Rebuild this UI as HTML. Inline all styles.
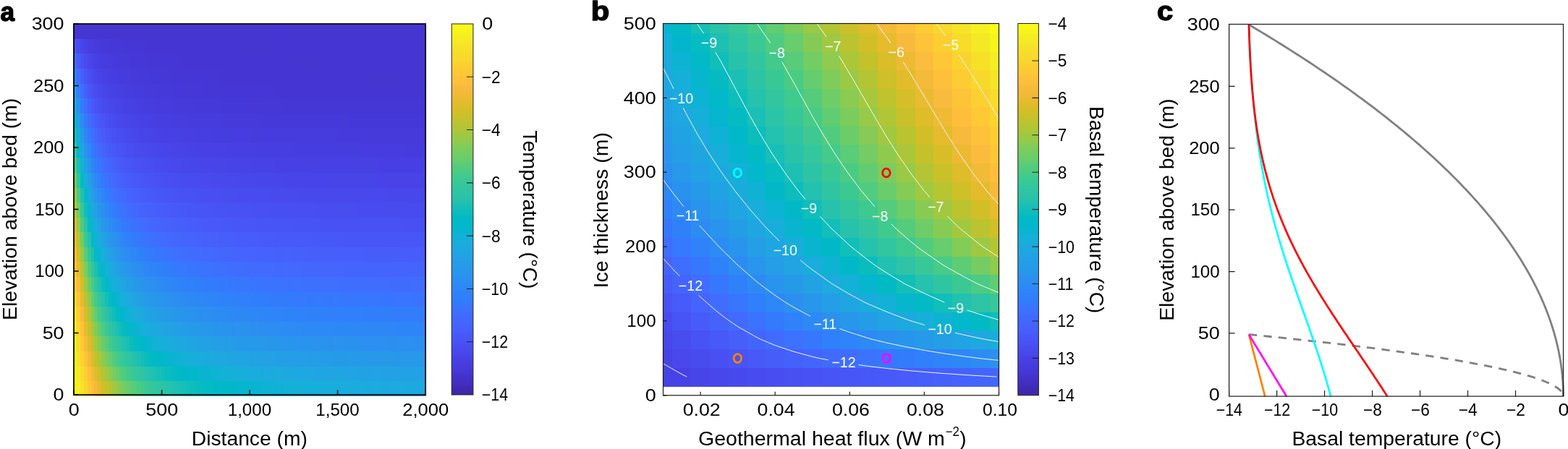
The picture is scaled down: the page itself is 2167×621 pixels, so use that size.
<!DOCTYPE html>
<html><head><meta charset="utf-8"><title>Figure</title>
<style>html,body{margin:0;padding:0;background:#fff;}svg{display:block;}text{font-family:'Liberation Sans', Arial, Helvetica, sans-serif;}</style>
</head><body>
<svg width="2167" height="621" viewBox="0 0 2167 621">
<rect width="2167" height="621" fill="#fff"/>
<g shape-rendering="crispEdges">
<rect x="101.2" y="33.2" width="487.6" height="21.18" fill="#4536d2"/>
<rect x="101.2" y="53.78" width="5.47" height="21.18" fill="#4756f7"/>
<rect x="106.07" y="53.78" width="5.47" height="21.18" fill="#484cf0"/>
<rect x="110.94" y="53.78" width="5.47" height="21.18" fill="#4745e9"/>
<rect x="115.81" y="53.78" width="5.47" height="21.18" fill="#4741e5"/>
<rect x="120.68" y="53.78" width="5.47" height="21.18" fill="#473ee1"/>
<rect x="125.55" y="53.78" width="5.47" height="21.18" fill="#463cdf"/>
<rect x="130.42" y="53.78" width="5.47" height="21.18" fill="#463bdd"/>
<rect x="135.29" y="53.78" width="5.47" height="21.18" fill="#463adb"/>
<rect x="140.16" y="53.78" width="5.47" height="21.18" fill="#4639da"/>
<rect x="145.03" y="53.78" width="5.47" height="21.18" fill="#4639d9"/>
<rect x="149.9" y="53.78" width="10.34" height="21.18" fill="#4538d8"/>
<rect x="159.64" y="53.78" width="10.34" height="21.18" fill="#4538d7"/>
<rect x="169.38" y="53.78" width="15.21" height="21.18" fill="#4537d6"/>
<rect x="183.99" y="53.78" width="15.21" height="21.18" fill="#4537d5"/>
<rect x="198.6" y="53.78" width="5.47" height="21.18" fill="#4536d5"/>
<rect x="203.47" y="53.78" width="39.56" height="21.18" fill="#4536d4"/>
<rect x="242.43" y="53.78" width="88.26" height="21.18" fill="#4536d3"/>
<rect x="330.09" y="53.78" width="54.17" height="21.18" fill="#4536d2"/>
<rect x="383.66" y="53.78" width="205.14" height="21.18" fill="#4535d2"/>
<rect x="101.2" y="74.36" width="5.47" height="21.18" fill="#406dfe"/>
<rect x="106.07" y="74.36" width="5.47" height="21.18" fill="#475cfa"/>
<rect x="110.94" y="74.36" width="5.47" height="21.18" fill="#4852f4"/>
<rect x="115.81" y="74.36" width="5.47" height="21.18" fill="#484bee"/>
<rect x="120.68" y="74.36" width="5.47" height="21.18" fill="#4746ea"/>
<rect x="125.55" y="74.36" width="5.47" height="21.18" fill="#4743e7"/>
<rect x="130.42" y="74.36" width="5.47" height="21.18" fill="#4740e4"/>
<rect x="135.29" y="74.36" width="5.47" height="21.18" fill="#473ee2"/>
<rect x="140.16" y="74.36" width="5.47" height="21.18" fill="#463de0"/>
<rect x="145.03" y="74.36" width="5.47" height="21.18" fill="#463cde"/>
<rect x="149.9" y="74.36" width="5.47" height="21.18" fill="#463bdd"/>
<rect x="154.77" y="74.36" width="5.47" height="21.18" fill="#463adc"/>
<rect x="159.64" y="74.36" width="5.47" height="21.18" fill="#463adb"/>
<rect x="164.51" y="74.36" width="5.47" height="21.18" fill="#4639da"/>
<rect x="169.38" y="74.36" width="5.47" height="21.18" fill="#4639d9"/>
<rect x="174.25" y="74.36" width="5.47" height="21.18" fill="#4539d9"/>
<rect x="179.12" y="74.36" width="10.34" height="21.18" fill="#4538d8"/>
<rect x="188.86" y="74.36" width="15.21" height="21.18" fill="#4538d7"/>
<rect x="203.47" y="74.36" width="20.08" height="21.18" fill="#4537d6"/>
<rect x="222.95" y="74.36" width="24.95" height="21.18" fill="#4537d5"/>
<rect x="247.3" y="74.36" width="5.47" height="21.18" fill="#4536d5"/>
<rect x="252.17" y="74.36" width="49.3" height="21.18" fill="#4536d4"/>
<rect x="300.87" y="74.36" width="102.87" height="21.18" fill="#4536d3"/>
<rect x="403.14" y="74.36" width="49.3" height="21.18" fill="#4536d2"/>
<rect x="451.84" y="74.36" width="136.96" height="21.18" fill="#4535d2"/>
<rect x="101.2" y="94.94" width="5.47" height="21.18" fill="#2e84f8"/>
<rect x="106.07" y="94.94" width="5.47" height="21.18" fill="#3f6eff"/>
<rect x="110.94" y="94.94" width="5.47" height="21.18" fill="#465ffb"/>
<rect x="115.81" y="94.94" width="5.47" height="21.18" fill="#4755f6"/>
<rect x="120.68" y="94.94" width="5.47" height="21.18" fill="#484ef1"/>
<rect x="125.55" y="94.94" width="5.47" height="21.18" fill="#484aed"/>
<rect x="130.42" y="94.94" width="5.47" height="21.18" fill="#4746ea"/>
<rect x="135.29" y="94.94" width="5.47" height="21.18" fill="#4743e7"/>
<rect x="140.16" y="94.94" width="5.47" height="21.18" fill="#4741e5"/>
<rect x="145.03" y="94.94" width="5.47" height="21.18" fill="#4740e3"/>
<rect x="149.9" y="94.94" width="5.47" height="21.18" fill="#473ee2"/>
<rect x="154.77" y="94.94" width="5.47" height="21.18" fill="#463de0"/>
<rect x="159.64" y="94.94" width="5.47" height="21.18" fill="#463cdf"/>
<rect x="164.51" y="94.94" width="5.47" height="21.18" fill="#463cde"/>
<rect x="169.38" y="94.94" width="5.47" height="21.18" fill="#463bdd"/>
<rect x="174.25" y="94.94" width="5.47" height="21.18" fill="#463bdc"/>
<rect x="179.12" y="94.94" width="10.34" height="21.18" fill="#463adb"/>
<rect x="188.86" y="94.94" width="5.47" height="21.18" fill="#4639da"/>
<rect x="193.73" y="94.94" width="5.47" height="21.18" fill="#4639d9"/>
<rect x="198.6" y="94.94" width="10.34" height="21.18" fill="#4539d9"/>
<rect x="208.34" y="94.94" width="15.21" height="21.18" fill="#4538d8"/>
<rect x="222.95" y="94.94" width="15.21" height="21.18" fill="#4538d7"/>
<rect x="237.56" y="94.94" width="29.82" height="21.18" fill="#4537d6"/>
<rect x="266.78" y="94.94" width="29.82" height="21.18" fill="#4537d5"/>
<rect x="296" y="94.94" width="10.34" height="21.18" fill="#4536d5"/>
<rect x="305.74" y="94.94" width="59.04" height="21.18" fill="#4536d4"/>
<rect x="364.18" y="94.94" width="132.09" height="21.18" fill="#4536d3"/>
<rect x="495.67" y="94.94" width="63.91" height="21.18" fill="#4536d2"/>
<rect x="558.98" y="94.94" width="29.82" height="21.18" fill="#4535d2"/>
<rect x="101.2" y="115.52" width="5.47" height="21.18" fill="#2798ea"/>
<rect x="106.07" y="115.52" width="5.47" height="21.18" fill="#2f80fa"/>
<rect x="110.94" y="115.52" width="5.47" height="21.18" fill="#406dfe"/>
<rect x="115.81" y="115.52" width="5.47" height="21.18" fill="#4660fb"/>
<rect x="120.68" y="115.52" width="5.47" height="21.18" fill="#4757f7"/>
<rect x="125.55" y="115.52" width="5.47" height="21.18" fill="#4851f3"/>
<rect x="130.42" y="115.52" width="5.47" height="21.18" fill="#484df0"/>
<rect x="135.29" y="115.52" width="5.47" height="21.18" fill="#4849ed"/>
<rect x="140.16" y="115.52" width="5.47" height="21.18" fill="#4746ea"/>
<rect x="145.03" y="115.52" width="5.47" height="21.18" fill="#4744e8"/>
<rect x="149.9" y="115.52" width="5.47" height="21.18" fill="#4742e6"/>
<rect x="154.77" y="115.52" width="5.47" height="21.18" fill="#4741e5"/>
<rect x="159.64" y="115.52" width="5.47" height="21.18" fill="#4740e3"/>
<rect x="164.51" y="115.52" width="5.47" height="21.18" fill="#473fe2"/>
<rect x="169.38" y="115.52" width="5.47" height="21.18" fill="#463ee1"/>
<rect x="174.25" y="115.52" width="5.47" height="21.18" fill="#463de0"/>
<rect x="179.12" y="115.52" width="5.47" height="21.18" fill="#463cdf"/>
<rect x="183.99" y="115.52" width="5.47" height="21.18" fill="#463cde"/>
<rect x="188.86" y="115.52" width="10.34" height="21.18" fill="#463bdd"/>
<rect x="198.6" y="115.52" width="5.47" height="21.18" fill="#463adc"/>
<rect x="203.47" y="115.52" width="10.34" height="21.18" fill="#463adb"/>
<rect x="213.21" y="115.52" width="5.47" height="21.18" fill="#463ada"/>
<rect x="218.08" y="115.52" width="5.47" height="21.18" fill="#4639da"/>
<rect x="222.95" y="115.52" width="10.34" height="21.18" fill="#4639d9"/>
<rect x="232.69" y="115.52" width="5.47" height="21.18" fill="#4539d9"/>
<rect x="237.56" y="115.52" width="5.47" height="21.18" fill="#4539d8"/>
<rect x="242.43" y="115.52" width="15.21" height="21.18" fill="#4538d8"/>
<rect x="257.04" y="115.52" width="24.95" height="21.18" fill="#4538d7"/>
<rect x="281.39" y="115.52" width="5.47" height="21.18" fill="#4537d7"/>
<rect x="286.26" y="115.52" width="39.56" height="21.18" fill="#4537d6"/>
<rect x="325.22" y="115.52" width="39.56" height="21.18" fill="#4537d5"/>
<rect x="364.18" y="115.52" width="15.21" height="21.18" fill="#4536d5"/>
<rect x="378.79" y="115.52" width="88.26" height="21.18" fill="#4536d4"/>
<rect x="466.45" y="115.52" width="122.35" height="21.18" fill="#4536d3"/>
<rect x="101.2" y="136.1" width="5.47" height="21.18" fill="#1da9e0"/>
<rect x="106.07" y="136.1" width="5.47" height="21.18" fill="#2b91ef"/>
<rect x="110.94" y="136.1" width="5.47" height="21.18" fill="#317dfc"/>
<rect x="115.81" y="136.1" width="5.47" height="21.18" fill="#406dfe"/>
<rect x="120.68" y="136.1" width="5.47" height="21.18" fill="#4562fc"/>
<rect x="125.55" y="136.1" width="5.47" height="21.18" fill="#475af9"/>
<rect x="130.42" y="136.1" width="5.47" height="21.18" fill="#4854f6"/>
<rect x="135.29" y="136.1" width="5.47" height="21.18" fill="#4850f3"/>
<rect x="140.16" y="136.1" width="5.47" height="21.18" fill="#484cf0"/>
<rect x="145.03" y="136.1" width="5.47" height="21.18" fill="#484aed"/>
<rect x="149.9" y="136.1" width="5.47" height="21.18" fill="#4747ec"/>
<rect x="154.77" y="136.1" width="5.47" height="21.18" fill="#4746ea"/>
<rect x="159.64" y="136.1" width="5.47" height="21.18" fill="#4744e8"/>
<rect x="164.51" y="136.1" width="5.47" height="21.18" fill="#4743e7"/>
<rect x="169.38" y="136.1" width="5.47" height="21.18" fill="#4741e5"/>
<rect x="174.25" y="136.1" width="5.47" height="21.18" fill="#4740e4"/>
<rect x="179.12" y="136.1" width="5.47" height="21.18" fill="#4740e3"/>
<rect x="183.99" y="136.1" width="5.47" height="21.18" fill="#473fe2"/>
<rect x="188.86" y="136.1" width="5.47" height="21.18" fill="#473ee1"/>
<rect x="193.73" y="136.1" width="5.47" height="21.18" fill="#463ee1"/>
<rect x="198.6" y="136.1" width="5.47" height="21.18" fill="#463de0"/>
<rect x="203.47" y="136.1" width="5.47" height="21.18" fill="#463ddf"/>
<rect x="208.34" y="136.1" width="5.47" height="21.18" fill="#463cdf"/>
<rect x="213.21" y="136.1" width="5.47" height="21.18" fill="#463cde"/>
<rect x="218.08" y="136.1" width="5.47" height="21.18" fill="#463bde"/>
<rect x="222.95" y="136.1" width="10.34" height="21.18" fill="#463bdd"/>
<rect x="232.69" y="136.1" width="5.47" height="21.18" fill="#463bdc"/>
<rect x="237.56" y="136.1" width="5.47" height="21.18" fill="#463adc"/>
<rect x="242.43" y="136.1" width="15.21" height="21.18" fill="#463adb"/>
<rect x="257.04" y="136.1" width="10.34" height="21.18" fill="#463ada"/>
<rect x="266.78" y="136.1" width="10.34" height="21.18" fill="#4639da"/>
<rect x="276.52" y="136.1" width="10.34" height="21.18" fill="#4639d9"/>
<rect x="286.26" y="136.1" width="20.08" height="21.18" fill="#4539d9"/>
<rect x="305.74" y="136.1" width="34.69" height="21.18" fill="#4538d8"/>
<rect x="339.83" y="136.1" width="49.3" height="21.18" fill="#4538d7"/>
<rect x="388.53" y="136.1" width="5.47" height="21.18" fill="#4537d7"/>
<rect x="393.4" y="136.1" width="98" height="21.18" fill="#4537d6"/>
<rect x="490.8" y="136.1" width="98" height="21.18" fill="#4537d5"/>
<rect x="101.2" y="156.68" width="5.47" height="21.18" fill="#05b6ce"/>
<rect x="106.07" y="156.68" width="5.47" height="21.18" fill="#23a0e5"/>
<rect x="110.94" y="156.68" width="5.47" height="21.18" fill="#2d8bf3"/>
<rect x="115.81" y="156.68" width="5.47" height="21.18" fill="#337bfd"/>
<rect x="120.68" y="156.68" width="5.47" height="21.18" fill="#3f6dfe"/>
<rect x="125.55" y="156.68" width="5.47" height="21.18" fill="#4564fd"/>
<rect x="130.42" y="156.68" width="5.47" height="21.18" fill="#465dfa"/>
<rect x="135.29" y="156.68" width="5.47" height="21.18" fill="#4758f8"/>
<rect x="140.16" y="156.68" width="5.47" height="21.18" fill="#4854f5"/>
<rect x="145.03" y="156.68" width="5.47" height="21.18" fill="#4850f3"/>
<rect x="149.9" y="156.68" width="5.47" height="21.18" fill="#484df1"/>
<rect x="154.77" y="156.68" width="5.47" height="21.18" fill="#484bef"/>
<rect x="159.64" y="156.68" width="5.47" height="21.18" fill="#4849ed"/>
<rect x="164.51" y="156.68" width="5.47" height="21.18" fill="#4747ec"/>
<rect x="169.38" y="156.68" width="5.47" height="21.18" fill="#4746ea"/>
<rect x="174.25" y="156.68" width="5.47" height="21.18" fill="#4745e9"/>
<rect x="179.12" y="156.68" width="5.47" height="21.18" fill="#4744e8"/>
<rect x="183.99" y="156.68" width="5.47" height="21.18" fill="#4743e7"/>
<rect x="188.86" y="156.68" width="5.47" height="21.18" fill="#4742e6"/>
<rect x="193.73" y="156.68" width="5.47" height="21.18" fill="#4741e5"/>
<rect x="198.6" y="156.68" width="10.34" height="21.18" fill="#4740e4"/>
<rect x="208.34" y="156.68" width="5.47" height="21.18" fill="#473fe3"/>
<rect x="213.21" y="156.68" width="5.47" height="21.18" fill="#473fe2"/>
<rect x="218.08" y="156.68" width="5.47" height="21.18" fill="#473ee2"/>
<rect x="222.95" y="156.68" width="10.34" height="21.18" fill="#463ee1"/>
<rect x="232.69" y="156.68" width="10.34" height="21.18" fill="#463de0"/>
<rect x="242.43" y="156.68" width="5.47" height="21.18" fill="#463ddf"/>
<rect x="247.3" y="156.68" width="10.34" height="21.18" fill="#463cdf"/>
<rect x="257.04" y="156.68" width="15.21" height="21.18" fill="#463cde"/>
<rect x="271.65" y="156.68" width="5.47" height="21.18" fill="#463bde"/>
<rect x="276.52" y="156.68" width="20.08" height="21.18" fill="#463bdd"/>
<rect x="296" y="156.68" width="10.34" height="21.18" fill="#463bdc"/>
<rect x="305.74" y="156.68" width="10.34" height="21.18" fill="#463adc"/>
<rect x="315.48" y="156.68" width="34.69" height="21.18" fill="#463adb"/>
<rect x="349.57" y="156.68" width="15.21" height="21.18" fill="#463ada"/>
<rect x="364.18" y="156.68" width="34.69" height="21.18" fill="#4639da"/>
<rect x="398.27" y="156.68" width="24.95" height="21.18" fill="#4639d9"/>
<rect x="422.62" y="156.68" width="49.3" height="21.18" fill="#4539d9"/>
<rect x="471.32" y="156.68" width="10.34" height="21.18" fill="#4539d8"/>
<rect x="481.06" y="156.68" width="107.74" height="21.18" fill="#4538d8"/>
<rect x="101.2" y="177.26" width="5.47" height="21.18" fill="#15bfb7"/>
<rect x="106.07" y="177.26" width="5.47" height="21.18" fill="#17aedb"/>
<rect x="110.94" y="177.26" width="5.47" height="21.18" fill="#2699e9"/>
<rect x="115.81" y="177.26" width="5.47" height="21.18" fill="#2d88f6"/>
<rect x="120.68" y="177.26" width="5.47" height="21.18" fill="#337afd"/>
<rect x="125.55" y="177.26" width="5.47" height="21.18" fill="#3e6fff"/>
<rect x="130.42" y="177.26" width="5.47" height="21.18" fill="#4367fd"/>
<rect x="135.29" y="177.26" width="5.47" height="21.18" fill="#4660fc"/>
<rect x="140.16" y="177.26" width="5.47" height="21.18" fill="#475bf9"/>
<rect x="145.03" y="177.26" width="5.47" height="21.18" fill="#4757f7"/>
<rect x="149.9" y="177.26" width="5.47" height="21.18" fill="#4854f5"/>
<rect x="154.77" y="177.26" width="5.47" height="21.18" fill="#4851f3"/>
<rect x="159.64" y="177.26" width="5.47" height="21.18" fill="#484ff2"/>
<rect x="164.51" y="177.26" width="5.47" height="21.18" fill="#484df0"/>
<rect x="169.38" y="177.26" width="5.47" height="21.18" fill="#484bef"/>
<rect x="174.25" y="177.26" width="5.47" height="21.18" fill="#484aee"/>
<rect x="179.12" y="177.26" width="5.47" height="21.18" fill="#4848ec"/>
<rect x="183.99" y="177.26" width="5.47" height="21.18" fill="#4747eb"/>
<rect x="188.86" y="177.26" width="5.47" height="21.18" fill="#4746ea"/>
<rect x="193.73" y="177.26" width="5.47" height="21.18" fill="#4745e9"/>
<rect x="198.6" y="177.26" width="5.47" height="21.18" fill="#4744e9"/>
<rect x="203.47" y="177.26" width="5.47" height="21.18" fill="#4744e8"/>
<rect x="208.34" y="177.26" width="5.47" height="21.18" fill="#4743e7"/>
<rect x="213.21" y="177.26" width="5.47" height="21.18" fill="#4742e7"/>
<rect x="218.08" y="177.26" width="5.47" height="21.18" fill="#4742e6"/>
<rect x="222.95" y="177.26" width="10.34" height="21.18" fill="#4741e5"/>
<rect x="232.69" y="177.26" width="5.47" height="21.18" fill="#4741e4"/>
<rect x="237.56" y="177.26" width="5.47" height="21.18" fill="#4740e4"/>
<rect x="242.43" y="177.26" width="10.34" height="21.18" fill="#4740e3"/>
<rect x="252.17" y="177.26" width="5.47" height="21.18" fill="#473fe3"/>
<rect x="257.04" y="177.26" width="10.34" height="21.18" fill="#473fe2"/>
<rect x="266.78" y="177.26" width="5.47" height="21.18" fill="#473ee2"/>
<rect x="271.65" y="177.26" width="5.47" height="21.18" fill="#473ee1"/>
<rect x="276.52" y="177.26" width="15.21" height="21.18" fill="#463ee1"/>
<rect x="291.13" y="177.26" width="20.08" height="21.18" fill="#463de0"/>
<rect x="310.61" y="177.26" width="10.34" height="21.18" fill="#463ddf"/>
<rect x="320.35" y="177.26" width="24.95" height="21.18" fill="#463cdf"/>
<rect x="344.7" y="177.26" width="24.95" height="21.18" fill="#463cde"/>
<rect x="369.05" y="177.26" width="10.34" height="21.18" fill="#463bde"/>
<rect x="378.79" y="177.26" width="49.3" height="21.18" fill="#463bdd"/>
<rect x="427.49" y="177.26" width="39.56" height="21.18" fill="#463bdc"/>
<rect x="466.45" y="177.26" width="34.69" height="21.18" fill="#463adc"/>
<rect x="500.54" y="177.26" width="88.26" height="21.18" fill="#463adb"/>
<rect x="101.2" y="197.84" width="5.47" height="21.18" fill="#31c6a0"/>
<rect x="106.07" y="197.84" width="5.47" height="21.18" fill="#01b8c9"/>
<rect x="110.94" y="197.84" width="5.47" height="21.18" fill="#1fa6e1"/>
<rect x="115.81" y="197.84" width="5.47" height="21.18" fill="#2895ec"/>
<rect x="120.68" y="197.84" width="5.47" height="21.18" fill="#2e87f7"/>
<rect x="125.55" y="197.84" width="5.47" height="21.18" fill="#327bfc"/>
<rect x="130.42" y="197.84" width="5.47" height="21.18" fill="#3c71ff"/>
<rect x="135.29" y="197.84" width="5.47" height="21.18" fill="#426afe"/>
<rect x="140.16" y="197.84" width="5.47" height="21.18" fill="#4564fd"/>
<rect x="145.03" y="197.84" width="5.47" height="21.18" fill="#465ffb"/>
<rect x="149.9" y="197.84" width="5.47" height="21.18" fill="#475bf9"/>
<rect x="154.77" y="197.84" width="5.47" height="21.18" fill="#4758f8"/>
<rect x="159.64" y="197.84" width="5.47" height="21.18" fill="#4755f6"/>
<rect x="164.51" y="197.84" width="5.47" height="21.18" fill="#4853f5"/>
<rect x="169.38" y="197.84" width="5.47" height="21.18" fill="#4851f3"/>
<rect x="174.25" y="197.84" width="5.47" height="21.18" fill="#484ff2"/>
<rect x="179.12" y="197.84" width="5.47" height="21.18" fill="#484ef1"/>
<rect x="183.99" y="197.84" width="5.47" height="21.18" fill="#484cf0"/>
<rect x="188.86" y="197.84" width="5.47" height="21.18" fill="#484bef"/>
<rect x="193.73" y="197.84" width="5.47" height="21.18" fill="#484aee"/>
<rect x="198.6" y="197.84" width="5.47" height="21.18" fill="#4849ed"/>
<rect x="203.47" y="197.84" width="5.47" height="21.18" fill="#4848ec"/>
<rect x="208.34" y="197.84" width="10.34" height="21.18" fill="#4747eb"/>
<rect x="218.08" y="197.84" width="5.47" height="21.18" fill="#4746ea"/>
<rect x="222.95" y="197.84" width="10.34" height="21.18" fill="#4745e9"/>
<rect x="232.69" y="197.84" width="10.34" height="21.18" fill="#4744e8"/>
<rect x="242.43" y="197.84" width="15.21" height="21.18" fill="#4743e7"/>
<rect x="257.04" y="197.84" width="15.21" height="21.18" fill="#4742e6"/>
<rect x="271.65" y="197.84" width="15.21" height="21.18" fill="#4741e5"/>
<rect x="286.26" y="197.84" width="5.47" height="21.18" fill="#4741e4"/>
<rect x="291.13" y="197.84" width="15.21" height="21.18" fill="#4740e4"/>
<rect x="305.74" y="197.84" width="10.34" height="21.18" fill="#4740e3"/>
<rect x="315.48" y="197.84" width="15.21" height="21.18" fill="#473fe3"/>
<rect x="330.09" y="197.84" width="24.95" height="21.18" fill="#473fe2"/>
<rect x="354.44" y="197.84" width="5.47" height="21.18" fill="#473ee2"/>
<rect x="359.31" y="197.84" width="15.21" height="21.18" fill="#473ee1"/>
<rect x="373.92" y="197.84" width="29.82" height="21.18" fill="#463ee1"/>
<rect x="403.14" y="197.84" width="5.47" height="21.18" fill="#463ee0"/>
<rect x="408.01" y="197.84" width="54.17" height="21.18" fill="#463de0"/>
<rect x="461.58" y="197.84" width="34.69" height="21.18" fill="#463ddf"/>
<rect x="495.67" y="197.84" width="63.91" height="21.18" fill="#463cdf"/>
<rect x="558.98" y="197.84" width="29.82" height="21.18" fill="#463cde"/>
<rect x="101.2" y="218.42" width="5.47" height="21.18" fill="#4acb84"/>
<rect x="106.07" y="218.42" width="5.47" height="21.18" fill="#1bc0b4"/>
<rect x="110.94" y="218.42" width="5.47" height="21.18" fill="#10b2d5"/>
<rect x="115.81" y="218.42" width="5.47" height="21.18" fill="#22a1e4"/>
<rect x="120.68" y="218.42" width="5.47" height="21.18" fill="#2a93ed"/>
<rect x="125.55" y="218.42" width="5.47" height="21.18" fill="#2d87f7"/>
<rect x="130.42" y="218.42" width="5.47" height="21.18" fill="#317dfc"/>
<rect x="135.29" y="218.42" width="5.47" height="21.18" fill="#3975fe"/>
<rect x="140.16" y="218.42" width="5.47" height="21.18" fill="#3f6efe"/>
<rect x="145.03" y="218.42" width="5.47" height="21.18" fill="#4368fe"/>
<rect x="149.9" y="218.42" width="5.47" height="21.18" fill="#4564fd"/>
<rect x="154.77" y="218.42" width="5.47" height="21.18" fill="#4660fb"/>
<rect x="159.64" y="218.42" width="5.47" height="21.18" fill="#475dfa"/>
<rect x="164.51" y="218.42" width="5.47" height="21.18" fill="#475af9"/>
<rect x="169.38" y="218.42" width="5.47" height="21.18" fill="#4758f8"/>
<rect x="174.25" y="218.42" width="5.47" height="21.18" fill="#4756f6"/>
<rect x="179.12" y="218.42" width="5.47" height="21.18" fill="#4854f5"/>
<rect x="183.99" y="218.42" width="5.47" height="21.18" fill="#4852f4"/>
<rect x="188.86" y="218.42" width="5.47" height="21.18" fill="#4851f3"/>
<rect x="193.73" y="218.42" width="5.47" height="21.18" fill="#4850f2"/>
<rect x="198.6" y="218.42" width="5.47" height="21.18" fill="#484ff1"/>
<rect x="203.47" y="218.42" width="5.47" height="21.18" fill="#484ef1"/>
<rect x="208.34" y="218.42" width="5.47" height="21.18" fill="#484df0"/>
<rect x="213.21" y="218.42" width="5.47" height="21.18" fill="#484cef"/>
<rect x="218.08" y="218.42" width="5.47" height="21.18" fill="#484bef"/>
<rect x="222.95" y="218.42" width="10.34" height="21.18" fill="#484aee"/>
<rect x="232.69" y="218.42" width="10.34" height="21.18" fill="#4849ed"/>
<rect x="242.43" y="218.42" width="10.34" height="21.18" fill="#4848ec"/>
<rect x="252.17" y="218.42" width="10.34" height="21.18" fill="#4747eb"/>
<rect x="261.91" y="218.42" width="5.47" height="21.18" fill="#4746eb"/>
<rect x="266.78" y="218.42" width="10.34" height="21.18" fill="#4746ea"/>
<rect x="276.52" y="218.42" width="15.21" height="21.18" fill="#4745e9"/>
<rect x="291.13" y="218.42" width="5.47" height="21.18" fill="#4744e9"/>
<rect x="296" y="218.42" width="20.08" height="21.18" fill="#4744e8"/>
<rect x="315.48" y="218.42" width="29.82" height="21.18" fill="#4743e7"/>
<rect x="344.7" y="218.42" width="34.69" height="21.18" fill="#4742e6"/>
<rect x="378.79" y="218.42" width="44.43" height="21.18" fill="#4741e5"/>
<rect x="422.62" y="218.42" width="15.21" height="21.18" fill="#4741e4"/>
<rect x="437.23" y="218.42" width="49.3" height="21.18" fill="#4740e4"/>
<rect x="485.93" y="218.42" width="39.56" height="21.18" fill="#4740e3"/>
<rect x="524.89" y="218.42" width="54.17" height="21.18" fill="#473fe3"/>
<rect x="578.46" y="218.42" width="10.34" height="21.18" fill="#473fe2"/>
<rect x="101.2" y="239" width="5.47" height="21.18" fill="#70cd65"/>
<rect x="106.07" y="239" width="5.47" height="21.18" fill="#32c69e"/>
<rect x="110.94" y="239" width="5.47" height="21.18" fill="#02bbc3"/>
<rect x="115.81" y="239" width="5.47" height="21.18" fill="#18addb"/>
<rect x="120.68" y="239" width="5.47" height="21.18" fill="#249fe5"/>
<rect x="125.55" y="239" width="5.47" height="21.18" fill="#2a93ed"/>
<rect x="130.42" y="239" width="5.47" height="21.18" fill="#2d89f5"/>
<rect x="135.29" y="239" width="5.47" height="21.18" fill="#2f81fa"/>
<rect x="140.16" y="239" width="5.47" height="21.18" fill="#3579fd"/>
<rect x="145.03" y="239" width="5.47" height="21.18" fill="#3b73fe"/>
<rect x="149.9" y="239" width="5.47" height="21.18" fill="#406dfe"/>
<rect x="154.77" y="239" width="5.47" height="21.18" fill="#4269fe"/>
<rect x="159.64" y="239" width="5.47" height="21.18" fill="#4465fd"/>
<rect x="164.51" y="239" width="5.47" height="21.18" fill="#4562fc"/>
<rect x="169.38" y="239" width="5.47" height="21.18" fill="#465ffb"/>
<rect x="174.25" y="239" width="5.47" height="21.18" fill="#465dfa"/>
<rect x="179.12" y="239" width="5.47" height="21.18" fill="#475bf9"/>
<rect x="183.99" y="239" width="5.47" height="21.18" fill="#4759f8"/>
<rect x="188.86" y="239" width="5.47" height="21.18" fill="#4758f8"/>
<rect x="193.73" y="239" width="5.47" height="21.18" fill="#4756f7"/>
<rect x="198.6" y="239" width="5.47" height="21.18" fill="#4755f6"/>
<rect x="203.47" y="239" width="5.47" height="21.18" fill="#4854f5"/>
<rect x="208.34" y="239" width="5.47" height="21.18" fill="#4853f5"/>
<rect x="213.21" y="239" width="5.47" height="21.18" fill="#4852f4"/>
<rect x="218.08" y="239" width="5.47" height="21.18" fill="#4851f3"/>
<rect x="222.95" y="239" width="5.47" height="21.18" fill="#4850f3"/>
<rect x="227.82" y="239" width="10.34" height="21.18" fill="#484ff2"/>
<rect x="237.56" y="239" width="5.47" height="21.18" fill="#484ef1"/>
<rect x="242.43" y="239" width="5.47" height="21.18" fill="#484df1"/>
<rect x="247.3" y="239" width="5.47" height="21.18" fill="#484df0"/>
<rect x="252.17" y="239" width="5.47" height="21.18" fill="#484cf0"/>
<rect x="257.04" y="239" width="5.47" height="21.18" fill="#484cef"/>
<rect x="261.91" y="239" width="10.34" height="21.18" fill="#484bef"/>
<rect x="271.65" y="239" width="5.47" height="21.18" fill="#484bee"/>
<rect x="276.52" y="239" width="10.34" height="21.18" fill="#484aee"/>
<rect x="286.26" y="239" width="5.47" height="21.18" fill="#484aed"/>
<rect x="291.13" y="239" width="15.21" height="21.18" fill="#4849ed"/>
<rect x="305.74" y="239" width="24.95" height="21.18" fill="#4848ec"/>
<rect x="330.09" y="239" width="5.47" height="21.18" fill="#4747ec"/>
<rect x="334.96" y="239" width="20.08" height="21.18" fill="#4747eb"/>
<rect x="354.44" y="239" width="10.34" height="21.18" fill="#4746eb"/>
<rect x="364.18" y="239" width="29.82" height="21.18" fill="#4746ea"/>
<rect x="393.4" y="239" width="5.47" height="21.18" fill="#4745ea"/>
<rect x="398.27" y="239" width="44.43" height="21.18" fill="#4745e9"/>
<rect x="442.1" y="239" width="10.34" height="21.18" fill="#4744e9"/>
<rect x="451.84" y="239" width="68.78" height="21.18" fill="#4744e8"/>
<rect x="520.02" y="239" width="10.34" height="21.18" fill="#4743e8"/>
<rect x="529.76" y="239" width="59.04" height="21.18" fill="#4743e7"/>
<rect x="101.2" y="259.58" width="5.47" height="21.18" fill="#98c947"/>
<rect x="106.07" y="259.58" width="5.47" height="21.18" fill="#4acb85"/>
<rect x="110.94" y="259.58" width="5.47" height="21.18" fill="#22c1b0"/>
<rect x="115.81" y="259.58" width="5.47" height="21.18" fill="#03b7cc"/>
<rect x="120.68" y="259.58" width="5.47" height="21.18" fill="#1baade"/>
<rect x="125.55" y="259.58" width="5.47" height="21.18" fill="#249fe6"/>
<rect x="130.42" y="259.58" width="5.47" height="21.18" fill="#2994ed"/>
<rect x="135.29" y="259.58" width="5.47" height="21.18" fill="#2d8cf3"/>
<rect x="140.16" y="259.58" width="5.47" height="21.18" fill="#2e84f8"/>
<rect x="145.03" y="259.58" width="5.47" height="21.18" fill="#317efb"/>
<rect x="149.9" y="259.58" width="5.47" height="21.18" fill="#3678fe"/>
<rect x="154.77" y="259.58" width="5.47" height="21.18" fill="#3b73fe"/>
<rect x="159.64" y="259.58" width="5.47" height="21.18" fill="#3f6eff"/>
<rect x="164.51" y="259.58" width="5.47" height="21.18" fill="#416bfe"/>
<rect x="169.38" y="259.58" width="5.47" height="21.18" fill="#4368fd"/>
<rect x="174.25" y="259.58" width="5.47" height="21.18" fill="#4465fd"/>
<rect x="179.12" y="259.58" width="5.47" height="21.18" fill="#4562fc"/>
<rect x="183.99" y="259.58" width="5.47" height="21.18" fill="#4660fc"/>
<rect x="188.86" y="259.58" width="5.47" height="21.18" fill="#465ffb"/>
<rect x="193.73" y="259.58" width="5.47" height="21.18" fill="#465dfa"/>
<rect x="198.6" y="259.58" width="5.47" height="21.18" fill="#475bfa"/>
<rect x="203.47" y="259.58" width="5.47" height="21.18" fill="#475af9"/>
<rect x="208.34" y="259.58" width="5.47" height="21.18" fill="#4759f8"/>
<rect x="213.21" y="259.58" width="5.47" height="21.18" fill="#4758f8"/>
<rect x="218.08" y="259.58" width="5.47" height="21.18" fill="#4757f7"/>
<rect x="222.95" y="259.58" width="5.47" height="21.18" fill="#4756f7"/>
<rect x="227.82" y="259.58" width="5.47" height="21.18" fill="#4755f6"/>
<rect x="232.69" y="259.58" width="5.47" height="21.18" fill="#4854f6"/>
<rect x="237.56" y="259.58" width="5.47" height="21.18" fill="#4854f5"/>
<rect x="242.43" y="259.58" width="5.47" height="21.18" fill="#4853f5"/>
<rect x="247.3" y="259.58" width="10.34" height="21.18" fill="#4852f4"/>
<rect x="257.04" y="259.58" width="5.47" height="21.18" fill="#4851f4"/>
<rect x="261.91" y="259.58" width="5.47" height="21.18" fill="#4851f3"/>
<rect x="266.78" y="259.58" width="5.47" height="21.18" fill="#4850f3"/>
<rect x="271.65" y="259.58" width="5.47" height="21.18" fill="#4850f2"/>
<rect x="276.52" y="259.58" width="15.21" height="21.18" fill="#484ff2"/>
<rect x="291.13" y="259.58" width="15.21" height="21.18" fill="#484ef1"/>
<rect x="305.74" y="259.58" width="5.47" height="21.18" fill="#484df1"/>
<rect x="310.61" y="259.58" width="15.21" height="21.18" fill="#484df0"/>
<rect x="325.22" y="259.58" width="10.34" height="21.18" fill="#484cf0"/>
<rect x="334.96" y="259.58" width="10.34" height="21.18" fill="#484cef"/>
<rect x="344.7" y="259.58" width="20.08" height="21.18" fill="#484bef"/>
<rect x="364.18" y="259.58" width="10.34" height="21.18" fill="#484bee"/>
<rect x="373.92" y="259.58" width="29.82" height="21.18" fill="#484aee"/>
<rect x="403.14" y="259.58" width="10.34" height="21.18" fill="#484aed"/>
<rect x="412.88" y="259.58" width="44.43" height="21.18" fill="#4849ed"/>
<rect x="456.71" y="259.58" width="5.47" height="21.18" fill="#4849ec"/>
<rect x="461.58" y="259.58" width="73.65" height="21.18" fill="#4848ec"/>
<rect x="534.63" y="259.58" width="10.34" height="21.18" fill="#4747ec"/>
<rect x="544.37" y="259.58" width="44.43" height="21.18" fill="#4747eb"/>
<rect x="101.2" y="280.16" width="5.47" height="21.18" fill="#bbc42f"/>
<rect x="106.07" y="280.16" width="5.47" height="21.18" fill="#6dcd67"/>
<rect x="110.94" y="280.16" width="5.47" height="21.18" fill="#34c79b"/>
<rect x="115.81" y="280.16" width="5.47" height="21.18" fill="#0fbebb"/>
<rect x="120.68" y="280.16" width="5.47" height="21.18" fill="#09b4d1"/>
<rect x="125.55" y="280.16" width="5.47" height="21.18" fill="#1ca9df"/>
<rect x="130.42" y="280.16" width="5.47" height="21.18" fill="#249fe5"/>
<rect x="135.29" y="280.16" width="5.47" height="21.18" fill="#2796eb"/>
<rect x="140.16" y="280.16" width="5.47" height="21.18" fill="#2c8ff1"/>
<rect x="145.03" y="280.16" width="5.47" height="21.18" fill="#2d88f6"/>
<rect x="149.9" y="280.16" width="5.47" height="21.18" fill="#2f82f9"/>
<rect x="154.77" y="280.16" width="5.47" height="21.18" fill="#317dfc"/>
<rect x="159.64" y="280.16" width="5.47" height="21.18" fill="#3578fd"/>
<rect x="164.51" y="280.16" width="5.47" height="21.18" fill="#3974fe"/>
<rect x="169.38" y="280.16" width="5.47" height="21.18" fill="#3d71ff"/>
<rect x="174.25" y="280.16" width="5.47" height="21.18" fill="#3f6dfe"/>
<rect x="179.12" y="280.16" width="5.47" height="21.18" fill="#416bfe"/>
<rect x="183.99" y="280.16" width="5.47" height="21.18" fill="#4368fe"/>
<rect x="188.86" y="280.16" width="5.47" height="21.18" fill="#4466fd"/>
<rect x="193.73" y="280.16" width="5.47" height="21.18" fill="#4464fd"/>
<rect x="198.6" y="280.16" width="5.47" height="21.18" fill="#4563fc"/>
<rect x="203.47" y="280.16" width="5.47" height="21.18" fill="#4561fc"/>
<rect x="208.34" y="280.16" width="5.47" height="21.18" fill="#4660fb"/>
<rect x="213.21" y="280.16" width="5.47" height="21.18" fill="#465efb"/>
<rect x="218.08" y="280.16" width="5.47" height="21.18" fill="#465dfb"/>
<rect x="222.95" y="280.16" width="5.47" height="21.18" fill="#475cfa"/>
<rect x="227.82" y="280.16" width="5.47" height="21.18" fill="#475bfa"/>
<rect x="232.69" y="280.16" width="10.34" height="21.18" fill="#475af9"/>
<rect x="242.43" y="280.16" width="5.47" height="21.18" fill="#4759f8"/>
<rect x="247.3" y="280.16" width="10.34" height="21.18" fill="#4758f8"/>
<rect x="257.04" y="280.16" width="5.47" height="21.18" fill="#4757f7"/>
<rect x="261.91" y="280.16" width="10.34" height="21.18" fill="#4756f7"/>
<rect x="271.65" y="280.16" width="10.34" height="21.18" fill="#4755f6"/>
<rect x="281.39" y="280.16" width="5.47" height="21.18" fill="#4854f6"/>
<rect x="286.26" y="280.16" width="10.34" height="21.18" fill="#4854f5"/>
<rect x="296" y="280.16" width="10.34" height="21.18" fill="#4853f5"/>
<rect x="305.74" y="280.16" width="5.47" height="21.18" fill="#4853f4"/>
<rect x="310.61" y="280.16" width="15.21" height="21.18" fill="#4852f4"/>
<rect x="325.22" y="280.16" width="5.47" height="21.18" fill="#4851f4"/>
<rect x="330.09" y="280.16" width="15.21" height="21.18" fill="#4851f3"/>
<rect x="344.7" y="280.16" width="15.21" height="21.18" fill="#4850f3"/>
<rect x="359.31" y="280.16" width="10.34" height="21.18" fill="#4850f2"/>
<rect x="369.05" y="280.16" width="29.82" height="21.18" fill="#484ff2"/>
<rect x="398.27" y="280.16" width="39.56" height="21.18" fill="#484ef1"/>
<rect x="437.23" y="280.16" width="15.21" height="21.18" fill="#484df1"/>
<rect x="451.84" y="280.16" width="39.56" height="21.18" fill="#484df0"/>
<rect x="490.8" y="280.16" width="34.69" height="21.18" fill="#484cf0"/>
<rect x="524.89" y="280.16" width="39.56" height="21.18" fill="#484cef"/>
<rect x="563.85" y="280.16" width="24.95" height="21.18" fill="#484bef"/>
<rect x="101.2" y="300.74" width="5.47" height="21.18" fill="#d8be28"/>
<rect x="106.07" y="300.74" width="5.47" height="21.18" fill="#93ca4b"/>
<rect x="110.94" y="300.74" width="5.47" height="21.18" fill="#4dcb82"/>
<rect x="115.81" y="300.74" width="5.47" height="21.18" fill="#2bc3a8"/>
<rect x="120.68" y="300.74" width="5.47" height="21.18" fill="#05bbc1"/>
<rect x="125.55" y="300.74" width="5.47" height="21.18" fill="#0db3d3"/>
<rect x="130.42" y="300.74" width="5.47" height="21.18" fill="#1caadf"/>
<rect x="135.29" y="300.74" width="5.47" height="21.18" fill="#23a1e4"/>
<rect x="140.16" y="300.74" width="5.47" height="21.18" fill="#2699e9"/>
<rect x="145.03" y="300.74" width="5.47" height="21.18" fill="#2a93ee"/>
<rect x="149.9" y="300.74" width="5.47" height="21.18" fill="#2d8df2"/>
<rect x="154.77" y="300.74" width="5.47" height="21.18" fill="#2d87f7"/>
<rect x="159.64" y="300.74" width="5.47" height="21.18" fill="#2e83f9"/>
<rect x="164.51" y="300.74" width="5.47" height="21.18" fill="#307ffb"/>
<rect x="169.38" y="300.74" width="5.47" height="21.18" fill="#337bfd"/>
<rect x="174.25" y="300.74" width="5.47" height="21.18" fill="#3677fe"/>
<rect x="179.12" y="300.74" width="5.47" height="21.18" fill="#3974fe"/>
<rect x="183.99" y="300.74" width="5.47" height="21.18" fill="#3c71ff"/>
<rect x="188.86" y="300.74" width="5.47" height="21.18" fill="#3e6fff"/>
<rect x="193.73" y="300.74" width="5.47" height="21.18" fill="#406dfe"/>
<rect x="198.6" y="300.74" width="5.47" height="21.18" fill="#416bfe"/>
<rect x="203.47" y="300.74" width="5.47" height="21.18" fill="#4269fe"/>
<rect x="208.34" y="300.74" width="5.47" height="21.18" fill="#4367fd"/>
<rect x="213.21" y="300.74" width="5.47" height="21.18" fill="#4466fd"/>
<rect x="218.08" y="300.74" width="5.47" height="21.18" fill="#4465fd"/>
<rect x="222.95" y="300.74" width="5.47" height="21.18" fill="#4563fd"/>
<rect x="227.82" y="300.74" width="5.47" height="21.18" fill="#4562fc"/>
<rect x="232.69" y="300.74" width="5.47" height="21.18" fill="#4561fc"/>
<rect x="237.56" y="300.74" width="5.47" height="21.18" fill="#4660fc"/>
<rect x="242.43" y="300.74" width="10.34" height="21.18" fill="#465ffb"/>
<rect x="252.17" y="300.74" width="5.47" height="21.18" fill="#465efb"/>
<rect x="257.04" y="300.74" width="5.47" height="21.18" fill="#465dfb"/>
<rect x="261.91" y="300.74" width="5.47" height="21.18" fill="#475dfa"/>
<rect x="266.78" y="300.74" width="5.47" height="21.18" fill="#475cfa"/>
<rect x="271.65" y="300.74" width="5.47" height="21.18" fill="#475bfa"/>
<rect x="276.52" y="300.74" width="5.47" height="21.18" fill="#475bf9"/>
<rect x="281.39" y="300.74" width="10.34" height="21.18" fill="#475af9"/>
<rect x="291.13" y="300.74" width="5.47" height="21.18" fill="#4759f9"/>
<rect x="296" y="300.74" width="10.34" height="21.18" fill="#4759f8"/>
<rect x="305.74" y="300.74" width="15.21" height="21.18" fill="#4758f8"/>
<rect x="320.35" y="300.74" width="15.21" height="21.18" fill="#4757f7"/>
<rect x="334.96" y="300.74" width="15.21" height="21.18" fill="#4756f7"/>
<rect x="349.57" y="300.74" width="5.47" height="21.18" fill="#4756f6"/>
<rect x="354.44" y="300.74" width="20.08" height="21.18" fill="#4755f6"/>
<rect x="373.92" y="300.74" width="5.47" height="21.18" fill="#4855f6"/>
<rect x="378.79" y="300.74" width="5.47" height="21.18" fill="#4854f6"/>
<rect x="383.66" y="300.74" width="24.95" height="21.18" fill="#4854f5"/>
<rect x="408.01" y="300.74" width="24.95" height="21.18" fill="#4853f5"/>
<rect x="432.36" y="300.74" width="10.34" height="21.18" fill="#4853f4"/>
<rect x="442.1" y="300.74" width="44.43" height="21.18" fill="#4852f4"/>
<rect x="485.93" y="300.74" width="15.21" height="21.18" fill="#4851f4"/>
<rect x="500.54" y="300.74" width="54.17" height="21.18" fill="#4851f3"/>
<rect x="554.11" y="300.74" width="34.69" height="21.18" fill="#4850f3"/>
<rect x="101.2" y="321.32" width="5.47" height="21.18" fill="#eeba34"/>
<rect x="106.07" y="321.32" width="5.47" height="21.18" fill="#b5c533"/>
<rect x="110.94" y="321.32" width="5.47" height="21.18" fill="#6fcd66"/>
<rect x="115.81" y="321.32" width="5.47" height="21.18" fill="#3bc993"/>
<rect x="120.68" y="321.32" width="5.47" height="21.18" fill="#23c1af"/>
<rect x="125.55" y="321.32" width="5.47" height="21.18" fill="#02bac4"/>
<rect x="130.42" y="321.32" width="5.47" height="21.18" fill="#0cb3d3"/>
<rect x="135.29" y="321.32" width="5.47" height="21.18" fill="#1aabdd"/>
<rect x="140.16" y="321.32" width="5.47" height="21.18" fill="#21a4e3"/>
<rect x="145.03" y="321.32" width="5.47" height="21.18" fill="#259de7"/>
<rect x="149.9" y="321.32" width="5.47" height="21.18" fill="#2797eb"/>
<rect x="154.77" y="321.32" width="5.47" height="21.18" fill="#2b92ee"/>
<rect x="159.64" y="321.32" width="5.47" height="21.18" fill="#2d8df2"/>
<rect x="164.51" y="321.32" width="5.47" height="21.18" fill="#2d89f6"/>
<rect x="169.38" y="321.32" width="5.47" height="21.18" fill="#2e85f8"/>
<rect x="174.25" y="321.32" width="5.47" height="21.18" fill="#2f81fa"/>
<rect x="179.12" y="321.32" width="5.47" height="21.18" fill="#317efb"/>
<rect x="183.99" y="321.32" width="5.47" height="21.18" fill="#327bfc"/>
<rect x="188.86" y="321.32" width="5.47" height="21.18" fill="#3579fd"/>
<rect x="193.73" y="321.32" width="5.47" height="21.18" fill="#3776fe"/>
<rect x="198.6" y="321.32" width="5.47" height="21.18" fill="#3a74fe"/>
<rect x="203.47" y="321.32" width="5.47" height="21.18" fill="#3b72ff"/>
<rect x="208.34" y="321.32" width="5.47" height="21.18" fill="#3d70ff"/>
<rect x="213.21" y="321.32" width="5.47" height="21.18" fill="#3f6eff"/>
<rect x="218.08" y="321.32" width="5.47" height="21.18" fill="#406dfe"/>
<rect x="222.95" y="321.32" width="5.47" height="21.18" fill="#416cfe"/>
<rect x="227.82" y="321.32" width="5.47" height="21.18" fill="#426afe"/>
<rect x="232.69" y="321.32" width="5.47" height="21.18" fill="#4269fe"/>
<rect x="237.56" y="321.32" width="5.47" height="21.18" fill="#4368fe"/>
<rect x="242.43" y="321.32" width="5.47" height="21.18" fill="#4367fd"/>
<rect x="247.3" y="321.32" width="5.47" height="21.18" fill="#4466fd"/>
<rect x="252.17" y="321.32" width="10.34" height="21.18" fill="#4465fd"/>
<rect x="261.91" y="321.32" width="5.47" height="21.18" fill="#4564fd"/>
<rect x="266.78" y="321.32" width="5.47" height="21.18" fill="#4563fd"/>
<rect x="271.65" y="321.32" width="10.34" height="21.18" fill="#4562fc"/>
<rect x="281.39" y="321.32" width="5.47" height="21.18" fill="#4561fc"/>
<rect x="286.26" y="321.32" width="5.47" height="21.18" fill="#4661fc"/>
<rect x="291.13" y="321.32" width="5.47" height="21.18" fill="#4660fc"/>
<rect x="296" y="321.32" width="5.47" height="21.18" fill="#4660fb"/>
<rect x="300.87" y="321.32" width="10.34" height="21.18" fill="#465ffb"/>
<rect x="310.61" y="321.32" width="15.21" height="21.18" fill="#465efb"/>
<rect x="325.22" y="321.32" width="5.47" height="21.18" fill="#465dfb"/>
<rect x="330.09" y="321.32" width="5.47" height="21.18" fill="#465dfa"/>
<rect x="334.96" y="321.32" width="5.47" height="21.18" fill="#475dfa"/>
<rect x="339.83" y="321.32" width="20.08" height="21.18" fill="#475cfa"/>
<rect x="359.31" y="321.32" width="5.47" height="21.18" fill="#475bfa"/>
<rect x="364.18" y="321.32" width="15.21" height="21.18" fill="#475bf9"/>
<rect x="378.79" y="321.32" width="24.95" height="21.18" fill="#475af9"/>
<rect x="403.14" y="321.32" width="5.47" height="21.18" fill="#4759f9"/>
<rect x="408.01" y="321.32" width="24.95" height="21.18" fill="#4759f8"/>
<rect x="432.36" y="321.32" width="39.56" height="21.18" fill="#4758f8"/>
<rect x="471.32" y="321.32" width="5.47" height="21.18" fill="#4757f8"/>
<rect x="476.19" y="321.32" width="49.3" height="21.18" fill="#4757f7"/>
<rect x="524.89" y="321.32" width="44.43" height="21.18" fill="#4756f7"/>
<rect x="568.72" y="321.32" width="20.08" height="21.18" fill="#4756f6"/>
<rect x="101.2" y="341.9" width="5.47" height="21.18" fill="#fdbd3d"/>
<rect x="106.07" y="341.9" width="5.47" height="21.18" fill="#d2bf27"/>
<rect x="110.94" y="341.9" width="5.47" height="21.18" fill="#93ca4b"/>
<rect x="115.81" y="341.9" width="5.47" height="21.18" fill="#58cc79"/>
<rect x="120.68" y="341.9" width="5.47" height="21.18" fill="#34c79b"/>
<rect x="125.55" y="341.9" width="5.47" height="21.18" fill="#1ec0b2"/>
<rect x="130.42" y="341.9" width="5.47" height="21.18" fill="#02bac3"/>
<rect x="135.29" y="341.9" width="5.47" height="21.18" fill="#09b4d1"/>
<rect x="140.16" y="341.9" width="5.47" height="21.18" fill="#18aedb"/>
<rect x="145.03" y="341.9" width="5.47" height="21.18" fill="#1ea7e1"/>
<rect x="149.9" y="341.9" width="5.47" height="21.18" fill="#22a1e4"/>
<rect x="154.77" y="341.9" width="5.47" height="21.18" fill="#259ce7"/>
<rect x="159.64" y="341.9" width="5.47" height="21.18" fill="#2797ea"/>
<rect x="164.51" y="341.9" width="5.47" height="21.18" fill="#2a93ee"/>
<rect x="169.38" y="341.9" width="5.47" height="21.18" fill="#2c8ff0"/>
<rect x="174.25" y="341.9" width="5.47" height="21.18" fill="#2d8cf3"/>
<rect x="179.12" y="341.9" width="5.47" height="21.18" fill="#2d88f6"/>
<rect x="183.99" y="341.9" width="5.47" height="21.18" fill="#2e86f8"/>
<rect x="188.86" y="341.9" width="5.47" height="21.18" fill="#2e83f9"/>
<rect x="193.73" y="341.9" width="5.47" height="21.18" fill="#2f81fa"/>
<rect x="198.6" y="341.9" width="5.47" height="21.18" fill="#317efb"/>
<rect x="203.47" y="341.9" width="5.47" height="21.18" fill="#327cfc"/>
<rect x="208.34" y="341.9" width="5.47" height="21.18" fill="#337afd"/>
<rect x="213.21" y="341.9" width="5.47" height="21.18" fill="#3578fd"/>
<rect x="218.08" y="341.9" width="5.47" height="21.18" fill="#3777fe"/>
<rect x="222.95" y="341.9" width="5.47" height="21.18" fill="#3875fe"/>
<rect x="227.82" y="341.9" width="5.47" height="21.18" fill="#3a74fe"/>
<rect x="232.69" y="341.9" width="5.47" height="21.18" fill="#3b72fe"/>
<rect x="237.56" y="341.9" width="5.47" height="21.18" fill="#3c71ff"/>
<rect x="242.43" y="341.9" width="5.47" height="21.18" fill="#3d70ff"/>
<rect x="247.3" y="341.9" width="5.47" height="21.18" fill="#3e6fff"/>
<rect x="252.17" y="341.9" width="5.47" height="21.18" fill="#3f6eff"/>
<rect x="257.04" y="341.9" width="5.47" height="21.18" fill="#406dfe"/>
<rect x="261.91" y="341.9" width="5.47" height="21.18" fill="#406cfe"/>
<rect x="266.78" y="341.9" width="10.34" height="21.18" fill="#416bfe"/>
<rect x="276.52" y="341.9" width="5.47" height="21.18" fill="#426afe"/>
<rect x="281.39" y="341.9" width="5.47" height="21.18" fill="#4269fe"/>
<rect x="286.26" y="341.9" width="5.47" height="21.18" fill="#4369fe"/>
<rect x="291.13" y="341.9" width="5.47" height="21.18" fill="#4368fe"/>
<rect x="296" y="341.9" width="5.47" height="21.18" fill="#4368fd"/>
<rect x="300.87" y="341.9" width="10.34" height="21.18" fill="#4367fd"/>
<rect x="310.61" y="341.9" width="10.34" height="21.18" fill="#4466fd"/>
<rect x="320.35" y="341.9" width="10.34" height="21.18" fill="#4465fd"/>
<rect x="330.09" y="341.9" width="10.34" height="21.18" fill="#4464fd"/>
<rect x="339.83" y="341.9" width="5.47" height="21.18" fill="#4564fd"/>
<rect x="344.7" y="341.9" width="10.34" height="21.18" fill="#4563fd"/>
<rect x="354.44" y="341.9" width="5.47" height="21.18" fill="#4563fc"/>
<rect x="359.31" y="341.9" width="20.08" height="21.18" fill="#4562fc"/>
<rect x="378.79" y="341.9" width="15.21" height="21.18" fill="#4561fc"/>
<rect x="393.4" y="341.9" width="10.34" height="21.18" fill="#4661fc"/>
<rect x="403.14" y="341.9" width="10.34" height="21.18" fill="#4660fc"/>
<rect x="412.88" y="341.9" width="15.21" height="21.18" fill="#4660fb"/>
<rect x="427.49" y="341.9" width="34.69" height="21.18" fill="#465ffb"/>
<rect x="461.58" y="341.9" width="39.56" height="21.18" fill="#465efb"/>
<rect x="500.54" y="341.9" width="10.34" height="21.18" fill="#465dfb"/>
<rect x="510.28" y="341.9" width="29.82" height="21.18" fill="#465dfa"/>
<rect x="539.5" y="341.9" width="15.21" height="21.18" fill="#475dfa"/>
<rect x="554.11" y="341.9" width="34.69" height="21.18" fill="#475cfa"/>
<rect x="101.2" y="362.48" width="5.47" height="21.18" fill="#fec735"/>
<rect x="106.07" y="362.48" width="5.47" height="21.18" fill="#e8bb2f"/>
<rect x="110.94" y="362.48" width="5.47" height="21.18" fill="#b4c534"/>
<rect x="115.81" y="362.48" width="5.47" height="21.18" fill="#7acc5e"/>
<rect x="120.68" y="362.48" width="5.47" height="21.18" fill="#4acb84"/>
<rect x="125.55" y="362.48" width="5.47" height="21.18" fill="#31c69f"/>
<rect x="130.42" y="362.48" width="5.47" height="21.18" fill="#1ec0b2"/>
<rect x="135.29" y="362.48" width="5.47" height="21.18" fill="#05bbc1"/>
<rect x="140.16" y="362.48" width="5.47" height="21.18" fill="#05b6cd"/>
<rect x="145.03" y="362.48" width="5.47" height="21.18" fill="#12b1d7"/>
<rect x="149.9" y="362.48" width="5.47" height="21.18" fill="#1aabdd"/>
<rect x="154.77" y="362.48" width="5.47" height="21.18" fill="#1fa6e1"/>
<rect x="159.64" y="362.48" width="5.47" height="21.18" fill="#22a1e4"/>
<rect x="164.51" y="362.48" width="5.47" height="21.18" fill="#249de6"/>
<rect x="169.38" y="362.48" width="5.47" height="21.18" fill="#2699e9"/>
<rect x="174.25" y="362.48" width="5.47" height="21.18" fill="#2896ec"/>
<rect x="179.12" y="362.48" width="5.47" height="21.18" fill="#2a93ee"/>
<rect x="183.99" y="362.48" width="5.47" height="21.18" fill="#2c90f0"/>
<rect x="188.86" y="362.48" width="5.47" height="21.18" fill="#2d8df2"/>
<rect x="193.73" y="362.48" width="5.47" height="21.18" fill="#2d8bf4"/>
<rect x="198.6" y="362.48" width="5.47" height="21.18" fill="#2d88f6"/>
<rect x="203.47" y="362.48" width="5.47" height="21.18" fill="#2e86f7"/>
<rect x="208.34" y="362.48" width="5.47" height="21.18" fill="#2e84f8"/>
<rect x="213.21" y="362.48" width="5.47" height="21.18" fill="#2f83f9"/>
<rect x="218.08" y="362.48" width="5.47" height="21.18" fill="#2f81fa"/>
<rect x="222.95" y="362.48" width="5.47" height="21.18" fill="#307ffb"/>
<rect x="227.82" y="362.48" width="5.47" height="21.18" fill="#317efb"/>
<rect x="232.69" y="362.48" width="5.47" height="21.18" fill="#327cfc"/>
<rect x="237.56" y="362.48" width="5.47" height="21.18" fill="#327bfc"/>
<rect x="242.43" y="362.48" width="5.47" height="21.18" fill="#347afd"/>
<rect x="247.3" y="362.48" width="5.47" height="21.18" fill="#3579fd"/>
<rect x="252.17" y="362.48" width="5.47" height="21.18" fill="#3678fe"/>
<rect x="257.04" y="362.48" width="5.47" height="21.18" fill="#3777fe"/>
<rect x="261.91" y="362.48" width="5.47" height="21.18" fill="#3876fe"/>
<rect x="266.78" y="362.48" width="5.47" height="21.18" fill="#3975fe"/>
<rect x="271.65" y="362.48" width="5.47" height="21.18" fill="#3a74fe"/>
<rect x="276.52" y="362.48" width="5.47" height="21.18" fill="#3a73fe"/>
<rect x="281.39" y="362.48" width="5.47" height="21.18" fill="#3b72fe"/>
<rect x="286.26" y="362.48" width="5.47" height="21.18" fill="#3c72ff"/>
<rect x="291.13" y="362.48" width="5.47" height="21.18" fill="#3c71ff"/>
<rect x="296" y="362.48" width="5.47" height="21.18" fill="#3d70ff"/>
<rect x="300.87" y="362.48" width="5.47" height="21.18" fill="#3e70ff"/>
<rect x="305.74" y="362.48" width="5.47" height="21.18" fill="#3e6fff"/>
<rect x="310.61" y="362.48" width="5.47" height="21.18" fill="#3f6fff"/>
<rect x="315.48" y="362.48" width="5.47" height="21.18" fill="#3f6eff"/>
<rect x="320.35" y="362.48" width="5.47" height="21.18" fill="#3f6efe"/>
<rect x="325.22" y="362.48" width="10.34" height="21.18" fill="#406dfe"/>
<rect x="334.96" y="362.48" width="10.34" height="21.18" fill="#406cfe"/>
<rect x="344.7" y="362.48" width="5.47" height="21.18" fill="#416cfe"/>
<rect x="349.57" y="362.48" width="15.21" height="21.18" fill="#416bfe"/>
<rect x="364.18" y="362.48" width="15.21" height="21.18" fill="#426afe"/>
<rect x="378.79" y="362.48" width="15.21" height="21.18" fill="#4269fe"/>
<rect x="393.4" y="362.48" width="5.47" height="21.18" fill="#4369fe"/>
<rect x="398.27" y="362.48" width="15.21" height="21.18" fill="#4368fe"/>
<rect x="412.88" y="362.48" width="5.47" height="21.18" fill="#4368fd"/>
<rect x="417.75" y="362.48" width="29.82" height="21.18" fill="#4367fd"/>
<rect x="446.97" y="362.48" width="29.82" height="21.18" fill="#4466fd"/>
<rect x="476.19" y="362.48" width="39.56" height="21.18" fill="#4465fd"/>
<rect x="515.15" y="362.48" width="24.95" height="21.18" fill="#4464fd"/>
<rect x="539.5" y="362.48" width="24.95" height="21.18" fill="#4564fd"/>
<rect x="563.85" y="362.48" width="24.95" height="21.18" fill="#4563fd"/>
<rect x="101.2" y="383.06" width="5.47" height="21.18" fill="#fbd12f"/>
<rect x="106.07" y="383.06" width="5.47" height="21.18" fill="#f9bb3d"/>
<rect x="110.94" y="383.06" width="5.47" height="21.18" fill="#d0c028"/>
<rect x="115.81" y="383.06" width="5.47" height="21.18" fill="#9dc943"/>
<rect x="120.68" y="383.06" width="5.47" height="21.18" fill="#6bcd69"/>
<rect x="125.55" y="383.06" width="5.47" height="21.18" fill="#45cb89"/>
<rect x="130.42" y="383.06" width="5.47" height="21.18" fill="#31c6a0"/>
<rect x="135.29" y="383.06" width="5.47" height="21.18" fill="#22c1b0"/>
<rect x="140.16" y="383.06" width="5.47" height="21.18" fill="#0abdbd"/>
<rect x="145.03" y="383.06" width="5.47" height="21.18" fill="#01b8c8"/>
<rect x="149.9" y="383.06" width="5.47" height="21.18" fill="#09b4d1"/>
<rect x="154.77" y="383.06" width="5.47" height="21.18" fill="#14b0d8"/>
<rect x="159.64" y="383.06" width="5.47" height="21.18" fill="#1aacdd"/>
<rect x="164.51" y="383.06" width="5.47" height="21.18" fill="#1ea7e1"/>
<rect x="169.38" y="383.06" width="5.47" height="21.18" fill="#21a4e3"/>
<rect x="174.25" y="383.06" width="5.47" height="21.18" fill="#23a0e5"/>
<rect x="179.12" y="383.06" width="5.47" height="21.18" fill="#259de7"/>
<rect x="183.99" y="383.06" width="5.47" height="21.18" fill="#269ae8"/>
<rect x="188.86" y="383.06" width="5.47" height="21.18" fill="#2797ea"/>
<rect x="193.73" y="383.06" width="5.47" height="21.18" fill="#2895ec"/>
<rect x="198.6" y="383.06" width="5.47" height="21.18" fill="#2a93ee"/>
<rect x="203.47" y="383.06" width="5.47" height="21.18" fill="#2b90ef"/>
<rect x="208.34" y="383.06" width="5.47" height="21.18" fill="#2c8ff1"/>
<rect x="213.21" y="383.06" width="5.47" height="21.18" fill="#2d8df2"/>
<rect x="218.08" y="383.06" width="5.47" height="21.18" fill="#2d8bf4"/>
<rect x="222.95" y="383.06" width="5.47" height="21.18" fill="#2d89f5"/>
<rect x="227.82" y="383.06" width="5.47" height="21.18" fill="#2d88f6"/>
<rect x="232.69" y="383.06" width="5.47" height="21.18" fill="#2e87f7"/>
<rect x="237.56" y="383.06" width="5.47" height="21.18" fill="#2e85f8"/>
<rect x="242.43" y="383.06" width="5.47" height="21.18" fill="#2e84f8"/>
<rect x="247.3" y="383.06" width="5.47" height="21.18" fill="#2e83f9"/>
<rect x="252.17" y="383.06" width="5.47" height="21.18" fill="#2f82fa"/>
<rect x="257.04" y="383.06" width="5.47" height="21.18" fill="#2f81fa"/>
<rect x="261.91" y="383.06" width="5.47" height="21.18" fill="#3080fa"/>
<rect x="266.78" y="383.06" width="5.47" height="21.18" fill="#307ffb"/>
<rect x="271.65" y="383.06" width="5.47" height="21.18" fill="#317efb"/>
<rect x="276.52" y="383.06" width="5.47" height="21.18" fill="#317dfb"/>
<rect x="281.39" y="383.06" width="5.47" height="21.18" fill="#317dfc"/>
<rect x="286.26" y="383.06" width="5.47" height="21.18" fill="#327cfc"/>
<rect x="291.13" y="383.06" width="5.47" height="21.18" fill="#327bfc"/>
<rect x="296" y="383.06" width="5.47" height="21.18" fill="#337bfd"/>
<rect x="300.87" y="383.06" width="5.47" height="21.18" fill="#347afd"/>
<rect x="305.74" y="383.06" width="5.47" height="21.18" fill="#3479fd"/>
<rect x="310.61" y="383.06" width="5.47" height="21.18" fill="#3579fd"/>
<rect x="315.48" y="383.06" width="5.47" height="21.18" fill="#3678fd"/>
<rect x="320.35" y="383.06" width="5.47" height="21.18" fill="#3678fe"/>
<rect x="325.22" y="383.06" width="10.34" height="21.18" fill="#3777fe"/>
<rect x="334.96" y="383.06" width="10.34" height="21.18" fill="#3876fe"/>
<rect x="344.7" y="383.06" width="5.47" height="21.18" fill="#3875fe"/>
<rect x="349.57" y="383.06" width="5.47" height="21.18" fill="#3975fe"/>
<rect x="354.44" y="383.06" width="5.47" height="21.18" fill="#3974fe"/>
<rect x="359.31" y="383.06" width="10.34" height="21.18" fill="#3a74fe"/>
<rect x="369.05" y="383.06" width="5.47" height="21.18" fill="#3a73fe"/>
<rect x="373.92" y="383.06" width="10.34" height="21.18" fill="#3b73fe"/>
<rect x="383.66" y="383.06" width="5.47" height="21.18" fill="#3b72fe"/>
<rect x="388.53" y="383.06" width="5.47" height="21.18" fill="#3b72ff"/>
<rect x="393.4" y="383.06" width="5.47" height="21.18" fill="#3c72ff"/>
<rect x="398.27" y="383.06" width="10.34" height="21.18" fill="#3c71ff"/>
<rect x="408.01" y="383.06" width="10.34" height="21.18" fill="#3d71ff"/>
<rect x="417.75" y="383.06" width="15.21" height="21.18" fill="#3d70ff"/>
<rect x="432.36" y="383.06" width="10.34" height="21.18" fill="#3e70ff"/>
<rect x="442.1" y="383.06" width="20.08" height="21.18" fill="#3e6fff"/>
<rect x="461.58" y="383.06" width="5.47" height="21.18" fill="#3f6fff"/>
<rect x="466.45" y="383.06" width="20.08" height="21.18" fill="#3f6eff"/>
<rect x="485.93" y="383.06" width="15.21" height="21.18" fill="#3f6efe"/>
<rect x="500.54" y="383.06" width="5.47" height="21.18" fill="#3f6dfe"/>
<rect x="505.41" y="383.06" width="34.69" height="21.18" fill="#406dfe"/>
<rect x="539.5" y="383.06" width="29.82" height="21.18" fill="#406cfe"/>
<rect x="568.72" y="383.06" width="20.08" height="21.18" fill="#416cfe"/>
<rect x="101.2" y="403.64" width="5.47" height="21.18" fill="#f7db2b"/>
<rect x="106.07" y="403.64" width="5.47" height="21.18" fill="#fec338"/>
<rect x="110.94" y="403.64" width="5.47" height="21.18" fill="#e6bb2d"/>
<rect x="115.81" y="403.64" width="5.47" height="21.18" fill="#bbc42f"/>
<rect x="120.68" y="403.64" width="5.47" height="21.18" fill="#8dcb4f"/>
<rect x="125.55" y="403.64" width="5.47" height="21.18" fill="#63cd70"/>
<rect x="130.42" y="403.64" width="5.47" height="21.18" fill="#44ca8a"/>
<rect x="135.29" y="403.64" width="5.47" height="21.18" fill="#33c69e"/>
<rect x="140.16" y="403.64" width="5.47" height="21.18" fill="#26c2ac"/>
<rect x="145.03" y="403.64" width="5.47" height="21.18" fill="#14beb8"/>
<rect x="149.9" y="403.64" width="5.47" height="21.18" fill="#04bbc2"/>
<rect x="154.77" y="403.64" width="5.47" height="21.18" fill="#01b8ca"/>
<rect x="159.64" y="403.64" width="5.47" height="21.18" fill="#09b4d1"/>
<rect x="164.51" y="403.64" width="5.47" height="21.18" fill="#13b1d7"/>
<rect x="169.38" y="403.64" width="5.47" height="21.18" fill="#19addc"/>
<rect x="174.25" y="403.64" width="5.47" height="21.18" fill="#1caadf"/>
<rect x="179.12" y="403.64" width="5.47" height="21.18" fill="#1ea7e1"/>
<rect x="183.99" y="403.64" width="5.47" height="21.18" fill="#21a4e3"/>
<rect x="188.86" y="403.64" width="5.47" height="21.18" fill="#22a1e4"/>
<rect x="193.73" y="403.64" width="5.47" height="21.18" fill="#249fe6"/>
<rect x="198.6" y="403.64" width="5.47" height="21.18" fill="#259ce7"/>
<rect x="203.47" y="403.64" width="5.47" height="21.18" fill="#269ae8"/>
<rect x="208.34" y="403.64" width="5.47" height="21.18" fill="#2798ea"/>
<rect x="213.21" y="403.64" width="5.47" height="21.18" fill="#2796eb"/>
<rect x="218.08" y="403.64" width="5.47" height="21.18" fill="#2995ec"/>
<rect x="222.95" y="403.64" width="5.47" height="21.18" fill="#2a93ed"/>
<rect x="227.82" y="403.64" width="5.47" height="21.18" fill="#2b92ef"/>
<rect x="232.69" y="403.64" width="5.47" height="21.18" fill="#2b90f0"/>
<rect x="237.56" y="403.64" width="5.47" height="21.18" fill="#2c8ff1"/>
<rect x="242.43" y="403.64" width="5.47" height="21.18" fill="#2c8ef2"/>
<rect x="247.3" y="403.64" width="5.47" height="21.18" fill="#2d8df3"/>
<rect x="252.17" y="403.64" width="5.47" height="21.18" fill="#2d8bf3"/>
<rect x="257.04" y="403.64" width="5.47" height="21.18" fill="#2d8af4"/>
<rect x="261.91" y="403.64" width="5.47" height="21.18" fill="#2d89f5"/>
<rect x="266.78" y="403.64" width="10.34" height="21.18" fill="#2d88f6"/>
<rect x="276.52" y="403.64" width="5.47" height="21.18" fill="#2e87f7"/>
<rect x="281.39" y="403.64" width="5.47" height="21.18" fill="#2e86f7"/>
<rect x="286.26" y="403.64" width="10.34" height="21.18" fill="#2e85f8"/>
<rect x="296" y="403.64" width="5.47" height="21.18" fill="#2e84f8"/>
<rect x="300.87" y="403.64" width="10.34" height="21.18" fill="#2e83f9"/>
<rect x="310.61" y="403.64" width="5.47" height="21.18" fill="#2f82f9"/>
<rect x="315.48" y="403.64" width="5.47" height="21.18" fill="#2f82fa"/>
<rect x="320.35" y="403.64" width="10.34" height="21.18" fill="#2f81fa"/>
<rect x="330.09" y="403.64" width="5.47" height="21.18" fill="#3080fa"/>
<rect x="334.96" y="403.64" width="5.47" height="21.18" fill="#3080fb"/>
<rect x="339.83" y="403.64" width="10.34" height="21.18" fill="#307ffb"/>
<rect x="349.57" y="403.64" width="10.34" height="21.18" fill="#317efb"/>
<rect x="359.31" y="403.64" width="5.47" height="21.18" fill="#317dfb"/>
<rect x="364.18" y="403.64" width="10.34" height="21.18" fill="#317dfc"/>
<rect x="373.92" y="403.64" width="15.21" height="21.18" fill="#327cfc"/>
<rect x="388.53" y="403.64" width="5.47" height="21.18" fill="#327bfc"/>
<rect x="393.4" y="403.64" width="5.47" height="21.18" fill="#337bfc"/>
<rect x="398.27" y="403.64" width="10.34" height="21.18" fill="#337bfd"/>
<rect x="408.01" y="403.64" width="5.47" height="21.18" fill="#337afd"/>
<rect x="412.88" y="403.64" width="10.34" height="21.18" fill="#347afd"/>
<rect x="422.62" y="403.64" width="10.34" height="21.18" fill="#3479fd"/>
<rect x="432.36" y="403.64" width="15.21" height="21.18" fill="#3579fd"/>
<rect x="446.97" y="403.64" width="5.47" height="21.18" fill="#3578fd"/>
<rect x="451.84" y="403.64" width="10.34" height="21.18" fill="#3678fd"/>
<rect x="461.58" y="403.64" width="10.34" height="21.18" fill="#3678fe"/>
<rect x="471.32" y="403.64" width="10.34" height="21.18" fill="#3677fe"/>
<rect x="481.06" y="403.64" width="15.21" height="21.18" fill="#3777fe"/>
<rect x="495.67" y="403.64" width="15.21" height="21.18" fill="#3776fe"/>
<rect x="510.28" y="403.64" width="20.08" height="21.18" fill="#3876fe"/>
<rect x="529.76" y="403.64" width="15.21" height="21.18" fill="#3875fe"/>
<rect x="544.37" y="403.64" width="29.82" height="21.18" fill="#3975fe"/>
<rect x="573.59" y="403.64" width="15.21" height="21.18" fill="#3974fe"/>
<rect x="101.2" y="424.22" width="5.47" height="21.18" fill="#f5e327"/>
<rect x="106.07" y="424.22" width="5.47" height="21.18" fill="#fdcd32"/>
<rect x="110.94" y="424.22" width="5.47" height="21.18" fill="#f6ba3c"/>
<rect x="115.81" y="424.22" width="5.47" height="21.18" fill="#d4bf28"/>
<rect x="120.68" y="424.22" width="5.47" height="21.18" fill="#acc738"/>
<rect x="125.55" y="424.22" width="5.47" height="21.18" fill="#84cc56"/>
<rect x="130.42" y="424.22" width="5.47" height="21.18" fill="#60cd72"/>
<rect x="135.29" y="424.22" width="5.47" height="21.18" fill="#45cb89"/>
<rect x="140.16" y="424.22" width="5.47" height="21.18" fill="#35c79a"/>
<rect x="145.03" y="424.22" width="5.47" height="21.18" fill="#2bc3a7"/>
<rect x="149.9" y="424.22" width="5.47" height="21.18" fill="#1ec0b2"/>
<rect x="154.77" y="424.22" width="5.47" height="21.18" fill="#0dbdbb"/>
<rect x="159.64" y="424.22" width="5.47" height="21.18" fill="#02bac3"/>
<rect x="164.51" y="424.22" width="5.47" height="21.18" fill="#01b8ca"/>
<rect x="169.38" y="424.22" width="5.47" height="21.18" fill="#07b5d0"/>
<rect x="174.25" y="424.22" width="5.47" height="21.18" fill="#0fb2d5"/>
<rect x="179.12" y="424.22" width="5.47" height="21.18" fill="#15afd9"/>
<rect x="183.99" y="424.22" width="5.47" height="21.18" fill="#19addc"/>
<rect x="188.86" y="424.22" width="5.47" height="21.18" fill="#1caadf"/>
<rect x="193.73" y="424.22" width="5.47" height="21.18" fill="#1ea8e1"/>
<rect x="198.6" y="424.22" width="5.47" height="21.18" fill="#1fa5e2"/>
<rect x="203.47" y="424.22" width="5.47" height="21.18" fill="#21a3e3"/>
<rect x="208.34" y="424.22" width="5.47" height="21.18" fill="#22a1e4"/>
<rect x="213.21" y="424.22" width="5.47" height="21.18" fill="#249fe5"/>
<rect x="218.08" y="424.22" width="5.47" height="21.18" fill="#249de6"/>
<rect x="222.95" y="424.22" width="5.47" height="21.18" fill="#259ce7"/>
<rect x="227.82" y="424.22" width="5.47" height="21.18" fill="#269ae8"/>
<rect x="232.69" y="424.22" width="5.47" height="21.18" fill="#2699e9"/>
<rect x="237.56" y="424.22" width="5.47" height="21.18" fill="#2798ea"/>
<rect x="242.43" y="424.22" width="5.47" height="21.18" fill="#2796eb"/>
<rect x="247.3" y="424.22" width="5.47" height="21.18" fill="#2895ec"/>
<rect x="252.17" y="424.22" width="5.47" height="21.18" fill="#2994ed"/>
<rect x="257.04" y="424.22" width="5.47" height="21.18" fill="#2a93ee"/>
<rect x="261.91" y="424.22" width="5.47" height="21.18" fill="#2b92ee"/>
<rect x="266.78" y="424.22" width="5.47" height="21.18" fill="#2b91ef"/>
<rect x="271.65" y="424.22" width="5.47" height="21.18" fill="#2b90f0"/>
<rect x="276.52" y="424.22" width="5.47" height="21.18" fill="#2c8ff0"/>
<rect x="281.39" y="424.22" width="5.47" height="21.18" fill="#2c8ff1"/>
<rect x="286.26" y="424.22" width="5.47" height="21.18" fill="#2c8ef2"/>
<rect x="291.13" y="424.22" width="5.47" height="21.18" fill="#2d8df2"/>
<rect x="296" y="424.22" width="10.34" height="21.18" fill="#2d8cf3"/>
<rect x="305.74" y="424.22" width="5.47" height="21.18" fill="#2d8bf4"/>
<rect x="310.61" y="424.22" width="5.47" height="21.18" fill="#2d8af4"/>
<rect x="315.48" y="424.22" width="5.47" height="21.18" fill="#2d8af5"/>
<rect x="320.35" y="424.22" width="10.34" height="21.18" fill="#2d89f5"/>
<rect x="330.09" y="424.22" width="10.34" height="21.18" fill="#2d88f6"/>
<rect x="339.83" y="424.22" width="5.47" height="21.18" fill="#2d87f6"/>
<rect x="344.7" y="424.22" width="10.34" height="21.18" fill="#2e87f7"/>
<rect x="354.44" y="424.22" width="5.47" height="21.18" fill="#2e86f7"/>
<rect x="359.31" y="424.22" width="5.47" height="21.18" fill="#2e86f8"/>
<rect x="364.18" y="424.22" width="15.21" height="21.18" fill="#2e85f8"/>
<rect x="378.79" y="424.22" width="10.34" height="21.18" fill="#2e84f8"/>
<rect x="388.53" y="424.22" width="5.47" height="21.18" fill="#2e84f9"/>
<rect x="393.4" y="424.22" width="15.21" height="21.18" fill="#2e83f9"/>
<rect x="408.01" y="424.22" width="10.34" height="21.18" fill="#2f82f9"/>
<rect x="417.75" y="424.22" width="10.34" height="21.18" fill="#2f82fa"/>
<rect x="427.49" y="424.22" width="24.95" height="21.18" fill="#2f81fa"/>
<rect x="451.84" y="424.22" width="10.34" height="21.18" fill="#2f80fa"/>
<rect x="461.58" y="424.22" width="5.47" height="21.18" fill="#3080fa"/>
<rect x="466.45" y="424.22" width="10.34" height="21.18" fill="#3080fb"/>
<rect x="476.19" y="424.22" width="29.82" height="21.18" fill="#307ffb"/>
<rect x="505.41" y="424.22" width="5.47" height="21.18" fill="#307efb"/>
<rect x="510.28" y="424.22" width="29.82" height="21.18" fill="#317efb"/>
<rect x="539.5" y="424.22" width="34.69" height="21.18" fill="#317dfc"/>
<rect x="573.59" y="424.22" width="5.47" height="21.18" fill="#327dfc"/>
<rect x="578.46" y="424.22" width="10.34" height="21.18" fill="#327cfc"/>
<rect x="101.2" y="444.8" width="5.47" height="21.18" fill="#f5e924"/>
<rect x="106.07" y="444.8" width="5.47" height="21.18" fill="#fad52d"/>
<rect x="110.94" y="444.8" width="5.47" height="21.18" fill="#fec13a"/>
<rect x="115.81" y="444.8" width="5.47" height="21.18" fill="#e8bb2f"/>
<rect x="120.68" y="444.8" width="5.47" height="21.18" fill="#c8c129"/>
<rect x="125.55" y="444.8" width="5.47" height="21.18" fill="#a4c83e"/>
<rect x="130.42" y="444.8" width="5.47" height="21.18" fill="#81cc58"/>
<rect x="135.29" y="444.8" width="5.47" height="21.18" fill="#62cd70"/>
<rect x="140.16" y="444.8" width="5.47" height="21.18" fill="#4acb84"/>
<rect x="145.03" y="444.8" width="5.47" height="21.18" fill="#3ac994"/>
<rect x="149.9" y="444.8" width="5.47" height="21.18" fill="#30c5a1"/>
<rect x="154.77" y="444.8" width="5.47" height="21.18" fill="#28c2ab"/>
<rect x="159.64" y="444.8" width="5.47" height="21.18" fill="#1cc0b3"/>
<rect x="164.51" y="444.8" width="5.47" height="21.18" fill="#0ebebb"/>
<rect x="169.38" y="444.8" width="5.47" height="21.18" fill="#04bbc1"/>
<rect x="174.25" y="444.8" width="5.47" height="21.18" fill="#01b9c7"/>
<rect x="179.12" y="444.8" width="5.47" height="21.18" fill="#03b7cc"/>
<rect x="183.99" y="444.8" width="5.47" height="21.18" fill="#08b4d0"/>
<rect x="188.86" y="444.8" width="5.47" height="21.18" fill="#0eb2d4"/>
<rect x="193.73" y="444.8" width="5.47" height="21.18" fill="#13b0d7"/>
<rect x="198.6" y="444.8" width="5.47" height="21.18" fill="#17aeda"/>
<rect x="203.47" y="444.8" width="5.47" height="21.18" fill="#1aacdd"/>
<rect x="208.34" y="444.8" width="5.47" height="21.18" fill="#1baade"/>
<rect x="213.21" y="444.8" width="5.47" height="21.18" fill="#1da8e0"/>
<rect x="218.08" y="444.8" width="5.47" height="21.18" fill="#1ea7e1"/>
<rect x="222.95" y="444.8" width="5.47" height="21.18" fill="#20a5e2"/>
<rect x="227.82" y="444.8" width="5.47" height="21.18" fill="#21a3e3"/>
<rect x="232.69" y="444.8" width="5.47" height="21.18" fill="#22a2e4"/>
<rect x="237.56" y="444.8" width="5.47" height="21.18" fill="#23a1e5"/>
<rect x="242.43" y="444.8" width="5.47" height="21.18" fill="#239fe5"/>
<rect x="247.3" y="444.8" width="5.47" height="21.18" fill="#249ee6"/>
<rect x="252.17" y="444.8" width="5.47" height="21.18" fill="#249de7"/>
<rect x="257.04" y="444.8" width="5.47" height="21.18" fill="#259ce7"/>
<rect x="261.91" y="444.8" width="5.47" height="21.18" fill="#259be8"/>
<rect x="266.78" y="444.8" width="5.47" height="21.18" fill="#269ae8"/>
<rect x="271.65" y="444.8" width="5.47" height="21.18" fill="#2699e9"/>
<rect x="276.52" y="444.8" width="10.34" height="21.18" fill="#2798ea"/>
<rect x="286.26" y="444.8" width="5.47" height="21.18" fill="#2797eb"/>
<rect x="291.13" y="444.8" width="5.47" height="21.18" fill="#2896eb"/>
<rect x="296" y="444.8" width="5.47" height="21.18" fill="#2895ec"/>
<rect x="300.87" y="444.8" width="5.47" height="21.18" fill="#2995ec"/>
<rect x="305.74" y="444.8" width="5.47" height="21.18" fill="#2994ed"/>
<rect x="310.61" y="444.8" width="5.47" height="21.18" fill="#2a93ed"/>
<rect x="315.48" y="444.8" width="5.47" height="21.18" fill="#2a93ee"/>
<rect x="320.35" y="444.8" width="5.47" height="21.18" fill="#2a92ee"/>
<rect x="325.22" y="444.8" width="5.47" height="21.18" fill="#2b92ef"/>
<rect x="330.09" y="444.8" width="10.34" height="21.18" fill="#2b91ef"/>
<rect x="339.83" y="444.8" width="10.34" height="21.18" fill="#2c90f0"/>
<rect x="349.57" y="444.8" width="5.47" height="21.18" fill="#2c8ff0"/>
<rect x="354.44" y="444.8" width="5.47" height="21.18" fill="#2c8ff1"/>
<rect x="359.31" y="444.8" width="10.34" height="21.18" fill="#2c8ef1"/>
<rect x="369.05" y="444.8" width="5.47" height="21.18" fill="#2c8ef2"/>
<rect x="373.92" y="444.8" width="10.34" height="21.18" fill="#2d8df2"/>
<rect x="383.66" y="444.8" width="5.47" height="21.18" fill="#2d8df3"/>
<rect x="388.53" y="444.8" width="15.21" height="21.18" fill="#2d8cf3"/>
<rect x="403.14" y="444.8" width="5.47" height="21.18" fill="#2d8bf3"/>
<rect x="408.01" y="444.8" width="10.34" height="21.18" fill="#2d8bf4"/>
<rect x="417.75" y="444.8" width="10.34" height="21.18" fill="#2d8af4"/>
<rect x="427.49" y="444.8" width="10.34" height="21.18" fill="#2d8af5"/>
<rect x="437.23" y="444.8" width="20.08" height="21.18" fill="#2d89f5"/>
<rect x="456.71" y="444.8" width="5.47" height="21.18" fill="#2d89f6"/>
<rect x="461.58" y="444.8" width="24.95" height="21.18" fill="#2d88f6"/>
<rect x="485.93" y="444.8" width="5.47" height="21.18" fill="#2d87f6"/>
<rect x="490.8" y="444.8" width="24.95" height="21.18" fill="#2e87f7"/>
<rect x="515.15" y="444.8" width="29.82" height="21.18" fill="#2e86f7"/>
<rect x="544.37" y="444.8" width="5.47" height="21.18" fill="#2e86f8"/>
<rect x="549.24" y="444.8" width="39.56" height="21.18" fill="#2e85f8"/>
<rect x="101.2" y="465.38" width="5.47" height="21.18" fill="#f5ef20"/>
<rect x="106.07" y="465.38" width="5.47" height="21.18" fill="#f6dd29"/>
<rect x="110.94" y="465.38" width="5.47" height="21.18" fill="#feca33"/>
<rect x="115.81" y="465.38" width="5.47" height="21.18" fill="#f9ba3d"/>
<rect x="120.68" y="465.38" width="5.47" height="21.18" fill="#dfbc2a"/>
<rect x="125.55" y="465.38" width="5.47" height="21.18" fill="#c2c22c"/>
<rect x="130.42" y="465.38" width="5.47" height="21.18" fill="#a3c83f"/>
<rect x="135.29" y="465.38" width="5.47" height="21.18" fill="#86cb55"/>
<rect x="140.16" y="465.38" width="5.47" height="21.18" fill="#6acd6a"/>
<rect x="145.03" y="465.38" width="5.47" height="21.18" fill="#55cc7c"/>
<rect x="149.9" y="465.38" width="5.47" height="21.18" fill="#43ca8b"/>
<rect x="154.77" y="465.38" width="5.47" height="21.18" fill="#37c897"/>
<rect x="159.64" y="465.38" width="5.47" height="21.18" fill="#30c5a1"/>
<rect x="164.51" y="465.38" width="5.47" height="21.18" fill="#2ac3a9"/>
<rect x="169.38" y="465.38" width="5.47" height="21.18" fill="#21c1b0"/>
<rect x="174.25" y="465.38" width="5.47" height="21.18" fill="#17bfb6"/>
<rect x="179.12" y="465.38" width="5.47" height="21.18" fill="#0dbdbc"/>
<rect x="183.99" y="465.38" width="5.47" height="21.18" fill="#05bbc1"/>
<rect x="188.86" y="465.38" width="5.47" height="21.18" fill="#01bac5"/>
<rect x="193.73" y="465.38" width="5.47" height="21.18" fill="#01b8c9"/>
<rect x="198.6" y="465.38" width="5.47" height="21.18" fill="#04b6cd"/>
<rect x="203.47" y="465.38" width="5.47" height="21.18" fill="#07b5d0"/>
<rect x="208.34" y="465.38" width="5.47" height="21.18" fill="#0cb3d3"/>
<rect x="213.21" y="465.38" width="5.47" height="21.18" fill="#10b2d5"/>
<rect x="218.08" y="465.38" width="5.47" height="21.18" fill="#14b0d8"/>
<rect x="222.95" y="465.38" width="5.47" height="21.18" fill="#16afda"/>
<rect x="227.82" y="465.38" width="5.47" height="21.18" fill="#18addb"/>
<rect x="232.69" y="465.38" width="5.47" height="21.18" fill="#1aacdd"/>
<rect x="237.56" y="465.38" width="5.47" height="21.18" fill="#1babde"/>
<rect x="242.43" y="465.38" width="5.47" height="21.18" fill="#1ca9df"/>
<rect x="247.3" y="465.38" width="5.47" height="21.18" fill="#1da8e0"/>
<rect x="252.17" y="465.38" width="5.47" height="21.18" fill="#1ea7e1"/>
<rect x="257.04" y="465.38" width="5.47" height="21.18" fill="#1fa6e2"/>
<rect x="261.91" y="465.38" width="5.47" height="21.18" fill="#20a5e2"/>
<rect x="266.78" y="465.38" width="5.47" height="21.18" fill="#20a4e3"/>
<rect x="271.65" y="465.38" width="5.47" height="21.18" fill="#21a3e3"/>
<rect x="276.52" y="465.38" width="5.47" height="21.18" fill="#22a2e4"/>
<rect x="281.39" y="465.38" width="5.47" height="21.18" fill="#22a1e4"/>
<rect x="286.26" y="465.38" width="5.47" height="21.18" fill="#23a1e5"/>
<rect x="291.13" y="465.38" width="5.47" height="21.18" fill="#23a0e5"/>
<rect x="296" y="465.38" width="5.47" height="21.18" fill="#249fe5"/>
<rect x="300.87" y="465.38" width="10.34" height="21.18" fill="#249ee6"/>
<rect x="310.61" y="465.38" width="5.47" height="21.18" fill="#249de6"/>
<rect x="315.48" y="465.38" width="5.47" height="21.18" fill="#259de7"/>
<rect x="320.35" y="465.38" width="5.47" height="21.18" fill="#259ce7"/>
<rect x="325.22" y="465.38" width="5.47" height="21.18" fill="#259be7"/>
<rect x="330.09" y="465.38" width="5.47" height="21.18" fill="#259be8"/>
<rect x="334.96" y="465.38" width="5.47" height="21.18" fill="#269ae8"/>
<rect x="339.83" y="465.38" width="5.47" height="21.18" fill="#269ae9"/>
<rect x="344.7" y="465.38" width="10.34" height="21.18" fill="#2699e9"/>
<rect x="354.44" y="465.38" width="5.47" height="21.18" fill="#2699ea"/>
<rect x="359.31" y="465.38" width="10.34" height="21.18" fill="#2798ea"/>
<rect x="369.05" y="465.38" width="5.47" height="21.18" fill="#2797ea"/>
<rect x="373.92" y="465.38" width="10.34" height="21.18" fill="#2797eb"/>
<rect x="383.66" y="465.38" width="5.47" height="21.18" fill="#2796eb"/>
<rect x="388.53" y="465.38" width="5.47" height="21.18" fill="#2896eb"/>
<rect x="393.4" y="465.38" width="5.47" height="21.18" fill="#2896ec"/>
<rect x="398.27" y="465.38" width="10.34" height="21.18" fill="#2895ec"/>
<rect x="408.01" y="465.38" width="5.47" height="21.18" fill="#2995ec"/>
<rect x="412.88" y="465.38" width="20.08" height="21.18" fill="#2994ed"/>
<rect x="432.36" y="465.38" width="10.34" height="21.18" fill="#2a93ed"/>
<rect x="442.1" y="465.38" width="10.34" height="21.18" fill="#2a93ee"/>
<rect x="451.84" y="465.38" width="10.34" height="21.18" fill="#2a92ee"/>
<rect x="461.58" y="465.38" width="10.34" height="21.18" fill="#2b92ee"/>
<rect x="471.32" y="465.38" width="5.47" height="21.18" fill="#2b92ef"/>
<rect x="476.19" y="465.38" width="24.95" height="21.18" fill="#2b91ef"/>
<rect x="500.54" y="465.38" width="5.47" height="21.18" fill="#2b90ef"/>
<rect x="505.41" y="465.38" width="10.34" height="21.18" fill="#2b90f0"/>
<rect x="515.15" y="465.38" width="20.08" height="21.18" fill="#2c90f0"/>
<rect x="534.63" y="465.38" width="15.21" height="21.18" fill="#2c8ff0"/>
<rect x="549.24" y="465.38" width="24.95" height="21.18" fill="#2c8ff1"/>
<rect x="573.59" y="465.38" width="15.21" height="21.18" fill="#2c8ef1"/>
<rect x="101.2" y="485.96" width="5.47" height="21.18" fill="#f7f31d"/>
<rect x="106.07" y="485.96" width="5.47" height="21.18" fill="#f5e426"/>
<rect x="110.94" y="485.96" width="5.47" height="21.18" fill="#fbd32e"/>
<rect x="115.81" y="485.96" width="5.47" height="21.18" fill="#fec339"/>
<rect x="120.68" y="485.96" width="5.47" height="21.18" fill="#f2ba38"/>
<rect x="125.55" y="485.96" width="5.47" height="21.18" fill="#dbbd29"/>
<rect x="130.42" y="485.96" width="5.47" height="21.18" fill="#c2c22c"/>
<rect x="135.29" y="485.96" width="5.47" height="21.18" fill="#a9c73b"/>
<rect x="140.16" y="485.96" width="5.47" height="21.18" fill="#8fca4d"/>
<rect x="145.03" y="485.96" width="5.47" height="21.18" fill="#78cc5f"/>
<rect x="149.9" y="485.96" width="5.47" height="21.18" fill="#63cd70"/>
<rect x="154.77" y="485.96" width="5.47" height="21.18" fill="#52cc7e"/>
<rect x="159.64" y="485.96" width="5.47" height="21.18" fill="#44cb8a"/>
<rect x="164.51" y="485.96" width="5.47" height="21.18" fill="#3ac994"/>
<rect x="169.38" y="485.96" width="5.47" height="21.18" fill="#34c79c"/>
<rect x="174.25" y="485.96" width="5.47" height="21.18" fill="#2fc5a3"/>
<rect x="179.12" y="485.96" width="5.47" height="21.18" fill="#29c3a9"/>
<rect x="183.99" y="485.96" width="5.47" height="21.18" fill="#23c1af"/>
<rect x="188.86" y="485.96" width="5.47" height="21.18" fill="#1bc0b4"/>
<rect x="193.73" y="485.96" width="5.47" height="21.18" fill="#13beb8"/>
<rect x="198.6" y="485.96" width="5.47" height="21.18" fill="#0cbdbc"/>
<rect x="203.47" y="485.96" width="5.47" height="21.18" fill="#06bcc0"/>
<rect x="208.34" y="485.96" width="5.47" height="21.18" fill="#02bac3"/>
<rect x="213.21" y="485.96" width="5.47" height="21.18" fill="#01b9c6"/>
<rect x="218.08" y="485.96" width="5.47" height="21.18" fill="#01b8c9"/>
<rect x="222.95" y="485.96" width="5.47" height="21.18" fill="#03b7cc"/>
<rect x="227.82" y="485.96" width="5.47" height="21.18" fill="#05b6ce"/>
<rect x="232.69" y="485.96" width="5.47" height="21.18" fill="#08b5d0"/>
<rect x="237.56" y="485.96" width="5.47" height="21.18" fill="#0bb3d2"/>
<rect x="242.43" y="485.96" width="5.47" height="21.18" fill="#0eb2d4"/>
<rect x="247.3" y="485.96" width="5.47" height="21.18" fill="#11b1d6"/>
<rect x="252.17" y="485.96" width="5.47" height="21.18" fill="#13b0d7"/>
<rect x="257.04" y="485.96" width="5.47" height="21.18" fill="#15afd8"/>
<rect x="261.91" y="485.96" width="5.47" height="21.18" fill="#16aeda"/>
<rect x="266.78" y="485.96" width="5.47" height="21.18" fill="#18aedb"/>
<rect x="271.65" y="485.96" width="5.47" height="21.18" fill="#19addc"/>
<rect x="276.52" y="485.96" width="5.47" height="21.18" fill="#1aacdd"/>
<rect x="281.39" y="485.96" width="5.47" height="21.18" fill="#1aabde"/>
<rect x="286.26" y="485.96" width="5.47" height="21.18" fill="#1baade"/>
<rect x="291.13" y="485.96" width="5.47" height="21.18" fill="#1caadf"/>
<rect x="296" y="485.96" width="5.47" height="21.18" fill="#1da9e0"/>
<rect x="300.87" y="485.96" width="5.47" height="21.18" fill="#1da8e0"/>
<rect x="305.74" y="485.96" width="5.47" height="21.18" fill="#1ea8e1"/>
<rect x="310.61" y="485.96" width="5.47" height="21.18" fill="#1ea7e1"/>
<rect x="315.48" y="485.96" width="5.47" height="21.18" fill="#1fa6e1"/>
<rect x="320.35" y="485.96" width="5.47" height="21.18" fill="#1fa6e2"/>
<rect x="325.22" y="485.96" width="5.47" height="21.18" fill="#1fa5e2"/>
<rect x="330.09" y="485.96" width="5.47" height="21.18" fill="#20a5e3"/>
<rect x="334.96" y="485.96" width="5.47" height="21.18" fill="#20a4e3"/>
<rect x="339.83" y="485.96" width="5.47" height="21.18" fill="#21a4e3"/>
<rect x="344.7" y="485.96" width="5.47" height="21.18" fill="#21a3e3"/>
<rect x="349.57" y="485.96" width="5.47" height="21.18" fill="#21a3e4"/>
<rect x="354.44" y="485.96" width="10.34" height="21.18" fill="#22a2e4"/>
<rect x="364.18" y="485.96" width="5.47" height="21.18" fill="#22a1e4"/>
<rect x="369.05" y="485.96" width="5.47" height="21.18" fill="#23a1e4"/>
<rect x="373.92" y="485.96" width="5.47" height="21.18" fill="#23a1e5"/>
<rect x="378.79" y="485.96" width="10.34" height="21.18" fill="#23a0e5"/>
<rect x="388.53" y="485.96" width="5.47" height="21.18" fill="#239fe5"/>
<rect x="393.4" y="485.96" width="5.47" height="21.18" fill="#249fe5"/>
<rect x="398.27" y="485.96" width="5.47" height="21.18" fill="#249fe6"/>
<rect x="403.14" y="485.96" width="20.08" height="21.18" fill="#249ee6"/>
<rect x="422.62" y="485.96" width="5.47" height="21.18" fill="#249de6"/>
<rect x="427.49" y="485.96" width="5.47" height="21.18" fill="#249de7"/>
<rect x="432.36" y="485.96" width="10.34" height="21.18" fill="#259de7"/>
<rect x="442.1" y="485.96" width="20.08" height="21.18" fill="#259ce7"/>
<rect x="461.58" y="485.96" width="5.47" height="21.18" fill="#259be7"/>
<rect x="466.45" y="485.96" width="15.21" height="21.18" fill="#259be8"/>
<rect x="481.06" y="485.96" width="5.47" height="21.18" fill="#269be8"/>
<rect x="485.93" y="485.96" width="15.21" height="21.18" fill="#269ae8"/>
<rect x="500.54" y="485.96" width="15.21" height="21.18" fill="#269ae9"/>
<rect x="515.15" y="485.96" width="29.82" height="21.18" fill="#2699e9"/>
<rect x="544.37" y="485.96" width="10.34" height="21.18" fill="#2698ea"/>
<rect x="554.11" y="485.96" width="34.69" height="21.18" fill="#2798ea"/>
<rect x="101.2" y="506.54" width="5.47" height="21.18" fill="#f7f61a"/>
<rect x="106.07" y="506.54" width="5.47" height="21.18" fill="#f5ea24"/>
<rect x="110.94" y="506.54" width="5.47" height="21.18" fill="#f7db2a"/>
<rect x="115.81" y="506.54" width="5.47" height="21.18" fill="#fdcd32"/>
<rect x="120.68" y="506.54" width="5.47" height="21.18" fill="#febf3b"/>
<rect x="125.55" y="506.54" width="5.47" height="21.18" fill="#f1ba37"/>
<rect x="130.42" y="506.54" width="5.47" height="21.18" fill="#debd29"/>
<rect x="135.29" y="506.54" width="5.47" height="21.18" fill="#c9c129"/>
<rect x="140.16" y="506.54" width="5.47" height="21.18" fill="#b4c534"/>
<rect x="145.03" y="506.54" width="5.47" height="21.18" fill="#9fc941"/>
<rect x="149.9" y="506.54" width="5.47" height="21.18" fill="#8bcb51"/>
<rect x="154.77" y="506.54" width="5.47" height="21.18" fill="#78cc5f"/>
<rect x="159.64" y="506.54" width="5.47" height="21.18" fill="#67cd6c"/>
<rect x="164.51" y="506.54" width="5.47" height="21.18" fill="#59cc78"/>
<rect x="169.38" y="506.54" width="5.47" height="21.18" fill="#4dcc82"/>
<rect x="174.25" y="506.54" width="5.47" height="21.18" fill="#42ca8b"/>
<rect x="179.12" y="506.54" width="5.47" height="21.18" fill="#3bc993"/>
<rect x="183.99" y="506.54" width="5.47" height="21.18" fill="#36c799"/>
<rect x="188.86" y="506.54" width="5.47" height="21.18" fill="#32c69f"/>
<rect x="193.73" y="506.54" width="5.47" height="21.18" fill="#2ec4a4"/>
<rect x="198.6" y="506.54" width="5.47" height="21.18" fill="#2ac3a9"/>
<rect x="203.47" y="506.54" width="5.47" height="21.18" fill="#25c2ad"/>
<rect x="208.34" y="506.54" width="5.47" height="21.18" fill="#20c1b1"/>
<rect x="213.21" y="506.54" width="5.47" height="21.18" fill="#1bc0b4"/>
<rect x="218.08" y="506.54" width="5.47" height="21.18" fill="#15bfb7"/>
<rect x="222.95" y="506.54" width="5.47" height="21.18" fill="#0fbeba"/>
<rect x="227.82" y="506.54" width="5.47" height="21.18" fill="#0abdbd"/>
<rect x="232.69" y="506.54" width="5.47" height="21.18" fill="#07bcc0"/>
<rect x="237.56" y="506.54" width="5.47" height="21.18" fill="#04bbc2"/>
<rect x="242.43" y="506.54" width="5.47" height="21.18" fill="#02bac4"/>
<rect x="247.3" y="506.54" width="5.47" height="21.18" fill="#01b9c6"/>
<rect x="252.17" y="506.54" width="5.47" height="21.18" fill="#01b8c8"/>
<rect x="257.04" y="506.54" width="5.47" height="21.18" fill="#01b8ca"/>
<rect x="261.91" y="506.54" width="5.47" height="21.18" fill="#03b7cc"/>
<rect x="266.78" y="506.54" width="5.47" height="21.18" fill="#04b6cd"/>
<rect x="271.65" y="506.54" width="5.47" height="21.18" fill="#06b5cf"/>
<rect x="276.52" y="506.54" width="5.47" height="21.18" fill="#07b5d0"/>
<rect x="281.39" y="506.54" width="5.47" height="21.18" fill="#09b4d1"/>
<rect x="286.26" y="506.54" width="5.47" height="21.18" fill="#0bb3d2"/>
<rect x="291.13" y="506.54" width="5.47" height="21.18" fill="#0db3d3"/>
<rect x="296" y="506.54" width="5.47" height="21.18" fill="#0fb2d4"/>
<rect x="300.87" y="506.54" width="5.47" height="21.18" fill="#11b1d5"/>
<rect x="305.74" y="506.54" width="5.47" height="21.18" fill="#12b1d6"/>
<rect x="310.61" y="506.54" width="5.47" height="21.18" fill="#13b0d7"/>
<rect x="315.48" y="506.54" width="5.47" height="21.18" fill="#14b0d8"/>
<rect x="320.35" y="506.54" width="5.47" height="21.18" fill="#15afd9"/>
<rect x="325.22" y="506.54" width="5.47" height="21.18" fill="#16afd9"/>
<rect x="330.09" y="506.54" width="5.47" height="21.18" fill="#17aeda"/>
<rect x="334.96" y="506.54" width="5.47" height="21.18" fill="#18aedb"/>
<rect x="339.83" y="506.54" width="5.47" height="21.18" fill="#18addb"/>
<rect x="344.7" y="506.54" width="5.47" height="21.18" fill="#19addc"/>
<rect x="349.57" y="506.54" width="5.47" height="21.18" fill="#19acdc"/>
<rect x="354.44" y="506.54" width="5.47" height="21.18" fill="#1aacdd"/>
<rect x="359.31" y="506.54" width="5.47" height="21.18" fill="#1aabdd"/>
<rect x="364.18" y="506.54" width="10.34" height="21.18" fill="#1babde"/>
<rect x="373.92" y="506.54" width="5.47" height="21.18" fill="#1baade"/>
<rect x="378.79" y="506.54" width="10.34" height="21.18" fill="#1caadf"/>
<rect x="388.53" y="506.54" width="5.47" height="21.18" fill="#1ca9df"/>
<rect x="393.4" y="506.54" width="5.47" height="21.18" fill="#1da9e0"/>
<rect x="398.27" y="506.54" width="15.21" height="21.18" fill="#1da8e0"/>
<rect x="412.88" y="506.54" width="5.47" height="21.18" fill="#1ea8e1"/>
<rect x="417.75" y="506.54" width="15.21" height="21.18" fill="#1ea7e1"/>
<rect x="432.36" y="506.54" width="5.47" height="21.18" fill="#1fa6e1"/>
<rect x="437.23" y="506.54" width="15.21" height="21.18" fill="#1fa6e2"/>
<rect x="451.84" y="506.54" width="5.47" height="21.18" fill="#1fa5e2"/>
<rect x="456.71" y="506.54" width="10.34" height="21.18" fill="#20a5e2"/>
<rect x="466.45" y="506.54" width="5.47" height="21.18" fill="#20a5e3"/>
<rect x="471.32" y="506.54" width="20.08" height="21.18" fill="#20a4e3"/>
<rect x="490.8" y="506.54" width="5.47" height="21.18" fill="#21a4e3"/>
<rect x="495.67" y="506.54" width="20.08" height="21.18" fill="#21a3e3"/>
<rect x="515.15" y="506.54" width="10.34" height="21.18" fill="#21a3e4"/>
<rect x="524.89" y="506.54" width="29.82" height="21.18" fill="#22a2e4"/>
<rect x="554.11" y="506.54" width="20.08" height="21.18" fill="#22a1e4"/>
<rect x="573.59" y="506.54" width="10.34" height="21.18" fill="#23a1e4"/>
<rect x="583.33" y="506.54" width="5.47" height="21.18" fill="#23a1e5"/>
<rect x="101.2" y="527.12" width="5.47" height="21.18" fill="#f8f818"/>
<rect x="106.07" y="527.12" width="5.47" height="21.18" fill="#f5ee21"/>
<rect x="110.94" y="527.12" width="5.47" height="21.18" fill="#f5e327"/>
<rect x="115.81" y="527.12" width="5.47" height="21.18" fill="#f9d62d"/>
<rect x="120.68" y="527.12" width="5.47" height="21.18" fill="#feca33"/>
<rect x="125.55" y="527.12" width="5.47" height="21.18" fill="#febf3b"/>
<rect x="130.42" y="527.12" width="5.47" height="21.18" fill="#f4ba3a"/>
<rect x="135.29" y="527.12" width="5.47" height="21.18" fill="#e5bb2d"/>
<rect x="140.16" y="527.12" width="5.47" height="21.18" fill="#d5be28"/>
<rect x="145.03" y="527.12" width="5.47" height="21.18" fill="#c4c22a"/>
<rect x="149.9" y="527.12" width="5.47" height="21.18" fill="#b3c534"/>
<rect x="154.77" y="527.12" width="5.47" height="21.18" fill="#a3c83f"/>
<rect x="159.64" y="527.12" width="5.47" height="21.18" fill="#93ca4b"/>
<rect x="164.51" y="527.12" width="5.47" height="21.18" fill="#83cc57"/>
<rect x="169.38" y="527.12" width="5.47" height="21.18" fill="#75cc61"/>
<rect x="174.25" y="527.12" width="5.47" height="21.18" fill="#68cd6c"/>
<rect x="179.12" y="527.12" width="5.47" height="21.18" fill="#5dcc75"/>
<rect x="183.99" y="527.12" width="5.47" height="21.18" fill="#53cc7d"/>
<rect x="188.86" y="527.12" width="5.47" height="21.18" fill="#4acb85"/>
<rect x="193.73" y="527.12" width="5.47" height="21.18" fill="#42ca8b"/>
<rect x="198.6" y="527.12" width="5.47" height="21.18" fill="#3cc991"/>
<rect x="203.47" y="527.12" width="5.47" height="21.18" fill="#38c896"/>
<rect x="208.34" y="527.12" width="5.47" height="21.18" fill="#34c79b"/>
<rect x="213.21" y="527.12" width="5.47" height="21.18" fill="#31c69f"/>
<rect x="218.08" y="527.12" width="5.47" height="21.18" fill="#2fc5a3"/>
<rect x="222.95" y="527.12" width="5.47" height="21.18" fill="#2cc4a7"/>
<rect x="227.82" y="527.12" width="5.47" height="21.18" fill="#29c3aa"/>
<rect x="232.69" y="527.12" width="5.47" height="21.18" fill="#26c2ad"/>
<rect x="237.56" y="527.12" width="5.47" height="21.18" fill="#22c1af"/>
<rect x="242.43" y="527.12" width="5.47" height="21.18" fill="#1ec0b2"/>
<rect x="247.3" y="527.12" width="5.47" height="21.18" fill="#1bc0b4"/>
<rect x="252.17" y="527.12" width="5.47" height="21.18" fill="#17bfb7"/>
<rect x="257.04" y="527.12" width="5.47" height="21.18" fill="#13beb9"/>
<rect x="261.91" y="527.12" width="5.47" height="21.18" fill="#0fbebb"/>
<rect x="266.78" y="527.12" width="5.47" height="21.18" fill="#0bbdbd"/>
<rect x="271.65" y="527.12" width="5.47" height="21.18" fill="#09bcbe"/>
<rect x="276.52" y="527.12" width="5.47" height="21.18" fill="#06bcc0"/>
<rect x="281.39" y="527.12" width="5.47" height="21.18" fill="#04bbc1"/>
<rect x="286.26" y="527.12" width="5.47" height="21.18" fill="#02bbc3"/>
<rect x="291.13" y="527.12" width="5.47" height="21.18" fill="#02bac4"/>
<rect x="296" y="527.12" width="5.47" height="21.18" fill="#01b9c6"/>
<rect x="300.87" y="527.12" width="5.47" height="21.18" fill="#01b9c7"/>
<rect x="305.74" y="527.12" width="5.47" height="21.18" fill="#01b8c8"/>
<rect x="310.61" y="527.12" width="5.47" height="21.18" fill="#01b8c9"/>
<rect x="315.48" y="527.12" width="5.47" height="21.18" fill="#01b7ca"/>
<rect x="320.35" y="527.12" width="5.47" height="21.18" fill="#03b7cb"/>
<rect x="325.22" y="527.12" width="5.47" height="21.18" fill="#04b6cc"/>
<rect x="330.09" y="527.12" width="5.47" height="21.18" fill="#05b6cd"/>
<rect x="334.96" y="527.12" width="5.47" height="21.18" fill="#05b6ce"/>
<rect x="339.83" y="527.12" width="5.47" height="21.18" fill="#06b5cf"/>
<rect x="344.7" y="527.12" width="5.47" height="21.18" fill="#07b5d0"/>
<rect x="349.57" y="527.12" width="5.47" height="21.18" fill="#08b4d1"/>
<rect x="354.44" y="527.12" width="5.47" height="21.18" fill="#0ab4d1"/>
<rect x="359.31" y="527.12" width="5.47" height="21.18" fill="#0bb3d2"/>
<rect x="364.18" y="527.12" width="5.47" height="21.18" fill="#0cb3d3"/>
<rect x="369.05" y="527.12" width="5.47" height="21.18" fill="#0db3d3"/>
<rect x="373.92" y="527.12" width="5.47" height="21.18" fill="#0eb2d4"/>
<rect x="378.79" y="527.12" width="5.47" height="21.18" fill="#0fb2d5"/>
<rect x="383.66" y="527.12" width="5.47" height="21.18" fill="#10b2d5"/>
<rect x="388.53" y="527.12" width="5.47" height="21.18" fill="#11b1d6"/>
<rect x="393.4" y="527.12" width="5.47" height="21.18" fill="#12b1d6"/>
<rect x="398.27" y="527.12" width="5.47" height="21.18" fill="#12b1d7"/>
<rect x="403.14" y="527.12" width="5.47" height="21.18" fill="#13b0d7"/>
<rect x="408.01" y="527.12" width="5.47" height="21.18" fill="#13b0d8"/>
<rect x="412.88" y="527.12" width="5.47" height="21.18" fill="#14b0d8"/>
<rect x="417.75" y="527.12" width="5.47" height="21.18" fill="#15afd8"/>
<rect x="422.62" y="527.12" width="5.47" height="21.18" fill="#15afd9"/>
<rect x="427.49" y="527.12" width="10.34" height="21.18" fill="#16afd9"/>
<rect x="437.23" y="527.12" width="5.47" height="21.18" fill="#16aeda"/>
<rect x="442.1" y="527.12" width="10.34" height="21.18" fill="#17aeda"/>
<rect x="451.84" y="527.12" width="5.47" height="21.18" fill="#18aedb"/>
<rect x="456.71" y="527.12" width="10.34" height="21.18" fill="#18addb"/>
<rect x="466.45" y="527.12" width="15.21" height="21.18" fill="#19addc"/>
<rect x="481.06" y="527.12" width="5.47" height="21.18" fill="#19acdc"/>
<rect x="485.93" y="527.12" width="15.21" height="21.18" fill="#1aacdd"/>
<rect x="500.54" y="527.12" width="10.34" height="21.18" fill="#1aabdd"/>
<rect x="510.28" y="527.12" width="20.08" height="21.18" fill="#1babde"/>
<rect x="529.76" y="527.12" width="10.34" height="21.18" fill="#1baade"/>
<rect x="539.5" y="527.12" width="20.08" height="21.18" fill="#1caadf"/>
<rect x="558.98" y="527.12" width="15.21" height="21.18" fill="#1ca9df"/>
<rect x="573.59" y="527.12" width="15.21" height="21.18" fill="#1da9e0"/>
</g>
<rect x="102" y="33" width="486.1" height="513" fill="none" stroke="#000" stroke-width="1.7"/>
<path d="M102 546h6.5M102 460.5h6.5M102 375h6.5M102 289.5h6.5M102 204h6.5M102 118.5h6.5M102 33h6.5M102 546v-6.5M223.53 546v-6.5M345.05 546v-6.5M466.57 546v-6.5M588.1 546v-6.5" stroke="#000" stroke-width="1.5" fill="none"/>
<text transform="translate(73.59,554.17) scale(1.1500,1)" font-size="23.4">0</text>
<text transform="translate(58.63,468.67) scale(1.1500,1)" font-size="23.4">50</text>
<text transform="translate(48.24,383.17) scale(1.0300,1)" font-size="23.4">100</text>
<text transform="translate(48.24,297.67) scale(1.0300,1)" font-size="23.4">150</text>
<text transform="translate(45.95,212.17) scale(1.0900,1)" font-size="23.4">200</text>
<text transform="translate(45.95,126.67) scale(1.0900,1)" font-size="23.4">250</text>
<text transform="translate(43.66,41.17) scale(1.1500,1)" font-size="23.4">300</text>
<text transform="translate(94.82,575.1) scale(1.1500,1)" font-size="23.4">0</text>
<text transform="translate(201.37,575.1) scale(1.1500,1)" font-size="23.4">500</text>
<text transform="translate(314.75,575.1) scale(1.0300,1)" font-size="23.4">1,000</text>
<text transform="translate(436.28,575.1) scale(1.0300,1)" font-size="23.4">1,500</text>
<text transform="translate(556.35,575.1) scale(1.0900,1)" font-size="23.4">2,000</text>
<text transform="translate(264.78,616) scale(1.0021,1)" font-size="28.2">Distance (m)</text>
<text transform="translate(23.2,442.92) rotate(-90) scale(1.0053,1)" font-size="28.2">Elevation above bed (m)</text>
<defs><linearGradient id="par" x1="0" y1="1" x2="0" y2="0"><stop offset="0" stop-color="#3e26a8"/><stop offset="0.02" stop-color="#402ab4"/><stop offset="0.03" stop-color="#422ec0"/><stop offset="0.05" stop-color="#4332cb"/><stop offset="0.06" stop-color="#4537d5"/><stop offset="0.08" stop-color="#463cde"/><stop offset="0.1" stop-color="#4741e5"/><stop offset="0.11" stop-color="#4747eb"/><stop offset="0.13" stop-color="#484df0"/><stop offset="0.14" stop-color="#4852f4"/><stop offset="0.16" stop-color="#4758f8"/><stop offset="0.17" stop-color="#465efb"/><stop offset="0.19" stop-color="#4563fd"/><stop offset="0.21" stop-color="#4269fe"/><stop offset="0.22" stop-color="#3e6fff"/><stop offset="0.24" stop-color="#3875fe"/><stop offset="0.25" stop-color="#327cfc"/><stop offset="0.27" stop-color="#2f81fa"/><stop offset="0.29" stop-color="#2e87f7"/><stop offset="0.3" stop-color="#2d8cf3"/><stop offset="0.32" stop-color="#2b91ef"/><stop offset="0.33" stop-color="#2797eb"/><stop offset="0.35" stop-color="#259be8"/><stop offset="0.37" stop-color="#23a0e5"/><stop offset="0.38" stop-color="#20a5e3"/><stop offset="0.4" stop-color="#1ca9df"/><stop offset="0.41" stop-color="#18addb"/><stop offset="0.43" stop-color="#12b1d6"/><stop offset="0.44" stop-color="#08b5d0"/><stop offset="0.46" stop-color="#01b8ca"/><stop offset="0.48" stop-color="#02bac3"/><stop offset="0.49" stop-color="#0bbdbd"/><stop offset="0.51" stop-color="#19bfb6"/><stop offset="0.52" stop-color="#24c1ae"/><stop offset="0.54" stop-color="#2cc4a7"/><stop offset="0.56" stop-color="#31c69f"/><stop offset="0.57" stop-color="#37c897"/><stop offset="0.59" stop-color="#3fca8e"/><stop offset="0.6" stop-color="#4acb84"/><stop offset="0.62" stop-color="#57cc7a"/><stop offset="0.63" stop-color="#64cd6f"/><stop offset="0.65" stop-color="#72cd64"/><stop offset="0.67" stop-color="#81cc59"/><stop offset="0.68" stop-color="#8fcb4e"/><stop offset="0.7" stop-color="#9dc943"/><stop offset="0.71" stop-color="#abc739"/><stop offset="0.73" stop-color="#b9c431"/><stop offset="0.75" stop-color="#c5c22a"/><stop offset="0.76" stop-color="#d1bf27"/><stop offset="0.78" stop-color="#dcbd29"/><stop offset="0.79" stop-color="#e6bb2d"/><stop offset="0.81" stop-color="#f0ba36"/><stop offset="0.83" stop-color="#f8ba3d"/><stop offset="0.84" stop-color="#febe3c"/><stop offset="0.86" stop-color="#fec338"/><stop offset="0.87" stop-color="#fec934"/><stop offset="0.89" stop-color="#fccf30"/><stop offset="0.9" stop-color="#fad62d"/><stop offset="0.92" stop-color="#f7dc2a"/><stop offset="0.94" stop-color="#f5e327"/><stop offset="0.95" stop-color="#f5e924"/><stop offset="0.97" stop-color="#f6ef20"/><stop offset="0.98" stop-color="#f7f51b"/><stop offset="1" stop-color="#f9fb15"/></linearGradient></defs>
<rect x="624.2" y="33" width="29.7" height="513" fill="url(#par)" stroke="#222" stroke-width="1"/>
<text transform="translate(666.15,41.47) scale(1.1500,1)" font-size="23.4">0</text>
<text transform="translate(665.79,114.75) scale(0.9700,1)" font-size="23.4">−2</text>
<text transform="translate(665.79,187.92) scale(0.9700,1)" font-size="23.4">−4</text>
<text transform="translate(665.79,261.32) scale(0.9700,1)" font-size="23.4">−6</text>
<text transform="translate(665.79,334.61) scale(0.9700,1)" font-size="23.4">−8</text>
<text transform="translate(665.85,407.9) scale(0.9150,1)" font-size="23.4">−10</text>
<text transform="translate(665.85,481.18) scale(0.9150,1)" font-size="23.4">−12</text>
<text transform="translate(665.85,554.35) scale(0.9150,1)" font-size="23.4">−14</text>
<path d="M653.9 106.29h-9M653.9 179.57h-9M653.9 252.86h-9M653.9 326.14h-9M653.9 399.43h-9M653.9 472.71h-9" stroke="#222" stroke-width="1.1" fill="none"/>
<text transform="translate(723.2,180.17) rotate(90) scale(1.0140,1)" font-size="28.2">Temperature (°C)</text>
<text transform="translate(0.48,28.9) scale(0.9363,1)" font-size="37.6" font-weight="bold" stroke="#000" stroke-width="1.4" stroke-linejoin="round">a</text>
<g shape-rendering="crispEdges">
<rect x="916.5" y="508.23" width="13.49" height="26.32" fill="#4742e6"/>
<rect x="929.39" y="508.23" width="26.38" height="26.32" fill="#4742e6"/>
<rect x="955.17" y="508.23" width="26.38" height="26.32" fill="#4745e9"/>
<rect x="980.94" y="508.23" width="26.38" height="26.32" fill="#4747eb"/>
<rect x="1006.72" y="508.23" width="26.38" height="26.32" fill="#4849ed"/>
<rect x="1032.5" y="508.23" width="26.38" height="26.32" fill="#484bef"/>
<rect x="1058.28" y="508.23" width="26.38" height="26.32" fill="#484df1"/>
<rect x="1084.06" y="508.23" width="26.38" height="26.32" fill="#4850f2"/>
<rect x="1109.83" y="508.23" width="26.38" height="26.32" fill="#4852f4"/>
<rect x="1135.61" y="508.23" width="26.38" height="26.32" fill="#4854f5"/>
<rect x="1161.39" y="508.23" width="26.38" height="26.32" fill="#4756f6"/>
<rect x="1187.17" y="508.23" width="26.38" height="26.32" fill="#4758f8"/>
<rect x="1212.94" y="508.23" width="26.38" height="26.32" fill="#475af9"/>
<rect x="1238.72" y="508.23" width="26.38" height="26.32" fill="#475cfa"/>
<rect x="1264.5" y="508.23" width="26.38" height="26.32" fill="#465efb"/>
<rect x="1290.28" y="508.23" width="26.38" height="26.32" fill="#4660fc"/>
<rect x="1316.06" y="508.23" width="26.38" height="26.32" fill="#4563fc"/>
<rect x="1341.83" y="508.23" width="26.38" height="26.32" fill="#4465fd"/>
<rect x="1367.61" y="508.23" width="13.49" height="26.32" fill="#4367fd"/>
<rect x="916.5" y="482.51" width="13.49" height="26.32" fill="#4743e7"/>
<rect x="929.39" y="482.51" width="26.38" height="26.32" fill="#4848ec"/>
<rect x="955.17" y="482.51" width="26.38" height="26.32" fill="#484cef"/>
<rect x="980.94" y="482.51" width="26.38" height="26.32" fill="#4850f3"/>
<rect x="1006.72" y="482.51" width="26.38" height="26.32" fill="#4854f6"/>
<rect x="1032.5" y="482.51" width="26.38" height="26.32" fill="#4759f8"/>
<rect x="1058.28" y="482.51" width="26.38" height="26.32" fill="#475dfa"/>
<rect x="1084.06" y="482.51" width="26.38" height="26.32" fill="#4561fc"/>
<rect x="1109.83" y="482.51" width="26.38" height="26.32" fill="#4465fd"/>
<rect x="1135.61" y="482.51" width="26.38" height="26.32" fill="#426afe"/>
<rect x="1161.39" y="482.51" width="26.38" height="26.32" fill="#3f6eff"/>
<rect x="1187.17" y="482.51" width="26.38" height="26.32" fill="#3b73fe"/>
<rect x="1212.94" y="482.51" width="26.38" height="26.32" fill="#3677fe"/>
<rect x="1238.72" y="482.51" width="26.38" height="26.32" fill="#327cfc"/>
<rect x="1264.5" y="482.51" width="26.38" height="26.32" fill="#2f80fa"/>
<rect x="1290.28" y="482.51" width="26.38" height="26.32" fill="#2e84f8"/>
<rect x="1316.06" y="482.51" width="26.38" height="26.32" fill="#2d88f6"/>
<rect x="1341.83" y="482.51" width="26.38" height="26.32" fill="#2d8cf3"/>
<rect x="1367.61" y="482.51" width="13.49" height="26.32" fill="#2c90f0"/>
<rect x="916.5" y="456.8" width="13.49" height="26.31" fill="#4747eb"/>
<rect x="929.39" y="456.8" width="26.38" height="26.31" fill="#484df0"/>
<rect x="955.17" y="456.8" width="26.38" height="26.31" fill="#4853f5"/>
<rect x="980.94" y="456.8" width="26.38" height="26.31" fill="#4759f8"/>
<rect x="1006.72" y="456.8" width="26.38" height="26.31" fill="#465ffb"/>
<rect x="1032.5" y="456.8" width="26.38" height="26.31" fill="#4465fd"/>
<rect x="1058.28" y="456.8" width="26.38" height="26.31" fill="#416bfe"/>
<rect x="1084.06" y="456.8" width="26.38" height="26.31" fill="#3c72ff"/>
<rect x="1109.83" y="456.8" width="26.38" height="26.31" fill="#3578fd"/>
<rect x="1135.61" y="456.8" width="26.38" height="26.31" fill="#307ffb"/>
<rect x="1161.39" y="456.8" width="26.38" height="26.31" fill="#2e85f8"/>
<rect x="1187.17" y="456.8" width="26.38" height="26.31" fill="#2d8af4"/>
<rect x="1212.94" y="456.8" width="26.38" height="26.31" fill="#2c90f0"/>
<rect x="1238.72" y="456.8" width="26.38" height="26.31" fill="#2895ec"/>
<rect x="1264.5" y="456.8" width="26.38" height="26.31" fill="#269ae8"/>
<rect x="1290.28" y="456.8" width="26.38" height="26.31" fill="#249fe5"/>
<rect x="1316.06" y="456.8" width="26.38" height="26.31" fill="#20a4e3"/>
<rect x="1341.83" y="456.8" width="26.38" height="26.31" fill="#1da9e0"/>
<rect x="1367.61" y="456.8" width="13.49" height="26.31" fill="#19addc"/>
<rect x="916.5" y="431.08" width="13.49" height="26.31" fill="#484cf0"/>
<rect x="929.39" y="431.08" width="26.38" height="26.31" fill="#4854f5"/>
<rect x="955.17" y="431.08" width="26.38" height="26.31" fill="#475bf9"/>
<rect x="980.94" y="431.08" width="26.38" height="26.31" fill="#4563fc"/>
<rect x="1006.72" y="431.08" width="26.38" height="26.31" fill="#426afe"/>
<rect x="1032.5" y="431.08" width="26.38" height="26.31" fill="#3b72ff"/>
<rect x="1058.28" y="431.08" width="26.38" height="26.31" fill="#337afd"/>
<rect x="1084.06" y="431.08" width="26.38" height="26.31" fill="#2f82fa"/>
<rect x="1109.83" y="431.08" width="26.38" height="26.31" fill="#2d89f5"/>
<rect x="1135.61" y="431.08" width="26.38" height="26.31" fill="#2c90f0"/>
<rect x="1161.39" y="431.08" width="26.38" height="26.31" fill="#2796eb"/>
<rect x="1187.17" y="431.08" width="26.38" height="26.31" fill="#259ce7"/>
<rect x="1212.94" y="431.08" width="26.38" height="26.31" fill="#21a3e4"/>
<rect x="1238.72" y="431.08" width="26.38" height="26.31" fill="#1da8e0"/>
<rect x="1264.5" y="431.08" width="26.38" height="26.31" fill="#18aedb"/>
<rect x="1290.28" y="431.08" width="26.38" height="26.31" fill="#0eb3d4"/>
<rect x="1316.06" y="431.08" width="26.38" height="26.31" fill="#03b7cc"/>
<rect x="1341.83" y="431.08" width="26.38" height="26.31" fill="#02bac4"/>
<rect x="1367.61" y="431.08" width="13.49" height="26.31" fill="#0ebebb"/>
<rect x="916.5" y="405.37" width="13.49" height="26.32" fill="#4853f5"/>
<rect x="929.39" y="405.37" width="26.38" height="26.32" fill="#475bfa"/>
<rect x="955.17" y="405.37" width="26.38" height="26.32" fill="#4564fd"/>
<rect x="980.94" y="405.37" width="26.38" height="26.32" fill="#406dfe"/>
<rect x="1006.72" y="405.37" width="26.38" height="26.32" fill="#3876fe"/>
<rect x="1032.5" y="405.37" width="26.38" height="26.32" fill="#307ffb"/>
<rect x="1058.28" y="405.37" width="26.38" height="26.32" fill="#2e87f7"/>
<rect x="1084.06" y="405.37" width="26.38" height="26.32" fill="#2c8ff0"/>
<rect x="1109.83" y="405.37" width="26.38" height="26.32" fill="#2797eb"/>
<rect x="1135.61" y="405.37" width="26.38" height="26.32" fill="#249ee6"/>
<rect x="1161.39" y="405.37" width="26.38" height="26.32" fill="#20a5e3"/>
<rect x="1187.17" y="405.37" width="26.38" height="26.32" fill="#1aabdd"/>
<rect x="1212.94" y="405.37" width="26.38" height="26.32" fill="#12b1d6"/>
<rect x="1238.72" y="405.37" width="26.38" height="26.32" fill="#05b6cd"/>
<rect x="1264.5" y="405.37" width="26.38" height="26.32" fill="#02bac4"/>
<rect x="1290.28" y="405.37" width="26.38" height="26.32" fill="#10beba"/>
<rect x="1316.06" y="405.37" width="26.38" height="26.32" fill="#22c1b0"/>
<rect x="1341.83" y="405.37" width="26.38" height="26.32" fill="#2ec4a5"/>
<rect x="1367.61" y="405.37" width="13.49" height="26.32" fill="#36c899"/>
<rect x="916.5" y="379.65" width="13.49" height="26.31" fill="#475bf9"/>
<rect x="929.39" y="379.65" width="26.38" height="26.31" fill="#4464fd"/>
<rect x="955.17" y="379.65" width="26.38" height="26.31" fill="#3f6efe"/>
<rect x="980.94" y="379.65" width="26.38" height="26.31" fill="#3678fd"/>
<rect x="1006.72" y="379.65" width="26.38" height="26.31" fill="#2f81fa"/>
<rect x="1032.5" y="379.65" width="26.38" height="26.31" fill="#2d8af4"/>
<rect x="1058.28" y="379.65" width="26.38" height="26.31" fill="#2a93ee"/>
<rect x="1084.06" y="379.65" width="26.38" height="26.31" fill="#259be8"/>
<rect x="1109.83" y="379.65" width="26.38" height="26.31" fill="#22a2e4"/>
<rect x="1135.61" y="379.65" width="26.38" height="26.31" fill="#1caadf"/>
<rect x="1161.39" y="379.65" width="26.38" height="26.31" fill="#13b0d7"/>
<rect x="1187.17" y="379.65" width="26.38" height="26.31" fill="#05b6ce"/>
<rect x="1212.94" y="379.65" width="26.38" height="26.31" fill="#02bac4"/>
<rect x="1238.72" y="379.65" width="26.38" height="26.31" fill="#13beb8"/>
<rect x="1264.5" y="379.65" width="26.38" height="26.31" fill="#25c2ad"/>
<rect x="1290.28" y="379.65" width="26.38" height="26.31" fill="#30c5a1"/>
<rect x="1316.06" y="379.65" width="26.38" height="26.31" fill="#3ac993"/>
<rect x="1341.83" y="379.65" width="26.38" height="26.31" fill="#4bcb84"/>
<rect x="1367.61" y="379.65" width="13.49" height="26.31" fill="#5fcd73"/>
<rect x="916.5" y="353.94" width="13.49" height="26.31" fill="#4563fd"/>
<rect x="929.39" y="353.94" width="26.38" height="26.31" fill="#3f6efe"/>
<rect x="955.17" y="353.94" width="26.38" height="26.31" fill="#3578fd"/>
<rect x="980.94" y="353.94" width="26.38" height="26.31" fill="#2f82f9"/>
<rect x="1006.72" y="353.94" width="26.38" height="26.31" fill="#2d8cf3"/>
<rect x="1032.5" y="353.94" width="26.38" height="26.31" fill="#2995ec"/>
<rect x="1058.28" y="353.94" width="26.38" height="26.31" fill="#259de7"/>
<rect x="1084.06" y="353.94" width="26.38" height="26.31" fill="#20a5e2"/>
<rect x="1109.83" y="353.94" width="26.38" height="26.31" fill="#19acdc"/>
<rect x="1135.61" y="353.94" width="26.38" height="26.31" fill="#0db3d3"/>
<rect x="1161.39" y="353.94" width="26.38" height="26.31" fill="#01b8c9"/>
<rect x="1187.17" y="353.94" width="26.38" height="26.31" fill="#0abdbd"/>
<rect x="1212.94" y="353.94" width="26.38" height="26.31" fill="#20c1b1"/>
<rect x="1238.72" y="353.94" width="26.38" height="26.31" fill="#2ec4a5"/>
<rect x="1264.5" y="353.94" width="26.38" height="26.31" fill="#38c897"/>
<rect x="1290.28" y="353.94" width="26.38" height="26.31" fill="#48cb87"/>
<rect x="1316.06" y="353.94" width="26.38" height="26.31" fill="#5dcc75"/>
<rect x="1341.83" y="353.94" width="26.38" height="26.31" fill="#75cc62"/>
<rect x="1367.61" y="353.94" width="13.49" height="26.31" fill="#8ecb4f"/>
<rect x="916.5" y="328.22" width="13.49" height="26.32" fill="#406dfe"/>
<rect x="929.39" y="328.22" width="26.38" height="26.32" fill="#3678fe"/>
<rect x="955.17" y="328.22" width="26.38" height="26.32" fill="#2f82f9"/>
<rect x="980.94" y="328.22" width="26.38" height="26.32" fill="#2d8cf3"/>
<rect x="1006.72" y="328.22" width="26.38" height="26.32" fill="#2895ec"/>
<rect x="1032.5" y="328.22" width="26.38" height="26.32" fill="#249ee6"/>
<rect x="1058.28" y="328.22" width="26.38" height="26.32" fill="#1fa6e2"/>
<rect x="1084.06" y="328.22" width="26.38" height="26.32" fill="#18addb"/>
<rect x="1109.83" y="328.22" width="26.38" height="26.32" fill="#09b4d1"/>
<rect x="1135.61" y="328.22" width="26.38" height="26.32" fill="#01b9c6"/>
<rect x="1161.39" y="328.22" width="26.38" height="26.32" fill="#10beba"/>
<rect x="1187.17" y="328.22" width="26.38" height="26.32" fill="#25c2ad"/>
<rect x="1212.94" y="328.22" width="26.38" height="26.32" fill="#31c6a0"/>
<rect x="1238.72" y="328.22" width="26.38" height="26.32" fill="#3dc990"/>
<rect x="1264.5" y="328.22" width="26.38" height="26.32" fill="#51cc7f"/>
<rect x="1290.28" y="328.22" width="26.38" height="26.32" fill="#68cd6c"/>
<rect x="1316.06" y="328.22" width="26.38" height="26.32" fill="#82cc58"/>
<rect x="1341.83" y="328.22" width="26.38" height="26.32" fill="#9cc944"/>
<rect x="1367.61" y="328.22" width="13.49" height="26.32" fill="#b4c533"/>
<rect x="916.5" y="302.51" width="13.49" height="26.31" fill="#3776fe"/>
<rect x="929.39" y="302.51" width="26.38" height="26.31" fill="#2f81fa"/>
<rect x="955.17" y="302.51" width="26.38" height="26.31" fill="#2d8bf4"/>
<rect x="980.94" y="302.51" width="26.38" height="26.31" fill="#2994ed"/>
<rect x="1006.72" y="302.51" width="26.38" height="26.31" fill="#249de6"/>
<rect x="1032.5" y="302.51" width="26.38" height="26.31" fill="#1fa6e2"/>
<rect x="1058.28" y="302.51" width="26.38" height="26.31" fill="#18aedb"/>
<rect x="1084.06" y="302.51" width="26.38" height="26.31" fill="#09b4d1"/>
<rect x="1109.83" y="302.51" width="26.38" height="26.31" fill="#01bac5"/>
<rect x="1135.61" y="302.51" width="26.38" height="26.31" fill="#12beb9"/>
<rect x="1161.39" y="302.51" width="26.38" height="26.31" fill="#27c2ac"/>
<rect x="1187.17" y="302.51" width="26.38" height="26.31" fill="#32c69e"/>
<rect x="1212.94" y="302.51" width="26.38" height="26.31" fill="#3fca8e"/>
<rect x="1238.72" y="302.51" width="26.38" height="26.31" fill="#55cc7c"/>
<rect x="1264.5" y="302.51" width="26.38" height="26.31" fill="#6dcd68"/>
<rect x="1290.28" y="302.51" width="26.38" height="26.31" fill="#88cb53"/>
<rect x="1316.06" y="302.51" width="26.38" height="26.31" fill="#a2c840"/>
<rect x="1341.83" y="302.51" width="26.38" height="26.31" fill="#bbc430"/>
<rect x="1367.61" y="302.51" width="13.49" height="26.31" fill="#d1bf27"/>
<rect x="916.5" y="276.79" width="13.49" height="26.32" fill="#307ffb"/>
<rect x="929.39" y="276.79" width="26.38" height="26.32" fill="#2d8af5"/>
<rect x="955.17" y="276.79" width="26.38" height="26.32" fill="#2a93ed"/>
<rect x="980.94" y="276.79" width="26.38" height="26.32" fill="#259ce7"/>
<rect x="1006.72" y="276.79" width="26.38" height="26.32" fill="#20a5e3"/>
<rect x="1032.5" y="276.79" width="26.38" height="26.32" fill="#19addc"/>
<rect x="1058.28" y="276.79" width="26.38" height="26.32" fill="#0bb4d2"/>
<rect x="1084.06" y="276.79" width="26.38" height="26.32" fill="#01b9c6"/>
<rect x="1109.83" y="276.79" width="26.38" height="26.32" fill="#10beba"/>
<rect x="1135.61" y="276.79" width="26.38" height="26.32" fill="#26c2ad"/>
<rect x="1161.39" y="276.79" width="26.38" height="26.32" fill="#32c69f"/>
<rect x="1187.17" y="276.79" width="26.38" height="26.32" fill="#3eca8f"/>
<rect x="1212.94" y="276.79" width="26.38" height="26.32" fill="#54cc7c"/>
<rect x="1238.72" y="276.79" width="26.38" height="26.32" fill="#6dcd68"/>
<rect x="1264.5" y="276.79" width="26.38" height="26.32" fill="#88cb53"/>
<rect x="1290.28" y="276.79" width="26.38" height="26.32" fill="#a2c83f"/>
<rect x="1316.06" y="276.79" width="26.38" height="26.32" fill="#bbc42f"/>
<rect x="1341.83" y="276.79" width="26.38" height="26.32" fill="#d2bf27"/>
<rect x="1367.61" y="276.79" width="13.49" height="26.32" fill="#e6bb2d"/>
<rect x="916.5" y="251.08" width="13.49" height="26.31" fill="#2d87f6"/>
<rect x="929.39" y="251.08" width="26.38" height="26.31" fill="#2b91ef"/>
<rect x="955.17" y="251.08" width="26.38" height="26.31" fill="#269ae8"/>
<rect x="980.94" y="251.08" width="26.38" height="26.31" fill="#21a3e3"/>
<rect x="1006.72" y="251.08" width="26.38" height="26.31" fill="#1aabdd"/>
<rect x="1032.5" y="251.08" width="26.38" height="26.31" fill="#0eb2d4"/>
<rect x="1058.28" y="251.08" width="26.38" height="26.31" fill="#01b8c9"/>
<rect x="1084.06" y="251.08" width="26.38" height="26.31" fill="#0cbdbc"/>
<rect x="1109.83" y="251.08" width="26.38" height="26.31" fill="#23c1af"/>
<rect x="1135.61" y="251.08" width="26.38" height="26.31" fill="#30c5a1"/>
<rect x="1161.39" y="251.08" width="26.38" height="26.31" fill="#3cc991"/>
<rect x="1187.17" y="251.08" width="26.38" height="26.31" fill="#50cc7f"/>
<rect x="1212.94" y="251.08" width="26.38" height="26.31" fill="#69cd6b"/>
<rect x="1238.72" y="251.08" width="26.38" height="26.31" fill="#84cc56"/>
<rect x="1264.5" y="251.08" width="26.38" height="26.31" fill="#9fc941"/>
<rect x="1290.28" y="251.08" width="26.38" height="26.31" fill="#b9c431"/>
<rect x="1316.06" y="251.08" width="26.38" height="26.31" fill="#d0c028"/>
<rect x="1341.83" y="251.08" width="26.38" height="26.31" fill="#e4bb2c"/>
<rect x="1367.61" y="251.08" width="13.49" height="26.31" fill="#f5ba3a"/>
<rect x="916.5" y="225.36" width="13.49" height="26.32" fill="#2c8ef1"/>
<rect x="929.39" y="225.36" width="26.38" height="26.32" fill="#2798ea"/>
<rect x="955.17" y="225.36" width="26.38" height="26.32" fill="#23a1e5"/>
<rect x="980.94" y="225.36" width="26.38" height="26.32" fill="#1ca9e0"/>
<rect x="1006.72" y="225.36" width="26.38" height="26.32" fill="#13b1d7"/>
<rect x="1032.5" y="225.36" width="26.38" height="26.32" fill="#03b7cc"/>
<rect x="1058.28" y="225.36" width="26.38" height="26.32" fill="#07bcc0"/>
<rect x="1084.06" y="225.36" width="26.38" height="26.32" fill="#1dc0b3"/>
<rect x="1109.83" y="225.36" width="26.38" height="26.32" fill="#2dc4a5"/>
<rect x="1135.61" y="225.36" width="26.38" height="26.32" fill="#38c896"/>
<rect x="1161.39" y="225.36" width="26.38" height="26.32" fill="#4acb84"/>
<rect x="1187.17" y="225.36" width="26.38" height="26.32" fill="#62cd70"/>
<rect x="1212.94" y="225.36" width="26.38" height="26.32" fill="#7dcc5b"/>
<rect x="1238.72" y="225.36" width="26.38" height="26.32" fill="#99c946"/>
<rect x="1264.5" y="225.36" width="26.38" height="26.32" fill="#b3c534"/>
<rect x="1290.28" y="225.36" width="26.38" height="26.32" fill="#cac129"/>
<rect x="1316.06" y="225.36" width="26.38" height="26.32" fill="#dfbc2a"/>
<rect x="1341.83" y="225.36" width="26.38" height="26.32" fill="#f1ba37"/>
<rect x="1367.61" y="225.36" width="13.49" height="26.32" fill="#febe3c"/>
<rect x="916.5" y="199.65" width="13.49" height="26.31" fill="#2995ec"/>
<rect x="929.39" y="199.65" width="26.38" height="26.31" fill="#249ee6"/>
<rect x="955.17" y="199.65" width="26.38" height="26.31" fill="#1fa6e1"/>
<rect x="980.94" y="199.65" width="26.38" height="26.31" fill="#17aeda"/>
<rect x="1006.72" y="199.65" width="26.38" height="26.31" fill="#07b5d0"/>
<rect x="1032.5" y="199.65" width="26.38" height="26.31" fill="#02bac4"/>
<rect x="1058.28" y="199.65" width="26.38" height="26.31" fill="#16bfb7"/>
<rect x="1084.06" y="199.65" width="26.38" height="26.31" fill="#29c3aa"/>
<rect x="1109.83" y="199.65" width="26.38" height="26.31" fill="#34c79b"/>
<rect x="1135.61" y="199.65" width="26.38" height="26.31" fill="#44ca8a"/>
<rect x="1161.39" y="199.65" width="26.38" height="26.31" fill="#5bcc77"/>
<rect x="1187.17" y="199.65" width="26.38" height="26.31" fill="#74cc62"/>
<rect x="1212.94" y="199.65" width="26.38" height="26.31" fill="#90ca4d"/>
<rect x="1238.72" y="199.65" width="26.38" height="26.31" fill="#abc739"/>
<rect x="1264.5" y="199.65" width="26.38" height="26.31" fill="#c3c22b"/>
<rect x="1290.28" y="199.65" width="26.38" height="26.31" fill="#d9bd28"/>
<rect x="1316.06" y="199.65" width="26.38" height="26.31" fill="#ecba32"/>
<rect x="1341.83" y="199.65" width="26.38" height="26.31" fill="#fbbc3d"/>
<rect x="1367.61" y="199.65" width="13.49" height="26.31" fill="#fec636"/>
<rect x="916.5" y="173.93" width="13.49" height="26.31" fill="#269ae8"/>
<rect x="929.39" y="173.93" width="26.38" height="26.31" fill="#21a3e3"/>
<rect x="955.17" y="173.93" width="26.38" height="26.31" fill="#1babde"/>
<rect x="980.94" y="173.93" width="26.38" height="26.31" fill="#0eb2d4"/>
<rect x="1006.72" y="173.93" width="26.38" height="26.31" fill="#01b8c9"/>
<rect x="1032.5" y="173.93" width="26.38" height="26.31" fill="#0cbdbc"/>
<rect x="1058.28" y="173.93" width="26.38" height="26.31" fill="#23c1af"/>
<rect x="1084.06" y="173.93" width="26.38" height="26.31" fill="#30c5a1"/>
<rect x="1109.83" y="173.93" width="26.38" height="26.31" fill="#3dc991"/>
<rect x="1135.61" y="173.93" width="26.38" height="26.31" fill="#51cc7e"/>
<rect x="1161.39" y="173.93" width="26.38" height="26.31" fill="#6acd6a"/>
<rect x="1187.17" y="173.93" width="26.38" height="26.31" fill="#86cb55"/>
<rect x="1212.94" y="173.93" width="26.38" height="26.31" fill="#a1c840"/>
<rect x="1238.72" y="173.93" width="26.38" height="26.31" fill="#bac430"/>
<rect x="1264.5" y="173.93" width="26.38" height="26.31" fill="#d2bf27"/>
<rect x="1290.28" y="173.93" width="26.38" height="26.31" fill="#e6bb2d"/>
<rect x="1316.06" y="173.93" width="26.38" height="26.31" fill="#f7ba3c"/>
<rect x="1341.83" y="173.93" width="26.38" height="26.31" fill="#fec239"/>
<rect x="1367.61" y="173.93" width="13.49" height="26.31" fill="#fdcd31"/>
<rect x="916.5" y="148.22" width="13.49" height="26.32" fill="#249fe6"/>
<rect x="929.39" y="148.22" width="26.38" height="26.32" fill="#1ea7e1"/>
<rect x="955.17" y="148.22" width="26.38" height="26.32" fill="#15afd9"/>
<rect x="980.94" y="148.22" width="26.38" height="26.32" fill="#05b6ce"/>
<rect x="1006.72" y="148.22" width="26.38" height="26.32" fill="#04bbc2"/>
<rect x="1032.5" y="148.22" width="26.38" height="26.32" fill="#1ac0b5"/>
<rect x="1058.28" y="148.22" width="26.38" height="26.32" fill="#2cc4a7"/>
<rect x="1084.06" y="148.22" width="26.38" height="26.32" fill="#37c898"/>
<rect x="1109.83" y="148.22" width="26.38" height="26.32" fill="#48cb86"/>
<rect x="1135.61" y="148.22" width="26.38" height="26.32" fill="#60cd73"/>
<rect x="1161.39" y="148.22" width="26.38" height="26.32" fill="#7acc5d"/>
<rect x="1187.17" y="148.22" width="26.38" height="26.32" fill="#96ca48"/>
<rect x="1212.94" y="148.22" width="26.38" height="26.32" fill="#b0c636"/>
<rect x="1238.72" y="148.22" width="26.38" height="26.32" fill="#c9c129"/>
<rect x="1264.5" y="148.22" width="26.38" height="26.32" fill="#debc2a"/>
<rect x="1290.28" y="148.22" width="26.38" height="26.32" fill="#f0ba36"/>
<rect x="1316.06" y="148.22" width="26.38" height="26.32" fill="#febe3c"/>
<rect x="1341.83" y="148.22" width="26.38" height="26.32" fill="#fec934"/>
<rect x="1367.61" y="148.22" width="13.49" height="26.32" fill="#fad52e"/>
<rect x="916.5" y="122.5" width="13.49" height="26.31" fill="#21a3e3"/>
<rect x="929.39" y="122.5" width="26.38" height="26.31" fill="#1aacdd"/>
<rect x="955.17" y="122.5" width="26.38" height="26.31" fill="#0db3d3"/>
<rect x="980.94" y="122.5" width="26.38" height="26.31" fill="#01b9c8"/>
<rect x="1006.72" y="122.5" width="26.38" height="26.31" fill="#0ebebb"/>
<rect x="1032.5" y="122.5" width="26.38" height="26.31" fill="#25c2ad"/>
<rect x="1058.28" y="122.5" width="26.38" height="26.31" fill="#32c69f"/>
<rect x="1084.06" y="122.5" width="26.38" height="26.31" fill="#3fca8e"/>
<rect x="1109.83" y="122.5" width="26.38" height="26.31" fill="#55cc7c"/>
<rect x="1135.61" y="122.5" width="26.38" height="26.31" fill="#6ecd67"/>
<rect x="1161.39" y="122.5" width="26.38" height="26.31" fill="#8acb51"/>
<rect x="1187.17" y="122.5" width="26.38" height="26.31" fill="#a5c83d"/>
<rect x="1212.94" y="122.5" width="26.38" height="26.31" fill="#bfc32d"/>
<rect x="1238.72" y="122.5" width="26.38" height="26.31" fill="#d6be28"/>
<rect x="1264.5" y="122.5" width="26.38" height="26.31" fill="#e9bb30"/>
<rect x="1290.28" y="122.5" width="26.38" height="26.31" fill="#f9bb3d"/>
<rect x="1316.06" y="122.5" width="26.38" height="26.31" fill="#fec437"/>
<rect x="1341.83" y="122.5" width="26.38" height="26.31" fill="#fcd030"/>
<rect x="1367.61" y="122.5" width="13.49" height="26.31" fill="#f7dc2a"/>
<rect x="916.5" y="96.79" width="13.49" height="26.31" fill="#1ea7e1"/>
<rect x="929.39" y="96.79" width="26.38" height="26.31" fill="#15afd9"/>
<rect x="955.17" y="96.79" width="26.38" height="26.31" fill="#05b6cd"/>
<rect x="980.94" y="96.79" width="26.38" height="26.31" fill="#05bbc1"/>
<rect x="1006.72" y="96.79" width="26.38" height="26.31" fill="#1bc0b4"/>
<rect x="1032.5" y="96.79" width="26.38" height="26.31" fill="#2dc4a6"/>
<rect x="1058.28" y="96.79" width="26.38" height="26.31" fill="#38c896"/>
<rect x="1084.06" y="96.79" width="26.38" height="26.31" fill="#4acb84"/>
<rect x="1109.83" y="96.79" width="26.38" height="26.31" fill="#63cd70"/>
<rect x="1135.61" y="96.79" width="26.38" height="26.31" fill="#7ecc5b"/>
<rect x="1161.39" y="96.79" width="26.38" height="26.31" fill="#9ac945"/>
<rect x="1187.17" y="96.79" width="26.38" height="26.31" fill="#b4c533"/>
<rect x="1212.94" y="96.79" width="26.38" height="26.31" fill="#cdc028"/>
<rect x="1238.72" y="96.79" width="26.38" height="26.31" fill="#e2bc2b"/>
<rect x="1264.5" y="96.79" width="26.38" height="26.31" fill="#f4ba39"/>
<rect x="1290.28" y="96.79" width="26.38" height="26.31" fill="#fec03b"/>
<rect x="1316.06" y="96.79" width="26.38" height="26.31" fill="#fdcb32"/>
<rect x="1341.83" y="96.79" width="26.38" height="26.31" fill="#f9d82c"/>
<rect x="1367.61" y="96.79" width="13.49" height="26.31" fill="#f5e427"/>
<rect x="916.5" y="71.07" width="13.49" height="26.32" fill="#1aacdd"/>
<rect x="929.39" y="71.07" width="26.38" height="26.32" fill="#0cb3d3"/>
<rect x="955.17" y="71.07" width="26.38" height="26.32" fill="#01b9c7"/>
<rect x="980.94" y="71.07" width="26.38" height="26.32" fill="#10beba"/>
<rect x="1006.72" y="71.07" width="26.38" height="26.32" fill="#26c2ac"/>
<rect x="1032.5" y="71.07" width="26.38" height="26.32" fill="#33c69e"/>
<rect x="1058.28" y="71.07" width="26.38" height="26.32" fill="#41ca8c"/>
<rect x="1084.06" y="71.07" width="26.38" height="26.32" fill="#58cc79"/>
<rect x="1109.83" y="71.07" width="26.38" height="26.32" fill="#72cd63"/>
<rect x="1135.61" y="71.07" width="26.38" height="26.32" fill="#8fcb4e"/>
<rect x="1161.39" y="71.07" width="26.38" height="26.32" fill="#aac73a"/>
<rect x="1187.17" y="71.07" width="26.38" height="26.32" fill="#c3c22b"/>
<rect x="1212.94" y="71.07" width="26.38" height="26.32" fill="#dabd28"/>
<rect x="1238.72" y="71.07" width="26.38" height="26.32" fill="#edba33"/>
<rect x="1264.5" y="71.07" width="26.38" height="26.32" fill="#fcbc3d"/>
<rect x="1290.28" y="71.07" width="26.38" height="26.32" fill="#fec735"/>
<rect x="1316.06" y="71.07" width="26.38" height="26.32" fill="#fbd32e"/>
<rect x="1341.83" y="71.07" width="26.38" height="26.32" fill="#f6e028"/>
<rect x="1367.61" y="71.07" width="13.49" height="26.32" fill="#f5ec22"/>
<rect x="916.5" y="45.36" width="13.49" height="26.31" fill="#14b0d8"/>
<rect x="929.39" y="45.36" width="26.38" height="26.31" fill="#04b6cc"/>
<rect x="955.17" y="45.36" width="26.38" height="26.31" fill="#07bcc0"/>
<rect x="980.94" y="45.36" width="26.38" height="26.31" fill="#1ec0b2"/>
<rect x="1006.72" y="45.36" width="26.38" height="26.31" fill="#2ec5a4"/>
<rect x="1032.5" y="45.36" width="26.38" height="26.31" fill="#3ac993"/>
<rect x="1058.28" y="45.36" width="26.38" height="26.31" fill="#4fcc81"/>
<rect x="1084.06" y="45.36" width="26.38" height="26.31" fill="#68cd6c"/>
<rect x="1109.83" y="45.36" width="26.38" height="26.31" fill="#84cb56"/>
<rect x="1135.61" y="45.36" width="26.38" height="26.31" fill="#a0c841"/>
<rect x="1161.39" y="45.36" width="26.38" height="26.31" fill="#bbc430"/>
<rect x="1187.17" y="45.36" width="26.38" height="26.31" fill="#d2bf27"/>
<rect x="1212.94" y="45.36" width="26.38" height="26.31" fill="#e7bb2e"/>
<rect x="1238.72" y="45.36" width="26.38" height="26.31" fill="#f8ba3d"/>
<rect x="1264.5" y="45.36" width="26.38" height="26.31" fill="#fec338"/>
<rect x="1290.28" y="45.36" width="26.38" height="26.31" fill="#fccf30"/>
<rect x="1316.06" y="45.36" width="26.38" height="26.31" fill="#f7dc2a"/>
<rect x="1341.83" y="45.36" width="26.38" height="26.31" fill="#f5e825"/>
<rect x="1367.61" y="45.36" width="13.49" height="26.31" fill="#f7f41c"/>
<rect x="916.5" y="32.5" width="13.49" height="13.46" fill="#08b4d0"/>
<rect x="929.39" y="32.5" width="26.38" height="13.46" fill="#02bac4"/>
<rect x="955.17" y="32.5" width="26.38" height="13.46" fill="#17bfb6"/>
<rect x="980.94" y="32.5" width="26.38" height="13.46" fill="#2ac3a8"/>
<rect x="1006.72" y="32.5" width="26.38" height="13.46" fill="#36c899"/>
<rect x="1032.5" y="32.5" width="26.38" height="13.46" fill="#47cb87"/>
<rect x="1058.28" y="32.5" width="26.38" height="13.46" fill="#60cd72"/>
<rect x="1084.06" y="32.5" width="26.38" height="13.46" fill="#7ccc5c"/>
<rect x="1109.83" y="32.5" width="26.38" height="13.46" fill="#98c947"/>
<rect x="1135.61" y="32.5" width="26.38" height="13.46" fill="#b3c534"/>
<rect x="1161.39" y="32.5" width="26.38" height="13.46" fill="#ccc028"/>
<rect x="1187.17" y="32.5" width="26.38" height="13.46" fill="#e1bc2b"/>
<rect x="1212.94" y="32.5" width="26.38" height="13.46" fill="#f4ba39"/>
<rect x="1238.72" y="32.5" width="26.38" height="13.46" fill="#fec03a"/>
<rect x="1264.5" y="32.5" width="26.38" height="13.46" fill="#fdcc32"/>
<rect x="1290.28" y="32.5" width="26.38" height="13.46" fill="#f8d82c"/>
<rect x="1316.06" y="32.5" width="26.38" height="13.46" fill="#f5e526"/>
<rect x="1341.83" y="32.5" width="26.38" height="13.46" fill="#f6f11f"/>
<rect x="1367.61" y="32.5" width="13.49" height="13.46" fill="#f9fb15"/>
</g>
<path d="M916.5 502.83 919.57 504.59 922.64 506.36 925.71 508.13 928.78 509.9 931.84 511.67 934.91 513.44 937.98 515.21 941.05 516.98 944.18 518.61 947.35 520.16 949.25 521.08M916.5 357.38 918.88 360 921.27 362.61 923.65 365.23 926.04 367.82 928.42 370.38 930.81 372.95 933.2 375.51 935.59 378.07 937.98 380.64 939.41 382.18M965.54 408.36 968.06 410.83 970.79 413.3 973.52 415.76 976.25 418.22 978.92 420.5 981.58 422.77 984.24 425.04 986.91 427.32 989.57 429.59 992.24 431.86 994.98 434.08 997.85 436.22 1000.73 438.37 1003.6 440.51 1006.47 442.65 1009.39 444.76 1012.4 446.8 1015.4 448.84 1018.41 450.89 1021.45 452.75 1024.52 454.49 1027.59 456.24 1030.66 457.98 1033.73 459.72 1036.8 461.46 1039.87 463.21 1042.93 464.95 1046.07 466.67 1048.78 468 1051.49 469.32 1054.79 470.75 1058.07 472.12 1061.34 473.49 1064.62 474.86 1067.89 476.23 1071.17 477.6 1074.56 478.75 1077.95 479.89 1081.34 481.04 1084.73 482.19 1088.13 483.33 1091.52 484.48 1094.91 485.63 1098.3 486.68 1101.69 487.6 1105.08 488.52 1108.48 489.44 1111.87 490.36 1115.26 491.28 1118.65 492.2 1122.04 493.12 1125.63 493.99 1129.27 494.85 1132.88 495.64 1136.43 496.33 1139.98 497.02 1143.53 497.7 1144.95 497.98M1186.82 504.65 1190.3 505.13 1193.79 505.61 1197.27 506.09 1200.75 506.56 1204.24 506.97 1207.72 507.38 1211.2 507.79 1214.69 508.2 1218.17 508.62 1221.65 509.03 1225.14 509.44 1228.62 509.8 1232.1 510.16 1235.59 510.51 1239.07 510.86 1242.55 511.22 1246.04 511.57 1249.52 511.93 1253.04 512.27 1256.62 512.58 1260.2 512.9 1263.78 513.22 1267.36 513.54 1270.94 513.85 1274.52 514.17 1278.1 514.48 1281.69 514.76 1285.27 515.04 1288.85 515.32 1292.43 515.6 1296.01 515.88 1299.59 516.16 1303.17 516.44 1306.75 516.68 1310.33 516.93 1313.91 517.18 1317.49 517.43 1321.07 517.68 1324.65 517.92 1328.23 518.17 1331.81 518.4 1335.39 518.62 1338.97 518.84 1342.55 519.06 1346.13 519.29 1349.71 519.51 1353.29 519.73 1356.84 519.94 1360.36 520.14 1363.89 520.33 1367.42 520.53 1370.94 520.73 1374.47 520.93 1377.29 521.08M916.5 248.35 918.58 251.24 920.67 254.13 922.75 257.01 924.83 259.9 926.91 262.78 929.07 265.62 931.27 268.43 933.47 271.23 935.67 274.04 937.87 276.84 940.08 279.65 942.28 282.46 944.46 285.22 944.89 285.78M966.68 311.71 968.64 314 970.78 316.41 973.2 319.04 975.62 321.66 978.04 324.29 980.47 326.91 982.89 329.53 985.31 332.16 987.73 334.78 990.15 337.41 992.57 340.03 994.84 342.37 997.37 344.85 999.9 347.34 1002.43 349.82 1004.95 352.3 1007.48 354.79 1010.01 357.27 1012.53 359.75 1015.06 362.24 1017.59 364.72 1020.24 367.26 1022.91 369.59 1025.59 371.91 1028.27 374.24 1030.94 376.56 1033.62 378.89 1036.29 381.22 1038.97 383.54 1041.64 385.87 1044.32 388.19 1047.16 390.58 1049.51 392.51 1052.36 394.62 1055.21 396.72 1058.06 398.83 1060.91 400.94 1063.76 403.04 1066.61 405.15 1069.46 407.25 1072.36 409.33 1075.35 411.35 1078.34 413.37 1081.33 415.39 1084.31 417.42 1087.32 419.3 1090.32 421.09 1093.33 422.89 1096.34 424.68 1099.46 426.39 1102.6 428.07 1105.75 429.75 1108.89 431.44 1112.03 433.12 1115.18 434.8 1118.32 436.49 1120.21 437.5M1160.4 454.56 1163.7 455.76 1167.01 456.96 1170.31 458.17 1173.62 459.37 1176.99 460.47 1180.38 461.53 1183.77 462.6 1187.17 463.67 1190.56 464.74 1193.95 465.8 1197.34 466.87 1200.8 467.94 1203.78 468.8 1206.75 469.65 1210.16 470.47 1213.57 471.28 1216.97 472.1 1220.38 472.91 1223.79 473.73 1227.23 474.51 1230.71 475.25 1234.19 475.99 1237.68 476.72 1241.16 477.46 1244.64 478.2 1248.13 478.93 1251.61 479.67 1255.09 480.32 1258.58 480.96 1262.06 481.61 1265.55 482.25 1269.03 482.9 1272.51 483.55 1276 484.19 1279.48 484.79 1282.96 485.36 1286.45 485.93 1289.93 486.5 1293.41 487.07 1296.9 487.64 1300.38 488.21 1303.86 488.77 1307.35 489.28 1310.83 489.79 1314.31 490.29 1317.8 490.8 1321.28 491.31 1324.76 491.82 1328.25 492.32 1331.75 492.79 1335.25 493.25 1338.75 493.71 1342.25 494.17 1345.75 494.63 1349.25 495.09 1353.04 495.55 1356.12 495.88 1359.6 496.24 1363.08 496.6 1366.57 496.95 1370.05 497.31 1373.53 497.67 1377.02 498.03 1380.5 498.38M916.5 94.12 918.15 97.35 919.8 100.59 921.45 103.82 923.1 107.06 924.74 110.27 926.29 113.41 927.85 116.54 929.4 119.68 930.96 122.82M944.22 149.12 945.83 152.27 947.45 155.41 949.07 158.56 950.71 161.7 952.43 164.84 954.15 167.97 955.88 171.11 957.6 174.25 959.33 177.38 961.05 180.52 962.78 183.65 964.5 186.79 966.08 189.42 967.66 192.06 969.54 195.19 971.4 198.28 973.26 201.37 975.12 204.46 976.98 207.56 978.84 210.65 980.75 213.7 982.73 216.7 984.72 219.69 986.7 222.69 988.68 225.68 990.66 228.68 992.64 231.67 994.62 234.66 996.59 237.63 998.65 240.51 1000.73 243.36 1002.81 246.22 1004.89 249.08 1006.97 251.93 1009.06 254.79 1011.14 257.65 1013.22 260.51 1015.3 263.36 1017.18 265.76 1019.12 268.2 1021.37 271 1023.58 273.74 1025.78 276.48 1027.98 279.23 1030.19 281.97 1032.39 284.71 1034.59 287.46 1036.83 290.19 1039.21 292.88 1041.59 295.58 1043.96 298.27 1046.34 300.95 1048.72 303.62 1051.1 306.29 1053.49 308.96 1055.87 311.63 1058.25 314.3 1060.7 316.88 1063.19 319.41 1065.68 321.94 1068.18 324.47 1070.67 327 1073.19 329.52 1075.72 332.03 1077.24 333.54M1106.19 359.8 1108.91 362.13 1111.62 364.46 1114.34 366.79 1117.14 368.91 1119.93 371.03 1122.72 373.15 1125.59 375.2 1128.45 377.26 1131.31 379.31 1134.18 381.36 1137.04 383.42 1139.91 385.47 1142.77 387.52 1145.64 389.58 1148.5 391.63 1151.62 393.59 1154.68 395.4 1157.75 397.21 1160.81 399.01 1163.87 400.82 1166.93 402.62 1169.99 404.43 1173.05 406.23 1176.18 407.98 1179.35 409.69 1182.51 411.4 1185.68 413.1 1188.85 414.81 1192.01 416.52 1195.18 418.22 1197.97 419.5 1201.34 421 1204.57 422.37 1207.79 423.75 1211.01 425.12 1214.23 426.5 1217.46 427.87 1220.68 429.24 1223.9 430.62 1227.16 431.95 1230.46 433.21 1233.76 434.47 1237.07 435.73 1240.37 436.99 1243.68 438.25 1246.98 439.51 1250.29 440.77 1253.65 442 1257.05 443.21 1260.45 444.34 1263.83 445.34 1267.22 446.34 1270.61 447.34 1274 448.34 1277.39 449.33 1278.07 449.52M1319.89 460.26 1323.37 461.09 1326.85 461.93 1330.34 462.74 1333.82 463.49 1337.3 464.25 1340.79 465.01 1344.27 465.76 1347.76 466.52 1351.24 467.28 1354.72 468.03 1358.35 468.77 1361.98 469.51 1365.55 470.13 1369.11 470.73 1372.67 471.32 1376.23 471.92 1379.79 472.51 1380.5 472.63M963.23 32.5 965.24 35.49 967.25 38.49 969.27 41.48 971.28 44.47 972.49 46.26M988.81 72.29 990.6 75.35 992.4 78.41 994.2 81.47 995.99 84.56 997.68 87.69 999.38 90.83 1001.07 93.97 1002.77 97.1 1004.46 100.24 1006.16 103.37 1007.85 106.51 1009.55 109.64 1011.22 112.84 1012.9 116.04 1014.58 119.23 1016.26 122.43 1017.93 125.63 1019.61 128.82 1021.34 132.09 1023.07 135.36 1024.75 138.5 1026.43 141.63 1028.11 144.77 1029.79 147.9 1031.48 151.04 1033.16 154.18 1034.84 157.31 1036.52 160.45 1038.28 163.59 1040.06 166.74 1041.83 169.88 1043.61 173.03 1045.39 176.18 1047.16 179.3 1048.93 182.42 1050.7 185.54 1052.51 188.58 1054.33 191.57 1056.16 194.56 1057.99 197.55 1059.81 200.54 1061.64 203.53 1063.47 206.52 1065.29 209.51 1067.12 212.5 1069.14 215.54 1071.17 218.57 1073.16 221.55 1075.15 224.52 1077.14 227.5 1079.13 230.48 1081.12 233.46 1083.11 236.43 1085.15 239.36 1087.25 242.22 1089.36 245.08 1091.47 247.94 1093.57 250.79 1095.68 253.65 1097.79 256.51 1099.9 259.36 1102.01 262.22 1104.18 265.03 1106.44 267.78 1108.71 270.53 1110.97 273.28 1112.77 275.48M1133.53 299.42 1135.92 301.99 1138.31 304.56 1140.71 307.14 1143.1 309.71 1145.49 312.28 1147.88 314.85 1150.05 316.94 1152.62 319.34 1155.2 321.74 1157.78 324.14 1160.36 326.54 1162.94 328.94 1165.51 331.35 1168.09 333.75 1170.67 336.15 1173.25 338.55 1176 341.08 1178.8 343.28 1181.6 345.48 1184.39 347.69 1187.19 349.89 1189.99 352.09 1192.78 354.29 1195.58 356.5 1198.38 358.7 1201.17 360.87 1203.97 362.98 1206.76 365.1 1209.6 367.18 1212.6 369.12 1215.61 371.07 1218.62 373.01 1221.62 374.95 1224.63 376.89 1227.66 378.78 1230.72 380.64 1233.77 382.49 1236.82 384.35 1239.87 386.2 1242.92 388.06 1245.97 389.91 1249.02 391.77 1252.26 393.52 1255.48 395.1 1258.7 396.67 1261.92 398.24 1265.14 399.81 1268.37 401.38 1271.59 402.96 1274.81 404.53 1278.03 406.07 1281.26 407.52 1284.48 408.96 1287.7 410.4 1290.92 411.84 1294.14 413.29 1297.37 414.73 1300.59 416.17 1303.87 417.62 1305.27 418.22M1336.41 428.96 1339.8 430.06 1343.19 431.15 1346.58 432.25 1349.97 433.34 1353.37 434.43 1356.76 435.47 1360.15 436.47 1363.54 437.47 1366.93 438.48 1370.32 439.48 1373.72 440.48 1377.11 441.48 1380.5 442.48M1046.18 32.5 1048.2 35.42 1050.22 38.34 1052.24 41.27 1054.25 44.19 1056.27 47.11 1058.29 50.03 1060.31 52.96 1062.32 55.88 1064.32 58.84 1064.7 59.46M1080.76 85.77 1082.5 88.83 1084.25 91.89 1085.99 94.95 1087.74 98.01 1089.48 101.07 1091.23 104.13 1092.97 107.2 1094.74 110.31 1096.21 112.99 1097.97 116.19 1099.68 119.28 1101.39 122.37 1103.11 125.47 1104.82 128.56 1106.53 131.65 1108.24 134.74 1109.96 137.83 1111.69 140.92 1113.41 144.02 1115.14 147.11 1116.86 150.2 1118.58 153.29 1120.31 156.38 1122.03 159.47 1123.64 162.3 1125.42 165.36 1127.19 168.42 1128.97 171.48 1130.75 174.54 1132.52 177.61 1134.3 180.67 1136.08 183.73 1137.86 186.79 1139.76 189.86 1141.66 192.92 1143.56 195.99 1145.46 199.06 1147.36 202.12 1149.26 205.18 1151.15 208.23 1153.05 211.28 1154.99 214.26 1156.96 217.18 1158.94 220.1 1160.91 223.02 1162.89 225.95 1164.86 228.87 1166.83 231.79 1168.81 234.71 1170.78 237.64 1172.95 240.59 1175.13 243.5 1177.25 246.34 1179.38 249.18 1181.51 252.02 1183.63 254.85 1185.76 257.69 1187.89 260.53 1190.01 263.37 1192.27 266.11 1194.56 268.83 1196.85 271.55 1199.14 274.26 1201.46 277 1203.79 279.75 1206.12 282.5 1208.45 285.25 1208.92 285.8M1231.81 309.8 1234.29 312.33 1236.78 314.86 1239.4 317.22 1242.06 319.54 1244.71 321.87 1247.36 324.19 1250.02 326.51 1252.71 328.84 1255.47 331.2 1258.23 333.55 1260.98 335.9 1263.74 338.26 1266.5 340.61 1269.35 342.74 1272.22 344.82 1275.09 346.89 1277.97 348.96 1280.9 350.99 1283.83 353.03 1286.76 355.06 1289.69 357.1 1292.62 359.13 1295.55 361.17 1298.48 363.2 1301.41 365.24 1304.28 367.14 1307.36 368.87 1310.45 370.59 1313.53 372.32 1316.61 374.05 1319.7 375.77 1322.78 377.5 1325.86 379.23 1328.94 380.96 1332.08 382.61 1335.21 384.26 1338.35 385.91 1341.48 387.56 1344.62 389.21 1347.75 390.86 1350.89 392.51 1353.96 393.84 1357.37 395.26 1360.67 396.63 1363.98 398 1367.28 399.37 1370.59 400.74 1373.89 402.11 1377.2 403.47 1380.5 404.84M1128.98 32.5 1131.04 35.42 1133.11 38.34 1135.17 41.27 1137.23 44.19 1139.3 47.11 1141.36 50.03 1142.18 51.2M1159.3 77.28 1161.23 80.31 1163.15 83.33 1165.02 86.42 1166.87 89.53 1168.72 92.64 1170.57 95.74 1172.43 98.85 1174.28 101.96 1176.2 105.16 1178.12 108.36 1179.95 111.48 1181.71 114.54 1183.48 117.6 1185.25 120.67 1187.02 123.73 1188.78 126.79 1190.55 129.85 1192.32 132.91 1194.09 135.97 1195.84 139.02 1197.6 142.07 1199.35 145.13 1201.12 148.19 1202.89 151.26 1204.67 154.33 1206.44 157.39 1208.22 160.46 1210.03 163.52 1211.84 166.59 1213.66 169.65 1215.48 172.71 1217.3 175.77 1219.12 178.83 1220.94 181.89 1222.76 184.95 1224.64 188.05 1226.58 191.14 1228.45 194.1 1230.31 197.07 1232.18 200.04 1234.05 203.01 1235.92 205.98 1237.78 208.94 1239.65 211.91 1241.62 214.84 1243.62 217.77 1245.62 220.69 1247.62 223.62 1249.61 226.54 1251.61 229.46 1253.61 232.38 1255.61 235.3 1257.61 238.22 1259.74 241.02 1261.87 243.81 1264 246.61 1266.13 249.4 1268.26 252.2 1270.39 254.99 1272.52 257.79 1274.65 260.58 1276.78 263.38 1278.78 265.74 1281.09 268.4 1283.41 271.06 1284.8 272.65M1308.74 298.59 1311.27 301.06 1313.81 303.52 1316.34 305.99 1318.87 308.46 1321.41 310.92 1323.94 313.39 1326.56 315.85 1328.94 317.81 1331.69 320.02 1334.43 322.22 1337.17 324.42 1339.91 326.63 1342.66 328.83 1345.4 331.03 1348.14 333.24 1350.88 335.44 1353.63 337.65 1356.02 339.55 1358.57 341.46 1361.53 343.39 1364.49 345.31 1367.46 347.23 1370.42 349.15 1373.39 351.08 1376.35 353 1379.31 354.92 1380.5 355.69M1211.62 32.5 1213.71 35.4 1215.8 38.31 1217.89 41.21 1219.98 44.11 1222.07 47.02 1224.16 49.92 1226.27 52.84 1228.42 55.83 1230.54 58.8 1230.92 59.38M1248.25 85.74 1250.12 88.76 1251.98 91.77 1253.84 94.75 1255.69 97.73 1257.54 100.71 1259.4 103.69 1261.25 106.67 1263.11 109.64 1264.94 112.7 1266.77 115.76 1268.6 118.81 1270.43 121.87 1272.26 124.92 1274.09 127.98 1275.92 131.03 1277.77 134.1 1279.62 137.2 1281.43 140.26 1283.25 143.32 1285.07 146.38 1286.89 149.44 1288.71 152.5 1290.53 155.56 1292.35 158.63 1294.17 161.69 1296.05 164.79 1297.92 167.88 1299.79 170.97 1301.67 174.07 1303.53 177.15 1305.36 180.16 1307.19 183.17 1309.02 186.19 1310.92 189.18 1312.82 192.17 1314.73 195.16 1316.64 198.15 1318.54 201.14 1320.45 204.13 1322.36 207.12 1324.26 210.11 1326.24 213.16 1328.04 215.77 1329.76 218.24 1331.79 221.18 1333.83 224.12 1335.86 227.06 1337.9 229.99 1339.93 232.93 1341.97 235.87 1344.04 238.79 1346.27 241.66 1348.49 244.54 1350.72 247.41 1352.94 250.28 1355.16 253.14 1357.38 255.98 1359.59 258.82 1361.8 261.66 1364.04 264.46 1366.39 267.08 1368.74 269.7 1371.09 272.32 1373.45 274.94 1375.8 277.56 1378.15 280.17 1380.5 282.79M1294.11 32.5 1296.27 35.44 1298.42 38.38 1300.58 41.33 1302.74 44.27 1304.87 47.18 1306.58 49.5M1324.56 75.21 1326.55 78.14 1328.55 81.07 1330.5 83.93 1332.43 86.92 1334.35 89.91 1336.27 92.9 1338.19 95.89 1340.12 98.88 1342.04 101.87 1343.96 104.86 1345.88 107.85 1347.81 110.89 1349.73 114 1351.65 117.11 1353.57 120.23 1355.47 123.3 1357.34 126.32 1359.21 129.33 1361.08 132.35 1362.95 135.36 1364.77 138.35 1366.6 141.34 1368.42 144.33 1370.24 147.32 1372.06 150.31 1373.89 153.3 1375.71 156.29 1377.53 159.28 1379.37 162.29 1380.5 164.12M1376.45 32.5 1378.25 34.92 1380.05 37.33 1380.5 37.94" stroke="#fff" stroke-opacity="0.95" stroke-width="1.0" fill="none" stroke-linejoin="round"/>
<text transform="translate(968.71,66.04)" font-size="19.6" fill="#fff">−9</text>
<text transform="translate(1062.57,79.74)" font-size="19.6" fill="#fff">−8</text>
<text transform="translate(924.88,142.84)" font-size="19.6" fill="#fff">−10</text>
<text transform="translate(1140.14,71.24)" font-size="19.6" fill="#fff">−7</text>
<text transform="translate(1227.48,79.14)" font-size="19.6" fill="#fff">−6</text>
<text transform="translate(1302.86,69.14)" font-size="19.6" fill="#fff">−5</text>
<text transform="translate(934.7,305.44)" font-size="19.6" fill="#fff">−11</text>
<text transform="translate(1106.81,295.44)" font-size="19.6" fill="#fff">−9</text>
<text transform="translate(1068.68,353.44)" font-size="19.6" fill="#fff">−10</text>
<text transform="translate(1205.07,305.64)" font-size="19.6" fill="#fff">−8</text>
<text transform="translate(1282.14,292.54)" font-size="19.6" fill="#fff">−7</text>
<text transform="translate(937.79,402.04)" font-size="19.6" fill="#fff">−12</text>
<text transform="translate(1124.4,454.94)" font-size="19.6" fill="#fff">−11</text>
<text transform="translate(1149.39,508.34)" font-size="19.6" fill="#fff">−12</text>
<text transform="translate(1282.38,462.44)" font-size="19.6" fill="#fff">−10</text>
<text transform="translate(1309.81,432.64)" font-size="19.6" fill="#fff">−9</text>
<ellipse cx="1019.3" cy="239" rx="5.3" ry="5.9" fill="none" stroke="#00ffff" stroke-width="2.8"/>
<ellipse cx="1224.9" cy="239" rx="5.3" ry="5.9" fill="none" stroke="#ff0000" stroke-width="2.8"/>
<ellipse cx="1019.3" cy="495.6" rx="5.3" ry="5.9" fill="none" stroke="#ff8000" stroke-width="2.8"/>
<ellipse cx="1225.1" cy="495.6" rx="5.3" ry="5.9" fill="none" stroke="#ff00ff" stroke-width="2.8"/>
<rect x="916.5" y="32.5" width="464" height="514.3" fill="none" stroke="#1a1a1a" stroke-width="1.2"/>
<path d="M916.5 546.8h5M916.5 443.94h5M916.5 341.08h5M916.5 238.22h5M916.5 135.36h5M916.5 32.5h5M968.06 546.8v-5M1071.17 546.8v-5M1174.28 546.8v-5M1277.39 546.8v-5M1380.5 546.8v-5" stroke="#1a1a1a" stroke-width="1.2" fill="none"/>
<text transform="translate(891.69,554.97) scale(1.1500,1)" font-size="23.4">0</text>
<text transform="translate(866.34,452.11) scale(1.0300,1)" font-size="23.4">100</text>
<text transform="translate(864.05,349.25) scale(1.0900,1)" font-size="23.4">200</text>
<text transform="translate(861.76,246.39) scale(1.1500,1)" font-size="23.4">300</text>
<text transform="translate(861.76,143.53) scale(1.1500,1)" font-size="23.4">400</text>
<text transform="translate(861.76,40.67) scale(1.1500,1)" font-size="23.4">500</text>
<text transform="translate(943.75,574.8) scale(1.1400,1)" font-size="23.4">0.02</text>
<text transform="translate(1046.58,574.8) scale(1.1400,1)" font-size="23.4">0.04</text>
<text transform="translate(1149.89,574.8) scale(1.1400,1)" font-size="23.4">0.06</text>
<text transform="translate(1252.99,574.8) scale(1.1400,1)" font-size="23.4">0.08</text>
<text transform="translate(1358.09,574.8) scale(1.0500,1)" font-size="23.4">0.10</text>
<text transform="translate(840,398.42) rotate(-90) scale(1.0112,1)" font-size="28.2">Ice thickness (m)</text>
<text transform="translate(964.97,615.8) scale(1.0118,1)" font-size="28.2">Geothermal heat flux (W m</text>
<text transform="translate(1306.68,603) scale(0.9339,1)" font-size="18">−2</text>
<text transform="translate(1326.33,615.8) scale(0.9902,1)" font-size="28.2">)</text>
<rect x="1406.8" y="32.5" width="28.6" height="514.3" fill="url(#par)" stroke="#222" stroke-width="1"/>
<text transform="translate(1448.59,40.85) scale(0.9700,1)" font-size="23.4">−4</text>
<text transform="translate(1448.59,92.28) scale(0.9700,1)" font-size="23.4">−5</text>
<text transform="translate(1448.59,143.83) scale(0.9700,1)" font-size="23.4">−6</text>
<text transform="translate(1448.59,195.14) scale(0.9700,1)" font-size="23.4">−7</text>
<text transform="translate(1448.59,246.69) scale(0.9700,1)" font-size="23.4">−8</text>
<text transform="translate(1448.59,298.12) scale(0.9700,1)" font-size="23.4">−9</text>
<text transform="translate(1448.65,349.55) scale(0.9150,1)" font-size="23.4">−10</text>
<text transform="translate(1448.65,400.86) scale(0.9150,1)" font-size="23.4">−11</text>
<text transform="translate(1448.65,452.41) scale(0.9150,1)" font-size="23.4">−12</text>
<text transform="translate(1448.65,503.84) scale(0.9150,1)" font-size="23.4">−13</text>
<text transform="translate(1448.65,555.15) scale(0.9150,1)" font-size="23.4">−14</text>
<path d="M1435.4 83.93h-9M1435.4 135.36h-9M1435.4 186.79h-9M1435.4 238.22h-9M1435.4 289.65h-9M1435.4 341.08h-9M1435.4 392.51h-9M1435.4 443.94h-9M1435.4 495.37h-9" stroke="#222" stroke-width="1.1" fill="none"/>
<text transform="translate(1505.9,147.01) rotate(90) scale(0.9915,1)" font-size="28.2">Basal temperature (°C)</text>
<text transform="translate(816.64,27.9) scale(1.1134,1)" font-size="37.6" font-weight="bold" stroke="#000" stroke-width="1.4" stroke-linejoin="round">b</text>
<path d="M2160.5 548.3 2160.48 544.87 2160.42 541.44 2160.33 538.02 2160.19 534.59 2160.02 531.16 2159.8 527.73 2159.55 524.3 2159.26 520.88 2158.94 517.45 2158.57 514.02 2158.16 510.59 2157.72 507.16 2157.24 503.74 2156.71 500.31 2156.15 496.88 2155.56 493.45 2154.92 490.02 2154.24 486.6 2153.53 483.17 2152.78 479.74 2151.98 476.31 2151.15 472.88 2150.28 469.46 2149.38 466.03 2148.43 462.6 2147.45 459.17 2146.42 455.74 2145.36 452.32 2144.26 448.89 2143.12 445.46 2141.94 442.03 2140.72 438.6 2139.47 435.18 2138.18 431.75 2136.84 428.32 2135.47 424.89 2134.06 421.46 2132.61 418.04 2131.13 414.61 2129.6 411.18 2128.04 407.75 2126.43 404.32 2124.79 400.9 2123.11 397.47 2121.39 394.04 2119.64 390.61 2117.84 387.18 2116.01 383.76 2114.13 380.33 2112.22 376.9 2110.27 373.47 2108.28 370.04 2106.25 366.62 2104.19 363.19 2102.08 359.76 2099.94 356.33 2097.76 352.9 2095.54 349.48 2093.28 346.05 2090.98 342.62 2088.64 339.19 2086.27 335.76 2083.85 332.34 2081.4 328.91 2078.91 325.48 2076.38 322.05 2073.81 318.62 2071.2 315.2 2068.56 311.77 2065.87 308.34 2063.15 304.91 2060.39 301.48 2057.59 298.06 2054.75 294.63 2051.87 291.2 2048.95 287.77 2046 284.34 2043.01 280.92 2039.97 277.49 2036.9 274.06 2033.8 270.63 2030.65 267.2 2027.46 263.78 2024.24 260.35 2020.97 256.92 2017.67 253.49 2014.33 250.06 2010.95 246.64 2007.53 243.21 2004.07 239.78 2000.58 236.35 1997.04 232.92 1993.47 229.5 1989.86 226.07 1986.21 222.64 1982.52 219.21 1978.8 215.78 1975.03 212.36 1971.22 208.93 1967.38 205.5 1963.5 202.07 1959.58 198.64 1955.62 195.22 1951.62 191.79 1947.59 188.36 1943.51 184.93 1939.4 181.5 1935.25 178.08 1931.06 174.65 1926.83 171.22 1922.56 167.79 1918.25 164.36 1913.91 160.94 1909.52 157.51 1905.1 154.08 1900.64 150.65 1896.14 147.22 1891.6 143.8 1887.03 140.37 1882.41 136.94 1877.76 133.51 1873.06 130.08 1868.33 126.66 1863.56 123.23 1858.75 119.8 1853.91 116.37 1849.02 112.94 1844.1 109.52 1839.13 106.09 1834.13 102.66 1829.09 99.23 1824.01 95.8 1818.89 92.38 1813.74 88.95 1808.54 85.52 1803.31 82.09 1798.04 78.66 1792.73 75.24 1787.38 71.81 1781.99 68.38 1776.56 64.95 1771.1 61.52 1765.59 58.1 1760.05 54.67 1754.47 51.24 1748.85 47.81 1743.19 44.38 1737.49 40.96 1731.76 37.53 1725.98 34.1" stroke="#808080" stroke-width="2.8" fill="none"/>
<path d="M1725.98 462.6 1740.59 464.05 1754.94 465.51 1769.05 466.96 1782.9 468.41 1796.51 469.86 1809.87 471.32 1822.97 472.77 1835.83 474.22 1848.44 475.67 1860.8 477.13 1872.9 478.58 1884.76 480.03 1896.37 481.48 1907.73 482.94 1918.84 484.39 1929.7 485.84 1940.31 487.29 1950.67 488.75 1960.78 490.2 1970.64 491.65 1980.25 493.1 1989.61 494.56 1998.73 496.01 2007.59 497.46 2016.2 498.91 2024.57 500.37 2032.68 501.82 2040.54 503.27 2048.16 504.72 2055.52 506.18 2062.64 507.63 2069.5 509.08 2076.12 510.53 2082.48 511.99 2088.6 513.44 2094.47 514.89 2100.08 516.34 2105.45 517.8 2110.57 519.25 2115.44 520.7 2120.06 522.15 2124.43 523.61 2128.54 525.06 2132.41 526.51 2136.03 527.96 2139.4 529.42 2142.53 530.87 2145.4 532.32 2148.02 533.77 2150.39 535.23 2152.51 536.68 2154.38 538.13 2156.01 539.58 2157.38 541.04 2158.5 542.49 2159.38 543.94 2160 545.39 2160.38 546.85 2160.5 548.3" stroke="#808080" stroke-width="2.8" fill="none" stroke-dasharray="11.3 9.2"/>
<path d="M1725.98 462.6L1748.3 548.3" stroke="#ff8000" stroke-width="2.7" fill="none"/>
<path d="M1725.98 462.6L1778 548.3" stroke="#ff00ff" stroke-width="2.7" fill="none"/>
<path d="M1839.08 548.3 1838.17 544.87 1837.25 541.44 1836.32 538.02 1835.36 534.59 1834.4 531.16 1833.41 527.73 1832.41 524.3 1831.4 520.88 1830.37 517.45 1829.33 514.02 1828.28 510.59 1827.21 507.16 1826.13 503.74 1825.04 500.31 1823.93 496.88 1822.82 493.45 1821.69 490.02 1820.56 486.6 1819.41 483.17 1818.26 479.74 1817.1 476.31 1815.93 472.88 1814.75 469.46 1813.57 466.03 1812.38 462.6 1811.18 459.17 1809.98 455.74 1808.78 452.32 1807.57 448.89 1806.36 445.46 1805.15 442.03 1803.93 438.6 1802.71 435.18 1801.49 431.75 1800.27 428.32 1799.06 424.89 1797.84 421.46 1796.62 418.04 1795.41 414.61 1794.19 411.18 1792.99 407.75 1791.78 404.32 1790.58 400.9 1789.38 397.47 1788.19 394.04 1787 390.61 1785.82 387.18 1784.65 383.76 1783.48 380.33 1782.32 376.9 1781.17 373.47 1780.02 370.04 1778.89 366.62 1777.76 363.19 1776.65 359.76 1775.54 356.33 1774.44 352.9 1773.36 349.48 1772.28 346.05 1771.22 342.62 1770.17 339.19 1769.13 335.76 1768.1 332.34 1767.08 328.91 1766.08 325.48 1765.09 322.05 1764.11 318.62 1763.15 315.2 1762.2 311.77 1761.26 308.34 1760.34 304.91 1759.43 301.48 1758.53 298.06 1757.65 294.63 1756.79 291.2 1755.93 287.77 1755.09 284.34 1754.27 280.92 1753.46 277.49 1752.67 274.06 1751.89 270.63 1751.12 267.2 1750.37 263.78 1749.63 260.35 1748.91 256.92 1748.2 253.49 1747.51 250.06 1746.83 246.64 1746.16 243.21 1745.51 239.78 1744.87 236.35 1744.25 232.92 1743.64 229.5 1743.05 226.07 1742.46 222.64 1741.9 219.21 1741.34 215.78 1740.8 212.36 1740.27 208.93 1739.75 205.5 1739.25 202.07 1738.76 198.64 1738.28 195.22 1737.81 191.79 1737.36 188.36 1736.91 184.93 1736.48 181.5 1736.06 178.08 1735.65 174.65 1735.26 171.22 1734.87 167.79 1734.49 164.36 1734.12 160.94 1733.77 157.51 1733.42 154.08 1733.08 150.65 1732.76 147.22 1732.44 143.8 1732.13 140.37 1731.83 136.94 1731.54 133.51 1731.26 130.08 1730.98 126.66 1730.71 123.23 1730.46 119.8 1730.2 116.37 1729.96 112.94 1729.72 109.52 1729.49 106.09 1729.27 102.66 1729.05 99.23 1728.85 95.8 1728.64 92.38 1728.44 88.95 1728.25 85.52 1728.07 82.09 1727.89 78.66 1727.71 75.24 1727.54 71.81 1727.38 68.38 1727.22 64.95 1727.07 61.52 1726.92 58.1 1726.77 54.67 1726.63 51.24 1726.49 47.81 1726.36 44.38 1726.23 40.96 1726.11 37.53 1725.98 34.1" stroke="#00ffff" stroke-width="2.7" fill="none"/>
<path d="M1917.3 548.3 1915.12 544.87 1912.92 541.44 1910.71 538.02 1908.49 534.59 1906.25 531.16 1904.01 527.73 1901.75 524.3 1899.48 520.88 1897.2 517.45 1894.92 514.02 1892.62 510.59 1890.32 507.16 1888.02 503.74 1885.7 500.31 1883.39 496.88 1881.07 493.45 1878.75 490.02 1876.43 486.6 1874.1 483.17 1871.78 479.74 1869.46 476.31 1867.14 472.88 1864.83 469.46 1862.51 466.03 1860.2 462.6 1857.9 459.17 1855.61 455.74 1853.32 452.32 1851.04 448.89 1848.76 445.46 1846.5 442.03 1844.25 438.6 1842.01 435.18 1839.78 431.75 1837.57 428.32 1835.36 424.89 1833.18 421.46 1831 418.04 1828.85 414.61 1826.71 411.18 1824.58 407.75 1822.48 404.32 1820.39 400.9 1818.32 397.47 1816.27 394.04 1814.24 390.61 1812.24 387.18 1810.25 383.76 1808.28 380.33 1806.34 376.9 1804.42 373.47 1802.52 370.04 1800.65 366.62 1798.8 363.19 1796.97 359.76 1795.17 356.33 1793.4 352.9 1791.64 349.48 1789.92 346.05 1788.22 342.62 1786.55 339.19 1784.9 335.76 1783.28 332.34 1781.68 328.91 1780.11 325.48 1778.57 322.05 1777.06 318.62 1775.57 315.2 1774.11 311.77 1772.68 308.34 1771.27 304.91 1769.89 301.48 1768.54 298.06 1767.22 294.63 1765.92 291.2 1764.65 287.77 1763.41 284.34 1762.19 280.92 1761 277.49 1759.84 274.06 1758.7 270.63 1757.59 267.2 1756.5 263.78 1755.44 260.35 1754.41 256.92 1753.4 253.49 1752.41 250.06 1751.45 246.64 1750.52 243.21 1749.61 239.78 1748.72 236.35 1747.86 232.92 1747.02 229.5 1746.2 226.07 1745.4 222.64 1744.63 219.21 1743.88 215.78 1743.15 212.36 1742.44 208.93 1741.76 205.5 1741.09 202.07 1740.45 198.64 1739.82 195.22 1739.21 191.79 1738.63 188.36 1738.06 184.93 1737.51 181.5 1736.97 178.08 1736.46 174.65 1735.96 171.22 1735.48 167.79 1735.01 164.36 1734.56 160.94 1734.13 157.51 1733.71 154.08 1733.31 150.65 1732.92 147.22 1732.55 143.8 1732.19 140.37 1731.84 136.94 1731.5 133.51 1731.18 130.08 1730.87 126.66 1730.57 123.23 1730.29 119.8 1730.01 116.37 1729.75 112.94 1729.5 109.52 1729.25 106.09 1729.02 102.66 1728.8 99.23 1728.58 95.8 1728.38 92.38 1728.18 88.95 1727.99 85.52 1727.81 82.09 1727.64 78.66 1727.48 75.24 1727.32 71.81 1727.17 68.38 1727.02 64.95 1726.89 61.52 1726.75 58.1 1726.63 54.67 1726.51 51.24 1726.39 47.81 1726.29 44.38 1726.18 40.96 1726.08 37.53 1725.98 34.1" stroke="#ff0000" stroke-width="2.7" fill="none"/>
<rect x="1698.6" y="33.5" width="461.9" height="514.6" fill="none" stroke="#1a1a1a" stroke-width="1.2"/>
<path d="M1698.6 460.92h8M1698.6 375.55h8M1698.6 290.17h8M1698.6 204.8h8M1698.6 119.42h8M1698.6 548.1v-8M1764.59 548.1v-8M1830.57 548.1v-8M1896.56 548.1v-8M1962.54 548.1v-8M2028.53 548.1v-8M2094.51 548.1v-8M2160.5 548.1v-8" stroke="#1a1a1a" stroke-width="1.2" fill="none"/>
<text transform="translate(1670.79,554.47) scale(1.1500,1)" font-size="23.4">0</text>
<text transform="translate(1655.83,469.09) scale(1.1500,1)" font-size="23.4">50</text>
<text transform="translate(1645.44,383.72) scale(1.0300,1)" font-size="23.4">100</text>
<text transform="translate(1645.44,298.34) scale(1.0300,1)" font-size="23.4">150</text>
<text transform="translate(1643.15,212.97) scale(1.0900,1)" font-size="23.4">200</text>
<text transform="translate(1643.15,127.59) scale(1.0900,1)" font-size="23.4">250</text>
<text transform="translate(1640.86,42.22) scale(1.1500,1)" font-size="23.4">300</text>
<text transform="translate(1680.73,575.1) scale(0.9150,1)" font-size="23.4">−14</text>
<text transform="translate(1746.94,575.1) scale(0.9150,1)" font-size="23.4">−12</text>
<text transform="translate(1812.81,575.1) scale(0.9150,1)" font-size="23.4">−10</text>
<text transform="translate(1884.05,575.1) scale(0.9700,1)" font-size="23.4">−8</text>
<text transform="translate(1950.05,575.1) scale(0.9700,1)" font-size="23.4">−6</text>
<text transform="translate(2015.86,575.1) scale(0.9700,1)" font-size="23.4">−4</text>
<text transform="translate(2082.09,575.1) scale(0.9700,1)" font-size="23.4">−2</text>
<text transform="translate(2153.52,575.1) scale(1.1500,1)" font-size="23.4">0</text>
<text transform="translate(1622.1,443.83) rotate(-90) scale(1.0063,1)" font-size="28.2">Elevation above bed (m)</text>
<text transform="translate(1785.38,615.7) scale(1.0041,1)" font-size="28.2">Basal temperature (°C)</text>
<text transform="translate(1599.04,28.2) scale(1.0627,1)" font-size="37.6" font-weight="bold" stroke="#000" stroke-width="1.4" stroke-linejoin="round">c</text>
</svg>
</body></html>
